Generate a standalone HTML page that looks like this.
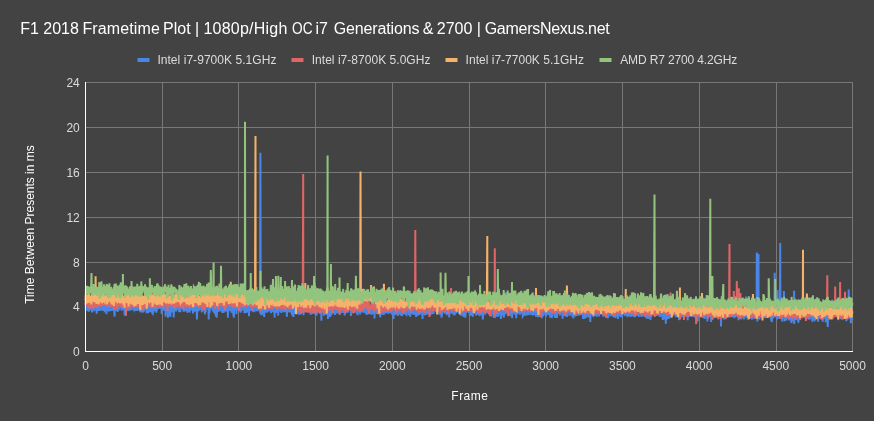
<!DOCTYPE html><html><head><meta charset="utf-8"><title>F1 2018 Frametime Plot</title>
<style>html,body{margin:0;padding:0;background:#434343;overflow:hidden}svg{display:block}text{font-family:"Liberation Sans",Arial,sans-serif}</style></head><body>
<svg width="874" height="421" viewBox="0 0 874 421">
<rect width="874" height="421" fill="#434343"/>
<text y="33.7" font-size="16" fill="#ffffff" xml:space="preserve"><tspan x="20.31" letter-spacing="0.0">F1 </tspan><tspan x="43.3" letter-spacing="0.0">2018 </tspan><tspan x="82.43" letter-spacing="0.129">Frametime </tspan><tspan x="163.05" letter-spacing="0.027">Plot </tspan><tspan x="194.88" letter-spacing="0.0">| </tspan><tspan x="203.51" letter-spacing="0.224">1080p/High </tspan><tspan x="292.0" textLength="20.5" lengthAdjust="spacingAndGlyphs">OC</tspan><tspan> </tspan><tspan x="315.39" letter-spacing="0.0">i7 </tspan><tspan x="333.75" letter-spacing="-0.145">Generations </tspan><tspan x="422.84" letter-spacing="0.0">&amp; </tspan><tspan x="436.8" letter-spacing="0.0">2700 </tspan><tspan x="476.78" letter-spacing="0.0">| </tspan><tspan x="484.65" letter-spacing="-0.269">GamersNexus.net </tspan></text>
<rect x="137.5" y="58" width="12" height="4" fill="#4a86e8"/>
<text x="157.39" y="64" font-size="12" fill="#dcdcdc" letter-spacing="0.049">Intel i7-9700K 5.1GHz</text>
<rect x="291.5" y="58" width="12" height="4" fill="#e06666"/>
<text x="311.7" y="64" font-size="12" fill="#dcdcdc" letter-spacing="0.034">Intel i7-8700K 5.0GHz</text>
<rect x="445.5" y="58" width="12" height="4" fill="#f6b26b"/>
<text x="465.61" y="64" font-size="12" fill="#dcdcdc" letter-spacing="0.014">Intel i7-7700K 5.1GHz</text>
<rect x="599.5" y="58" width="12" height="4" fill="#93c47d"/>
<text x="620.19" y="64" font-size="12" fill="#dcdcdc" letter-spacing="-0.136">AMD R7 2700 4.2GHz</text>
<rect x="162" y="82" width="1" height="270" fill="#787878"/>
<rect x="238" y="82" width="1" height="270" fill="#787878"/>
<rect x="315" y="82" width="1" height="270" fill="#787878"/>
<rect x="392" y="82" width="1" height="270" fill="#787878"/>
<rect x="469" y="82" width="1" height="270" fill="#787878"/>
<rect x="545" y="82" width="1" height="270" fill="#787878"/>
<rect x="622" y="82" width="1" height="270" fill="#787878"/>
<rect x="699" y="82" width="1" height="270" fill="#787878"/>
<rect x="776" y="82" width="1" height="270" fill="#787878"/>
<rect x="852" y="82" width="1" height="270" fill="#787878"/>
<rect x="85" y="82" width="768" height="1" fill="#787878"/>
<rect x="85" y="127" width="768" height="1" fill="#787878"/>
<rect x="85" y="172" width="768" height="1" fill="#787878"/>
<rect x="85" y="217" width="768" height="1" fill="#787878"/>
<rect x="85" y="262" width="768" height="1" fill="#787878"/>
<rect x="85" y="306" width="768" height="1" fill="#787878"/>
<g fill="none" stroke-width="2" stroke-linejoin="miter" stroke-linecap="butt">
<path d="M85.7,300.2 85.8,310.7 86.1,298.6 86.4,310.6 86.7,305.5 86.9,298.0 87.0,302.2 87.2,310.4 87.8,306.9 88.0,305.6 88.1,299.4 88.4,311.4 88.6,301.8 88.7,309.3 89.0,311.6 89.3,305.0 89.6,300.9 89.8,304.9 90.3,304.1 90.4,300.8 90.7,310.3 90.9,296.3 91.0,299.0 91.5,308.9 91.8,308.2 91.9,306.8 92.1,312.5 92.4,299.7 92.7,306.8 92.9,304.9 93.2,298.8 93.3,304.7 93.8,300.1 93.9,309.7 94.2,311.1 94.4,303.3 94.6,306.5 94.7,304.8 95.2,305.3 95.3,295.0 95.6,308.1 95.8,295.1 96.2,309.6 96.4,305.8 96.5,307.5 96.7,313.6 97.2,302.8 97.3,308.9 97.6,303.2 97.9,307.1 98.1,305.1 98.2,304.8 98.5,297.8 98.7,310.8 99.2,305.5 99.5,307.8 99.6,308.4 99.8,295.8 100.1,300.6 100.2,305.9 100.5,310.7 100.8,306.1 101.1,305.9 101.3,302.2 101.6,304.2 101.9,308.5 102.1,305.6 102.4,308.9 102.7,310.2 103.0,298.9 103.3,296.8 103.4,311.0 103.6,308.0 103.9,300.7 104.1,307.3 104.2,305.6 104.7,300.0 104.8,310.4 105.3,309.8 105.4,295.9 105.6,308.1 105.9,305.5 106.1,307.0 106.4,293.7 106.5,314.2 106.7,304.7 107.1,307.1 107.4,308.2 107.6,310.4 107.7,307.6 108.2,303.9 108.4,306.6 108.5,308.0 108.8,311.4 109.1,306.6 109.3,311.5 109.7,307.6 109.9,304.5 110.0,300.2 110.2,306.7 110.5,301.5 110.7,306.9 111.1,296.3 111.4,310.9 111.7,309.2 111.9,306.3 112.0,309.1 112.2,302.6 112.7,298.3 113.0,307.2 113.1,310.7 113.3,302.4 113.7,303.3 113.9,291.0 114.0,301.1 114.2,311.2 114.6,316.6 115.0,299.4 115.1,305.3 115.4,310.6 115.6,301.3 115.9,308.9 116.3,295.0 116.5,306.7 116.6,293.9 116.9,310.9 117.1,307.5 117.3,306.5 117.6,312.0 117.7,307.8 118.3,300.5 118.5,305.4 118.6,302.5 118.8,310.5 119.1,305.8 119.4,290.0 119.6,303.1 119.9,308.1 120.0,288.9 120.3,307.1 120.8,303.8 120.9,308.0 121.1,295.9 121.4,310.3 121.7,301.7 121.9,307.6 122.2,301.4 122.5,309.2 122.8,308.9 122.9,299.8 123.1,308.4 123.4,301.1 123.5,303.1 123.7,309.5 124.3,302.0 124.5,308.9 124.6,315.6 124.9,307.8 125.1,308.4 125.4,303.7 125.5,299.8 125.7,310.2 126.2,302.9 126.3,307.3 126.6,306.5 126.9,309.9 127.1,299.4 127.2,307.2 127.5,304.1 127.7,310.7 128.3,306.4 128.5,311.1 128.6,303.7 128.8,307.8 129.1,306.5 129.4,303.0 129.7,310.6 129.8,303.1 130.3,302.2 130.4,310.1 130.6,309.4 130.8,293.5 131.1,300.4 131.4,310.4 131.5,299.7 131.8,306.1 132.3,309.0 132.4,308.0 132.6,309.3 132.9,306.2 133.2,302.4 133.4,308.6 133.7,309.2 134.0,304.4 134.1,307.2 134.3,309.8 134.7,301.9 134.9,307.7 135.2,301.2 135.4,311.1 135.5,301.4 135.7,310.4 136.1,302.1 136.4,309.5 136.7,304.7 136.9,308.8 137.0,308.4 137.2,307.0 137.5,311.0 137.7,305.7 138.3,295.7 138.4,306.9 138.6,308.8 138.9,303.6 139.2,308.7 139.5,297.5 139.7,309.4 139.8,307.6 140.3,312.1 140.4,308.0 140.7,294.6 140.9,307.3 141.0,305.8 141.2,310.0 141.6,312.3 141.8,306.2 142.1,301.8 142.4,307.1 142.6,309.3 142.7,302.5 143.0,312.6 143.2,299.0 143.8,311.7 143.9,309.8 144.1,306.4 144.3,301.8 144.7,307.6 144.9,301.6 145.0,310.5 145.2,302.6 145.6,300.4 145.8,306.9 146.2,308.7 146.4,304.0 146.6,313.2 146.9,301.5 147.0,292.5 147.2,309.9 147.6,301.1 147.9,296.1 148.1,313.2 148.4,303.5 148.5,311.5 148.7,296.1 149.0,309.6 149.5,300.7 149.6,306.7 149.8,312.1 150.2,309.5 150.4,296.5 150.5,311.9 150.8,299.2 151.2,302.9 151.5,307.9 151.6,293.3 151.9,311.1 152.1,300.7 152.2,312.8 152.7,313.4 152.8,298.7 153.1,300.9 153.3,312.8 153.6,299.6 153.8,309.6 154.1,306.8 154.4,308.2 154.5,311.1 154.7,302.6 155.3,306.7 155.5,299.3 155.6,307.4 155.8,299.4 156.1,305.2 156.4,312.8 156.5,310.9 157.0,305.0 157.1,310.3 157.3,306.4 157.6,307.4 157.8,299.0 158.1,305.8 158.2,307.6 158.8,306.7 159.0,299.9 159.1,299.9 159.4,307.4 159.7,296.4 159.9,307.9 160.1,308.8 160.2,304.3 160.5,293.3 160.7,309.0 161.1,303.3 161.3,305.9 161.6,296.3 161.7,313.9 162.0,307.0 162.2,302.0 162.5,310.3 162.7,296.0 163.3,308.4 163.4,302.4 163.6,297.3 163.9,304.3 164.2,306.9 164.3,310.9 164.8,307.5 165.0,296.7 165.1,308.2 165.3,300.3 165.6,316.5 165.7,299.6 166.0,307.5 166.5,303.5 166.6,311.9 166.8,295.2 167.1,310.6 167.4,302.3 167.6,301.5 167.9,317.8 168.0,308.0 168.2,300.8 168.6,310.6 168.8,307.5 169.1,307.1 169.3,315.3 169.6,307.5 169.7,300.9 170.2,303.9 170.3,317.1 170.6,302.4 170.8,309.3 171.1,308.4 171.4,302.6 171.6,312.6 171.7,307.1 172.0,304.8 172.2,298.5 172.6,305.7 172.9,308.9 173.1,299.6 173.2,307.7 173.6,302.8 173.7,317.5 174.0,304.7 174.2,311.4 174.6,310.6 174.8,305.3 175.2,308.3 175.4,299.6 175.7,308.7 175.9,303.9 176.2,311.5 176.3,301.1 176.8,301.4 176.9,307.4 177.1,309.5 177.4,302.6 177.7,302.6 177.8,307.6 178.0,302.7 178.3,307.7 178.6,309.8 178.9,302.3 179.1,312.1 179.4,307.0 179.8,303.9 180.0,309.6 180.3,312.2 180.5,296.2 180.6,308.9 180.9,302.8 181.2,304.5 181.4,299.2 181.7,308.9 181.8,298.1 182.1,293.2 182.4,307.8 182.8,306.9 182.9,300.4 183.2,301.6 183.4,310.6 183.8,310.7 184.0,304.5 184.1,309.5 184.4,306.8 184.6,311.0 184.9,306.8 185.1,306.1 185.2,307.7 185.8,291.9 186.0,306.2 186.1,305.4 186.3,310.0 186.7,311.4 186.9,306.2 187.1,302.0 187.2,309.0 187.5,305.4 187.7,312.9 188.1,299.1 188.4,309.8 188.6,299.5 188.9,307.9 189.0,293.6 189.2,311.0 189.7,311.3 189.8,296.6 190.3,307.0 190.4,302.2 190.6,310.4 190.7,300.4 191.0,308.3 191.3,305.3 191.7,309.6 192.0,306.4 192.1,300.6 192.4,308.3 192.7,310.6 192.9,295.9 193.0,313.4 193.5,296.9 193.6,309.2 194.0,305.7 194.3,307.6 194.4,304.5 194.6,311.7 194.9,306.2 195.0,297.5 195.2,310.5 195.6,310.3 195.9,295.3 196.1,297.4 196.3,304.6 196.6,306.0 196.9,319.4 197.3,309.2 197.5,306.3 197.6,298.4 197.8,309.7 198.2,308.8 198.4,302.3 198.6,311.3 198.7,307.1 199.3,309.6 199.5,303.8 199.6,308.5 199.9,299.9 200.1,305.1 200.4,309.3 200.6,309.8 200.7,303.1 201.2,308.6 201.5,301.5 201.6,298.1 201.8,311.9 202.1,303.2 202.2,310.8 202.7,310.3 202.9,304.2 203.2,297.0 203.3,308.3 203.8,309.5 203.9,307.3 204.1,310.0 204.2,301.1 204.7,306.3 204.8,314.3 205.2,310.5 205.5,306.0 205.6,312.1 205.9,307.0 206.1,306.4 206.2,301.1 206.8,304.6 207.0,308.5 207.1,306.6 207.3,297.9 207.8,299.7 207.9,305.6 208.1,309.4 208.4,295.5 208.7,319.6 208.8,303.7 209.1,304.7 209.4,313.1 209.8,310.1 209.9,300.8 210.1,307.9 210.2,299.8 210.7,307.7 210.8,300.6 211.1,307.3 211.4,302.5 211.6,300.3 211.9,308.1 212.1,306.3 212.4,310.4 212.5,305.3 212.8,309.2 213.3,307.4 213.4,312.1 213.7,304.9 213.9,308.6 214.2,313.1 214.4,307.2 214.5,309.3 214.8,307.4 215.3,307.5 215.4,314.4 215.6,305.0 215.9,315.9 216.0,316.0 216.4,306.1 216.5,297.9 216.8,317.4 217.1,298.2 217.3,309.3 217.6,296.6 217.9,308.0 218.0,298.4 218.5,311.9 218.7,307.6 219.0,297.9 219.1,305.2 219.3,306.6 219.6,303.8 219.9,309.4 220.0,301.9 220.3,308.3 220.8,311.2 221.0,305.1 221.1,307.7 221.3,290.2 221.7,300.7 221.9,310.6 222.0,296.3 222.2,312.8 222.8,305.6 222.9,301.3 223.1,299.2 223.4,311.1 223.7,312.8 223.9,303.7 224.0,305.1 224.5,309.1 224.6,311.7 224.9,307.8 225.1,310.7 225.4,299.6 225.6,308.9 225.7,307.6 226.0,311.1 226.2,305.2 226.8,311.3 226.9,307.4 227.2,293.2 227.4,312.3 227.5,298.1 227.9,317.8 228.2,298.0 228.3,311.4 228.8,306.2 228.9,309.1 229.2,306.5 229.4,310.0 229.5,302.0 229.7,308.9 230.2,303.3 230.5,311.0 230.8,300.4 230.9,308.6 231.2,304.7 231.4,306.3 231.5,312.7 231.7,301.2 232.2,301.7 232.5,308.4 232.8,310.1 232.9,300.6 233.1,306.3 233.4,315.5 233.5,297.1 233.8,317.7 234.1,310.0 234.5,298.9 234.6,308.2 234.8,302.0 235.2,309.1 235.4,293.3 235.7,310.5 236.0,305.1 236.3,304.7 236.4,314.3 236.8,307.1 236.9,302.9 237.2,308.8 237.4,303.7 237.5,302.5 238.0,307.6 238.3,306.1 238.4,302.8 238.6,310.4 238.9,305.4 239.1,308.4 239.4,298.1 239.5,306.1 239.7,311.5 240.1,303.3 240.3,298.6 240.6,312.8 240.7,301.4 241.0,311.8 241.2,305.7 241.5,308.2 241.8,305.4 242.1,303.1 242.4,309.9 242.7,306.0 242.9,300.6 243.0,310.3 243.2,308.8 243.5,309.9 244.0,302.7 244.3,301.9 244.4,313.3 244.7,308.7 244.9,300.1 245.0,311.7 245.3,298.2 245.8,303.5 246.0,310.9 246.1,313.0 246.3,301.2 246.7,310.9 246.9,293.3 247.3,303.0 247.5,312.4 247.6,304.5 247.8,310.4 248.3,303.1 248.4,306.5 248.6,310.5 248.9,303.7 249.0,316.2 249.2,298.5 249.6,301.6 249.8,307.5 250.1,299.1 250.3,308.8 250.7,310.9 250.9,301.3 251.0,309.3 251.2,310.8 251.8,299.7 251.9,308.2 252.1,309.0 252.4,302.1 252.6,311.5 252.7,301.8 253.2,298.2 253.3,312.1 253.6,309.4 253.8,299.8 254.2,303.6 254.4,312.3 254.5,296.3 254.7,310.9 255.0,299.0 255.3,310.4 255.6,304.1 255.9,299.5 256.2,302.3 256.4,306.2 256.5,305.8 256.7,294.2 257.0,311.3 257.5,303.8 257.8,307.6 257.9,300.2 258.2,298.4 258.4,309.5 258.8,310.9 259.0,298.6 259.3,305.6 259.5,311.3 259.6,304.9 259.8,306.4 260.1,313.4 260.4,152.8 260.7,305.2 261.0,310.8 261.3,315.3 261.4,304.4 261.6,297.2 261.9,307.0 262.1,305.6 262.4,314.4 262.7,297.8 262.8,311.2 263.1,308.4 263.3,310.6 263.6,307.7 263.9,310.4 264.2,316.9 264.4,290.9 264.5,303.6 264.8,310.6 265.1,310.7 265.3,299.9 265.6,310.1 265.9,305.8 266.2,312.8 266.4,296.0 266.5,312.6 266.8,303.2 267.3,311.6 267.4,303.5 267.6,312.3 267.7,302.9 268.0,310.3 268.2,307.7 268.7,311.3 269.0,304.1 269.3,307.8 269.4,303.3 269.7,307.4 269.9,310.9 270.0,299.6 270.3,306.6 270.5,302.4 271.0,313.0 271.1,312.3 271.4,304.1 271.6,310.6 271.7,305.2 272.0,302.1 272.2,312.0 272.6,300.4 272.8,309.3 273.1,309.4 273.3,304.1 273.7,312.4 273.9,300.9 274.2,310.0 274.5,305.7 274.6,317.4 274.8,303.4 275.3,307.7 275.4,295.1 275.6,310.9 275.9,302.7 276.0,312.9 276.5,303.4 276.6,311.4 276.9,306.5 277.1,300.6 277.4,309.5 277.6,308.1 277.7,296.7 278.2,315.6 278.5,295.5 278.6,310.6 278.9,300.7 279.1,310.1 279.4,302.7 279.6,300.7 279.9,308.8 280.0,298.0 280.5,312.3 280.8,307.2 280.9,309.8 281.1,304.9 281.4,312.9 281.7,310.7 281.9,303.1 282.2,311.1 282.3,301.4 282.6,295.9 282.9,305.9 283.2,311.5 283.4,303.0 283.8,299.3 284.0,310.2 284.2,312.2 284.5,304.9 284.6,306.0 284.8,302.9 285.1,306.9 285.2,310.4 285.5,303.0 285.8,312.2 286.3,307.7 286.5,298.9 286.6,309.0 286.9,316.6 287.1,309.3 287.2,306.7 287.7,310.7 287.8,303.4 288.3,296.8 288.4,312.3 288.6,307.1 288.8,311.0 289.1,307.0 289.4,309.7 289.5,312.2 289.8,301.9 290.1,302.8 290.3,310.7 290.6,312.7 290.9,307.9 291.1,312.1 291.2,306.3 291.8,302.7 292.0,315.2 292.1,310.2 292.3,301.2 292.6,312.5 292.7,309.3 293.2,311.2 293.4,317.0 293.8,312.7 294.0,304.5 294.1,311.3 294.4,303.7 294.6,304.5 294.9,310.4 295.2,309.0 295.4,313.8 295.5,311.1 295.7,304.9 296.1,305.7 296.4,310.9 296.7,311.4 296.9,304.8 297.3,298.5 297.5,306.2 297.7,309.1 297.8,307.6 298.1,314.3 298.3,302.5 298.7,303.6 298.9,312.5 299.2,314.1 299.3,302.3 299.6,314.9 299.8,303.8 300.3,310.4 300.4,301.4 300.7,310.9 300.9,305.4 301.0,295.9 301.5,311.0 301.8,302.3 301.9,311.5 302.3,310.9 302.4,309.1 302.6,311.8 302.9,298.7 303.3,309.1 303.5,315.1 303.8,310.8 303.9,301.9 304.1,309.0 304.4,303.2 304.6,301.4 304.9,310.1 305.2,301.8 305.5,311.0 305.8,312.0 305.9,299.4 306.1,309.8 306.4,312.2 306.5,306.5 306.9,300.8 307.0,311.4 307.3,306.4 307.8,309.1 307.9,312.1 308.1,296.6 308.2,311.3 308.5,308.6 308.7,307.2 309.0,311.0 309.3,300.7 309.6,308.5 309.8,310.6 310.2,311.8 310.4,302.8 310.5,314.8 310.8,303.1 311.3,314.3 311.5,312.9 311.8,309.3 311.9,310.7 312.2,306.0 312.4,313.3 312.5,313.9 313.0,306.3 313.1,299.4 313.5,306.2 313.6,309.0 313.9,298.2 314.2,313.7 314.4,296.9 314.7,312.7 315.0,300.9 315.1,309.2 315.4,305.5 315.8,315.4 315.9,310.9 316.2,307.3 316.4,311.5 316.7,315.4 317.0,305.8 317.3,313.3 317.4,310.9 317.6,303.9 317.7,307.8 318.1,309.8 318.4,307.3 318.5,311.5 319.0,300.9 319.3,309.3 319.4,310.4 319.7,310.1 319.9,304.2 320.0,314.0 320.4,304.1 320.5,294.6 321.0,310.3 321.1,309.4 321.4,320.8 321.6,306.4 321.9,311.3 322.0,298.9 322.2,311.5 322.5,301.3 323.0,311.6 323.1,312.7 323.4,305.5 323.7,309.2 323.9,315.6 324.0,297.8 324.2,313.7 324.7,309.2 325.0,304.2 325.1,300.8 325.3,314.8 325.6,311.2 325.9,298.8 326.3,314.5 326.5,304.0 326.6,310.2 326.8,308.5 327.1,305.3 327.3,310.5 327.6,299.1 327.9,318.9 328.2,312.6 328.3,304.2 328.8,310.1 328.9,313.5 329.3,314.0 329.4,309.0 329.7,317.3 329.9,312.6 330.3,304.6 330.5,312.3 330.8,306.0 330.9,312.0 331.1,306.7 331.2,314.4 331.6,313.8 331.9,304.3 332.0,299.6 332.5,313.2 332.8,311.7 332.9,302.7 333.1,306.7 333.4,311.6 333.5,302.7 333.7,310.6 334.0,313.3 334.3,308.4 334.8,308.8 334.9,315.0 335.2,310.4 335.4,303.7 335.5,310.8 335.7,304.9 336.0,311.3 336.3,300.1 336.6,312.1 336.9,304.9 337.1,313.4 337.2,308.5 337.5,305.1 337.8,312.8 338.1,308.5 338.3,311.3 338.6,310.6 338.9,301.2 339.2,302.7 339.4,309.9 339.5,296.7 339.8,314.7 340.1,305.3 340.5,312.0 340.8,306.1 340.9,312.8 341.1,311.6 341.4,308.1 341.7,306.0 341.8,310.2 342.1,312.8 342.3,309.8 342.6,310.6 342.9,302.0 343.1,313.0 343.4,307.0 343.5,304.6 344.0,309.8 344.1,305.2 344.3,310.4 344.6,306.2 344.7,315.5 345.1,310.6 345.4,309.2 345.7,313.3 346.0,305.2 346.1,311.1 346.3,297.8 346.7,310.6 346.9,301.4 347.0,307.5 347.2,304.2 347.8,306.6 348.0,312.8 348.1,309.9 348.3,298.4 348.7,310.8 348.9,310.2 349.0,310.9 349.2,304.8 349.5,303.1 349.7,305.1 350.3,308.5 350.4,305.2 350.7,307.2 350.9,316.0 351.0,312.2 351.5,301.8 351.6,313.3 352.0,304.1 352.1,297.2 352.3,307.4 352.6,312.4 352.7,302.6 353.0,310.8 353.5,308.2 353.6,311.4 353.8,304.3 354.1,302.7 354.3,310.0 354.6,308.4 354.9,312.7 355.0,299.3 355.5,312.6 355.6,304.6 355.8,311.3 356.1,301.3 356.3,310.0 356.6,311.4 356.9,313.0 357.2,313.6 357.5,299.3 357.6,315.2 357.9,303.6 358.1,310.4 358.2,301.9 358.7,311.1 358.9,304.8 359.2,304.2 359.5,312.3 359.6,309.8 359.9,312.6 360.2,314.3 360.4,302.4 360.7,299.4 360.9,309.4 361.2,311.7 361.5,305.9 361.8,308.8 361.9,311.7 362.1,304.5 362.4,300.5 362.5,312.5 362.7,302.3 363.0,303.2 363.5,312.7 363.6,305.5 363.9,312.7 364.1,312.1 364.2,302.8 364.7,299.1 364.8,311.4 365.1,311.7 365.3,301.6 365.8,312.3 365.9,306.6 366.2,314.7 366.4,307.1 366.7,307.7 366.8,301.1 367.1,313.8 367.3,304.3 367.6,314.6 367.9,310.2 368.1,307.7 368.4,309.7 368.8,312.1 369.0,299.0 369.1,311.8 369.3,306.6 369.6,307.2 369.8,311.3 370.1,311.3 370.2,305.1 370.7,314.3 370.8,307.6 371.1,307.6 371.4,309.7 371.6,314.7 371.7,311.2 372.1,313.6 372.2,302.5 372.5,307.2 372.7,300.5 373.1,314.0 373.4,308.6 373.7,305.5 373.9,310.4 374.0,309.2 374.2,300.5 374.5,318.4 374.8,309.2 375.1,304.2 375.4,312.0 375.6,300.6 375.9,307.5 376.2,306.9 376.5,312.3 376.7,310.6 376.8,314.0 377.1,306.4 377.3,310.9 377.6,311.4 377.7,307.8 378.0,314.1 378.3,301.0 378.6,311.0 378.8,306.9 379.1,314.0 379.3,306.9 379.6,305.8 379.7,311.1 380.3,317.3 380.5,300.2 380.8,310.6 380.9,302.0 381.1,314.8 381.3,301.4 381.6,306.9 381.7,312.6 382.3,313.1 382.5,299.6 382.8,313.5 382.9,303.8 383.1,311.1 383.4,314.9 383.6,309.1 383.7,314.6 384.0,312.6 384.2,303.8 384.6,314.3 384.8,296.8 385.1,311.9 385.4,293.3 385.6,307.7 385.9,312.9 386.0,299.2 386.3,312.6 386.8,308.3 386.9,301.6 387.1,313.3 387.2,307.5 387.5,313.1 387.7,305.0 388.2,311.0 388.3,313.8 388.8,311.6 388.9,306.0 389.1,306.6 389.2,311.4 389.5,303.8 389.7,309.5 390.2,313.2 390.3,304.7 390.6,311.3 390.8,310.1 391.1,301.9 391.2,309.8 391.5,305.5 392.0,313.4 392.1,314.7 392.3,310.2 392.8,301.8 392.9,310.2 393.2,315.7 393.4,305.1 393.5,319.1 393.7,306.0 394.3,311.0 394.4,313.7 394.6,297.7 394.8,309.8 395.2,307.5 395.4,314.9 395.8,301.0 396.0,313.2 396.1,313.1 396.3,305.8 396.7,309.5 396.9,302.0 397.1,307.1 397.4,310.9 397.8,315.9 398.0,305.7 398.3,301.7 398.4,311.1 398.6,304.8 398.9,310.5 399.2,314.3 399.4,305.9 399.5,307.6 399.7,310.9 400.3,305.7 400.4,311.7 400.6,310.3 400.9,315.5 401.0,308.3 401.2,306.1 401.7,299.2 401.8,314.2 402.1,316.0 402.3,307.1 402.7,309.9 402.9,312.6 403.3,310.8 403.5,297.9 403.8,306.2 404.0,314.3 404.1,312.6 404.4,311.7 404.7,314.3 404.9,309.1 405.0,302.5 405.3,313.1 405.6,311.7 406.0,314.0 406.3,314.4 406.4,310.9 406.6,315.4 406.7,302.7 407.3,303.3 407.5,312.9 407.6,309.3 407.8,304.8 408.3,310.4 408.4,305.3 408.6,305.3 408.7,311.9 409.0,315.1 409.2,308.0 409.6,309.3 409.8,314.2 410.2,316.7 410.4,304.9 410.7,300.6 410.9,309.7 411.0,312.7 411.5,306.2 411.6,313.1 411.9,307.7 412.1,314.3 412.2,310.2 412.5,310.5 412.7,312.0 413.0,303.7 413.3,311.4 413.8,314.8 413.9,306.4 414.2,311.2 414.4,304.4 414.5,303.8 414.8,311.9 415.2,301.5 415.5,310.8 415.6,311.8 415.8,313.2 416.2,317.0 416.4,297.5 416.5,312.7 416.7,308.0 417.2,304.8 417.5,312.1 417.8,313.3 417.9,308.3 418.1,315.6 418.2,309.0 418.8,313.1 419.0,303.2 419.1,305.1 419.5,314.9 419.6,313.7 419.8,311.6 420.1,304.0 420.4,313.9 420.8,300.8 421.0,309.4 421.1,301.7 421.4,313.9 421.6,311.0 421.9,308.2 422.1,311.6 422.2,304.3 422.5,319.0 423.0,302.7 423.1,313.3 423.4,303.4 423.6,303.5 423.7,313.0 424.1,313.5 424.2,310.1 424.5,313.6 425.0,299.5 425.3,311.4 425.4,302.1 425.6,304.4 425.7,310.3 426.0,303.3 426.2,314.1 426.7,314.0 427.0,310.1 427.1,309.3 427.3,300.6 427.6,307.0 427.7,312.8 428.0,313.9 428.2,313.0 428.5,312.4 428.8,308.1 429.1,305.0 429.3,311.2 429.7,295.3 429.9,306.2 430.3,315.4 430.5,306.7 430.6,303.2 431.0,312.7 431.1,314.3 431.3,304.6 431.6,307.9 431.7,314.0 432.2,312.0 432.3,308.2 432.6,310.0 432.8,307.4 433.1,311.1 433.4,313.9 433.6,312.4 433.9,298.1 434.0,302.0 434.3,308.1 434.8,310.6 434.9,306.7 435.3,309.6 435.4,306.3 435.6,305.4 435.9,310.9 436.2,298.9 436.5,312.2 436.6,301.2 436.8,312.5 437.2,305.9 437.4,311.6 437.7,311.1 437.9,299.4 438.0,312.0 438.2,300.9 438.6,309.0 438.8,311.4 439.2,305.7 439.4,314.2 439.5,314.6 439.9,305.2 440.2,306.0 440.5,312.2 440.8,313.9 440.9,312.0 441.1,304.4 441.4,311.5 441.5,317.7 441.8,305.1 442.0,315.7 442.2,309.4 442.6,304.7 442.8,308.2 443.2,311.8 443.4,307.4 443.5,312.4 443.7,300.4 444.1,310.1 444.3,302.2 444.6,304.3 444.8,313.8 445.1,309.0 445.4,311.6 445.8,305.1 446.0,313.0 446.1,307.5 446.3,312.1 446.6,314.4 446.9,302.1 447.1,303.9 447.4,313.7 447.8,313.3 448.0,307.1 448.1,311.4 448.4,306.9 448.6,310.8 448.8,314.3 449.1,308.3 449.2,317.4 449.8,304.8 450.0,312.3 450.1,294.6 450.3,309.3 450.7,310.0 450.9,303.1 451.1,304.8 451.2,313.4 451.7,308.5 451.8,313.5 452.1,312.5 452.3,311.7 452.6,303.8 452.7,313.5 453.0,305.4 453.2,308.1 453.8,315.3 454.0,309.7 454.3,308.7 454.4,303.9 454.7,315.2 454.9,306.0 455.0,307.7 455.2,311.9 455.8,304.4 456.0,313.6 456.1,306.5 456.4,310.9 456.6,300.2 456.7,309.2 457.3,298.1 457.5,312.3 457.6,296.4 457.8,308.0 458.1,306.9 458.4,312.7 458.6,305.5 458.9,312.2 459.2,313.1 459.5,308.9 459.6,307.6 459.9,312.6 460.3,315.2 460.4,304.6 460.6,309.0 460.7,310.3 461.0,304.2 461.2,315.7 461.8,310.2 461.9,303.7 462.1,308.4 462.4,314.5 462.7,313.6 462.9,304.6 463.0,292.7 463.2,313.8 463.6,316.9 463.8,305.1 464.1,306.3 464.2,314.4 464.6,300.6 464.7,314.5 465.2,306.1 465.3,317.8 465.6,313.7 465.8,304.9 466.1,310.6 466.4,305.9 466.7,303.9 466.9,306.7 467.2,311.9 467.3,301.8 467.8,301.4 467.9,308.7 468.1,308.9 468.4,311.5 468.5,312.8 468.8,311.5 469.0,312.7 469.3,305.2 469.8,315.9 469.9,309.1 470.1,304.9 470.2,311.2 470.5,305.5 470.7,315.8 471.1,306.8 471.3,311.1 471.6,302.7 471.8,312.5 472.1,313.6 472.2,307.3 472.8,316.7 473.0,298.9 473.3,308.4 473.4,301.8 473.6,312.1 473.8,307.8 474.1,311.1 474.2,310.7 474.8,313.7 475.0,309.0 475.1,308.0 475.4,311.7 475.6,308.4 475.9,302.2 476.1,315.4 476.2,303.7 476.7,313.1 476.8,311.2 477.1,311.7 477.4,313.9 477.6,314.4 477.7,305.1 478.1,314.6 478.4,304.9 478.5,311.4 479.0,298.1 479.3,301.7 479.4,316.1 479.6,312.3 479.7,310.1 480.0,311.0 480.2,307.7 480.7,306.2 481.0,313.5 481.1,315.0 481.3,313.6 481.7,314.0 481.9,310.8 482.3,315.6 482.5,308.8 482.7,302.7 482.8,319.4 483.1,315.3 483.4,311.3 483.7,305.4 483.9,314.4 484.0,313.2 484.3,304.6 484.8,309.1 485.0,294.7 485.3,314.7 485.4,307.8 485.7,311.4 485.9,305.2 486.0,312.5 486.2,306.3 486.8,311.0 486.9,305.7 487.3,304.7 487.4,312.9 487.7,304.2 487.9,310.3 488.0,304.9 488.5,312.8 488.6,312.8 488.9,309.2 489.1,302.3 489.2,309.6 489.6,310.1 489.7,307.9 490.2,303.4 490.5,314.0 490.8,305.2 490.9,309.6 491.1,308.9 491.4,316.4 491.7,313.1 491.9,307.6 492.3,307.1 492.5,313.9 492.8,310.0 492.9,305.0 493.1,308.4 493.2,305.2 493.5,300.9 493.9,318.0 494.0,300.3 494.2,315.3 494.8,316.0 494.9,304.8 495.2,317.2 495.4,303.7 495.5,297.7 495.7,310.5 496.3,302.6 496.5,316.6 496.6,315.9 496.8,303.2 497.2,313.7 497.4,306.1 497.5,315.0 497.8,306.4 498.1,307.6 498.3,316.7 498.6,308.1 498.9,314.6 499.2,301.3 499.4,314.2 499.7,308.3 500.0,313.7 500.1,295.4 500.3,314.1 500.8,310.6 500.9,318.9 501.2,313.7 501.4,296.0 501.7,312.9 502.0,299.3 502.1,311.1 502.4,313.9 502.7,311.8 502.9,302.8 503.1,315.4 503.2,307.6 503.8,317.6 504.0,305.9 504.1,316.3 504.4,305.8 504.6,306.1 504.7,313.8 505.2,302.2 505.4,313.9 505.5,313.6 506.0,292.2 506.1,307.8 506.4,311.3 506.7,311.5 506.9,306.7 507.2,303.7 507.4,311.2 507.5,306.7 507.8,314.5 508.1,310.7 508.3,302.0 508.6,313.5 508.9,311.1 509.3,312.6 509.5,309.0 509.7,296.6 509.8,316.0 510.3,314.6 510.4,303.4 510.6,314.3 510.7,311.7 511.0,308.9 511.5,313.6 511.6,312.3 512.0,307.5 512.1,318.1 512.4,309.6 512.6,309.0 512.7,304.0 513.0,302.2 513.5,311.5 513.6,303.7 513.8,308.5 514.1,313.5 514.4,302.2 514.6,314.3 514.9,301.9 515.2,314.8 515.5,299.1 515.6,311.3 515.8,306.0 516.1,301.8 516.2,318.2 516.6,311.7 516.9,313.5 517.0,312.0 517.2,308.7 517.6,297.9 517.8,313.6 518.2,308.6 518.4,303.0 518.7,300.6 518.9,312.2 519.3,304.4 519.5,314.4 519.6,309.1 519.9,300.1 520.2,314.8 520.4,308.8 520.7,309.4 520.8,306.1 521.3,306.8 521.5,313.4 521.6,305.3 521.8,312.8 522.1,308.7 522.2,309.3 522.7,306.3 522.8,316.0 523.3,315.2 523.5,297.3 523.6,311.6 523.9,311.1 524.1,313.2 524.2,308.7 524.5,315.8 524.8,305.0 525.3,307.7 525.5,312.5 525.8,305.3 525.9,309.5 526.2,311.2 526.4,304.1 526.5,315.5 526.8,311.4 527.1,296.6 527.3,313.4 527.8,304.1 527.9,315.1 528.1,307.9 528.4,315.0 528.5,313.6 528.7,303.1 529.3,313.2 529.4,307.1 529.6,300.2 529.9,310.0 530.1,312.5 530.4,314.3 530.7,309.9 530.8,314.1 531.1,308.3 531.4,313.5 531.6,315.0 531.9,301.8 532.0,313.9 532.2,304.6 532.5,312.6 532.7,303.4 533.1,315.5 533.4,305.9 533.7,311.4 533.9,311.9 534.0,307.0 534.2,314.9 534.5,313.2 534.7,301.4 535.1,314.6 535.3,296.1 535.7,309.6 535.9,314.5 536.0,316.6 536.3,313.2 536.8,316.2 537.0,312.7 537.3,305.1 537.4,316.0 537.6,312.7 537.7,307.3 538.0,317.3 538.2,301.2 538.6,313.3 538.8,304.4 539.3,314.8 539.4,311.2 539.6,297.8 539.7,315.4 540.2,304.5 540.3,314.3 540.6,312.2 540.9,313.0 541.3,315.6 541.4,305.0 541.7,308.5 541.9,318.2 542.2,301.9 542.3,311.0 542.8,308.6 542.9,303.6 543.1,300.0 543.2,316.3 543.6,305.8 543.9,314.7 544.0,301.1 544.3,311.9 544.6,312.4 544.8,304.0 545.1,310.5 545.2,312.3 545.7,309.1 545.9,299.0 546.0,316.8 546.2,308.8 546.6,312.7 546.9,307.3 547.1,301.6 547.2,310.2 547.5,308.0 547.8,311.8 548.0,314.6 548.3,301.3 548.6,315.1 548.8,301.7 549.2,308.1 549.4,311.9 549.8,316.0 550.0,311.1 550.3,317.6 550.5,305.1 550.8,309.2 550.9,313.3 551.2,303.6 551.4,316.4 551.5,304.4 551.7,318.1 552.3,313.1 552.4,306.9 552.6,311.6 552.8,311.3 553.1,313.4 553.2,308.7 553.5,303.7 554.0,313.6 554.1,314.1 554.3,307.1 554.6,316.8 554.9,304.5 555.1,317.8 555.2,312.8 555.5,317.9 556.0,300.4 556.1,312.6 556.4,306.8 556.6,306.4 556.7,310.3 557.1,318.0 557.2,309.9 557.5,310.3 557.7,302.1 558.1,311.7 558.3,298.7 558.6,312.0 558.7,299.2 559.0,314.0 559.2,303.7 559.8,301.6 560.0,315.4 560.3,312.7 560.4,307.0 560.6,312.3 560.9,303.4 561.0,305.3 561.3,307.7 561.8,308.3 562.0,313.8 562.1,307.5 562.4,314.8 562.6,318.7 562.7,299.9 563.0,301.2 563.2,315.1 563.6,305.9 563.8,313.9 564.3,307.8 564.4,315.0 564.6,315.7 564.9,309.2 565.0,311.4 565.5,316.2 565.8,307.4 565.9,312.2 566.1,313.3 566.3,308.4 566.6,306.6 566.7,312.1 567.0,317.0 567.5,303.9 567.6,304.4 567.8,313.3 568.1,312.3 568.2,302.4 568.6,311.9 568.9,303.8 569.0,306.9 569.2,313.5 569.6,315.8 569.9,312.0 570.2,314.7 570.4,303.2 570.7,311.4 570.9,303.0 571.0,314.1 571.2,307.9 571.8,311.6 571.9,300.2 572.1,305.2 572.4,317.3 572.5,313.7 572.9,305.5 573.3,313.5 573.5,318.4 573.6,303.8 573.9,310.0 574.1,305.9 574.4,312.9 574.5,311.5 575.0,313.6 575.3,307.7 575.5,316.5 575.8,306.7 575.9,312.3 576.1,309.5 576.2,311.9 576.7,315.4 577.0,304.6 577.1,315.8 577.5,302.6 577.6,300.6 577.8,311.3 578.1,301.0 578.2,306.1 578.5,315.7 579.0,304.2 579.1,310.5 579.3,313.3 579.6,314.4 579.8,311.8 580.2,308.3 580.4,315.1 580.7,313.8 581.0,305.3 581.3,306.9 581.4,314.2 581.6,312.7 581.7,314.8 582.1,305.1 582.2,314.1 582.5,307.4 583.0,315.9 583.1,319.0 583.3,312.7 583.7,312.5 583.9,308.6 584.0,309.2 584.2,317.2 584.7,307.0 584.8,318.8 585.1,307.9 585.4,313.4 585.7,315.5 585.9,305.5 586.0,309.2 586.4,317.6 586.7,311.1 586.8,302.8 587.3,311.1 587.4,304.8 587.6,314.1 587.9,310.2 588.0,314.1 588.3,304.5 588.7,317.4 588.8,312.0 589.3,310.4 589.4,313.0 589.6,296.5 589.9,308.3 590.0,310.1 590.3,322.0 590.6,312.8 591.0,315.7 591.1,306.1 591.4,312.2 591.7,300.8 591.9,312.9 592.2,314.9 592.5,298.7 592.6,313.1 592.9,308.2 593.3,317.0 593.4,313.1 593.6,305.5 593.7,303.5 594.0,305.9 594.2,314.7 594.6,314.1 594.8,311.8 595.1,306.9 595.4,311.9 595.6,305.0 595.7,316.1 596.3,305.7 596.5,314.6 596.8,316.7 596.9,308.6 597.1,309.5 597.4,304.6 597.7,305.7 597.9,312.7 598.2,314.6 598.3,297.1 598.6,311.9 598.9,308.1 599.1,316.4 599.2,309.4 599.7,309.7 599.9,312.2 600.0,313.6 600.5,303.7 600.6,312.9 600.8,306.9 601.1,314.5 601.2,311.7 601.7,312.9 602.0,305.4 602.2,312.4 602.3,309.8 602.6,312.6 602.9,305.7 603.2,316.7 603.4,309.8 603.5,316.6 604.0,307.0 604.1,310.2 604.3,309.4 604.8,305.3 604.9,314.1 605.1,305.3 605.4,314.3 605.7,315.7 606.0,308.2 606.1,314.9 606.4,311.1 606.8,313.6 606.9,298.3 607.2,300.4 607.4,314.2 607.5,302.9 607.8,318.4 608.1,305.2 608.3,317.0 608.7,315.2 608.9,295.5 609.1,303.4 609.4,307.9 609.5,300.3 609.8,314.6 610.3,302.9 610.4,313.2 610.6,307.9 610.9,316.2 611.0,312.1 611.2,299.8 611.8,315.7 612.0,299.1 612.1,311.3 612.4,302.6 612.6,308.2 612.7,314.6 613.0,308.9 613.3,317.0 613.5,305.7 613.8,314.7 614.1,317.4 614.3,311.4 614.6,314.4 614.9,310.3 615.0,308.2 615.5,317.9 615.7,311.5 616.0,316.5 616.3,313.2 616.4,316.3 616.6,312.3 616.9,314.0 617.0,311.3 617.3,303.6 617.6,315.0 618.0,318.9 618.1,314.4 618.4,303.7 618.7,310.5 618.9,307.8 619.0,314.5 619.2,307.5 619.6,302.0 619.9,315.4 620.1,315.6 620.4,305.7 620.6,308.0 620.9,315.4 621.2,311.6 621.5,315.3 621.6,302.0 621.9,312.2 622.1,317.2 622.4,307.6 622.6,312.2 622.7,307.8 623.0,312.5 623.5,305.4 623.6,303.0 623.9,312.6 624.1,313.8 624.2,307.4 624.7,313.9 624.9,315.8 625.3,305.5 625.5,314.7 625.8,302.2 625.9,307.8 626.1,315.5 626.2,312.2 626.5,312.5 626.8,311.1 627.0,304.1 627.5,317.2 627.6,303.1 627.8,313.6 628.1,304.7 628.4,314.9 628.5,315.8 628.8,310.6 629.1,308.7 629.5,312.8 629.8,314.4 629.9,301.6 630.2,308.8 630.4,316.1 630.5,317.0 630.7,305.6 631.1,307.6 631.5,310.4 631.8,316.0 631.9,309.8 632.1,314.4 632.2,316.1 632.7,307.4 633.0,314.4 633.1,313.4 633.4,306.9 633.8,311.4 633.9,317.1 634.1,305.7 634.2,310.3 634.5,317.1 635.0,301.2 635.1,317.1 635.4,305.8 635.6,303.7 635.7,313.3 636.2,313.3 636.4,310.2 636.7,314.0 637.0,310.7 637.3,301.0 637.4,315.6 637.6,313.5 637.7,307.9 638.0,315.5 638.4,302.2 638.5,306.5 638.8,317.0 639.1,311.2 639.3,313.9 639.7,313.4 639.9,300.2 640.0,315.0 640.3,309.9 640.7,305.5 640.8,313.5 641.3,316.8 641.4,299.8 641.7,308.0 641.9,314.9 642.2,307.0 642.5,313.5 642.6,316.6 643.0,309.9 643.3,307.8 643.4,313.7 643.6,314.6 643.7,311.1 644.0,316.0 644.5,306.3 644.6,309.0 644.8,300.3 645.3,315.7 645.4,310.9 645.6,305.6 645.9,315.4 646.2,314.9 646.5,305.4 646.6,307.3 646.9,318.4 647.1,314.0 647.3,311.1 647.6,313.0 647.7,310.0 648.0,311.0 648.3,319.0 648.8,313.9 648.9,308.4 649.1,306.3 649.4,315.0 649.6,312.2 649.9,316.0 650.3,304.8 650.5,320.0 650.6,309.8 650.8,315.6 651.1,310.6 651.2,317.3 651.5,312.5 651.9,307.0 652.0,305.3 652.2,314.0 652.8,310.6 652.9,315.3 653.1,308.9 653.4,314.9 653.5,308.7 653.7,315.1 654.0,312.6 654.2,303.2 654.6,305.3 654.8,314.8 655.1,305.5 655.4,312.0 655.5,303.1 655.7,315.1 656.1,314.7 656.3,303.8 656.6,311.7 656.9,315.6 657.2,306.9 657.4,313.2 657.7,314.5 657.8,310.7 658.3,314.1 658.4,308.9 658.8,315.6 658.9,308.3 659.2,314.1 659.4,310.8 659.8,316.8 660.0,303.8 660.1,305.0 660.4,316.3 660.6,316.8 660.8,307.8 661.2,300.5 661.4,314.5 661.7,316.2 662.0,309.6 662.1,308.7 662.4,313.8 662.6,309.9 662.7,319.9 663.1,306.2 663.4,315.6 663.5,314.4 664.0,308.2 664.1,306.0 664.4,313.4 664.6,309.5 664.7,319.4 665.0,310.2 665.4,316.5 665.5,303.0 665.8,323.7 666.1,307.6 666.3,313.0 666.6,319.9 666.7,308.9 667.3,294.0 667.5,311.4 667.7,314.1 667.8,310.3 668.3,315.6 668.4,303.1 668.6,318.9 668.9,314.8 669.3,309.7 669.5,313.8 669.6,315.1 669.8,309.5 670.1,310.1 670.3,315.2 670.7,317.7 670.9,313.4 671.3,314.4 671.5,310.0 671.6,315.3 671.8,313.5 672.1,309.7 672.3,307.4 672.7,308.3 672.9,314.6 673.0,301.1 673.3,311.9 673.8,304.3 673.9,312.4 674.2,314.7 674.4,308.1 674.6,303.6 674.9,313.2 675.3,316.0 675.5,310.8 675.6,311.6 675.8,308.1 676.1,317.2 676.4,298.0 676.6,316.0 676.7,301.6 677.2,313.2 677.5,316.5 677.6,314.1 677.8,305.8 678.2,299.2 678.4,311.2 678.5,314.3 678.9,312.9 679.0,320.1 679.2,313.6 679.6,317.1 679.8,310.8 680.1,317.6 680.2,310.8 680.5,305.3 680.8,314.8 681.2,302.8 681.3,313.1 681.8,313.7 681.9,315.1 682.1,317.0 682.4,304.3 682.8,313.3 683.0,317.1 683.3,311.0 683.5,314.2 683.6,304.0 683.8,315.5 684.1,317.4 684.4,314.6 684.7,306.4 685.0,313.8 685.3,314.1 685.4,315.9 685.6,295.0 685.9,313.8 686.1,311.9 686.4,304.6 686.7,316.8 687.0,308.4 687.3,317.1 687.4,308.9 687.7,320.2 687.9,313.3 688.1,316.1 688.2,309.7 688.5,315.4 688.7,312.3 689.1,307.4 689.3,316.9 689.7,310.7 689.9,313.3 690.0,308.0 690.2,315.3 690.5,316.4 690.8,307.5 691.3,305.8 691.4,315.3 691.7,315.4 691.9,311.1 692.0,316.5 692.4,307.0 692.8,315.9 693.0,309.3 693.1,315.3 693.4,303.4 693.6,316.8 693.7,312.1 694.2,303.5 694.5,315.9 694.8,317.4 695.0,314.8 695.3,313.3 695.4,306.6 695.6,315.1 695.9,314.1 696.0,308.9 696.5,316.4 696.6,309.8 697.0,311.4 697.1,307.4 697.4,311.6 697.6,299.3 697.7,321.5 698.2,308.2 698.3,314.0 698.6,313.4 698.8,304.8 699.1,302.5 699.3,312.1 699.6,309.8 699.9,315.3 700.3,307.1 700.5,317.0 700.6,305.2 700.9,312.0 701.1,309.0 701.2,316.6 701.7,311.5 701.9,316.8 702.0,312.4 702.5,314.2 702.6,315.6 702.9,304.7 703.2,297.9 703.4,311.6 703.7,315.3 703.9,297.8 704.0,318.4 704.3,304.1 704.8,314.3 704.9,318.9 705.1,308.5 705.2,314.0 705.5,309.3 705.8,316.5 706.0,308.4 706.5,315.9 706.6,304.1 706.8,314.0 707.2,312.5 707.4,321.4 707.5,306.2 708.0,317.8 708.2,317.3 708.3,308.0 708.6,313.0 708.8,304.0 709.2,314.6 709.4,311.1 709.7,314.1 710.0,306.5 710.3,314.6 710.5,304.8 710.8,319.3 710.9,313.7 711.1,321.9 711.4,307.9 711.7,309.2 711.8,318.1 712.1,313.0 712.4,319.9 712.8,311.2 712.9,314.0 713.2,312.2 713.4,317.0 713.7,312.3 714.0,318.4 714.1,311.9 714.3,316.9 714.7,313.5 714.9,315.5 715.2,314.9 715.4,315.0 715.8,307.7 716.0,311.4 716.3,311.3 716.4,314.7 716.6,308.0 716.9,315.6 717.0,317.7 717.2,313.5 717.5,316.9 718.0,307.4 718.3,314.4 718.4,306.2 718.6,314.8 718.9,312.0 719.0,315.6 719.3,303.8 719.5,313.5 720.0,307.2 720.1,308.1 720.4,306.1 720.6,308.8 720.9,313.5 721.0,326.4 721.3,304.4 721.6,306.4 722.0,311.4 722.1,313.6 722.4,314.0 722.6,312.7 722.7,317.9 723.3,305.7 723.5,315.1 723.8,318.3 724.0,309.5 724.1,319.6 724.4,303.9 724.6,308.5 724.9,316.0 725.0,308.4 725.2,315.9 725.6,311.7 725.8,317.7 726.1,314.2 726.3,304.9 726.7,317.6 726.9,308.5 727.2,308.2 727.5,315.2 727.6,308.9 727.8,316.7 728.2,309.7 728.4,305.6 728.6,305.2 728.7,316.4 729.0,307.8 729.3,317.5 729.8,314.7 729.9,312.2 730.2,311.5 730.4,313.7 730.5,304.6 730.9,313.9 731.2,315.3 731.5,298.6 731.6,302.4 731.9,314.9 732.2,305.2 732.4,312.4 732.5,317.2 732.8,305.1 733.0,314.7 733.2,312.2 733.6,314.9 733.9,307.9 734.1,312.7 734.4,318.2 734.5,306.4 735.0,314.2 735.3,296.0 735.5,317.3 735.6,309.6 735.9,304.9 736.2,306.0 736.4,312.5 736.8,314.4 737.0,308.7 737.1,315.9 737.3,312.8 737.8,311.3 737.9,316.7 738.2,311.1 738.4,318.0 738.5,320.3 738.8,300.7 739.1,314.7 739.3,315.9 739.6,313.3 739.8,316.0 740.1,311.0 740.4,317.8 740.8,308.8 741.0,319.5 741.3,315.7 741.4,311.4 741.7,316.7 741.9,311.9 742.1,316.6 742.4,313.4 742.8,318.1 743.0,311.6 743.1,317.9 743.4,308.7 743.6,301.0 743.9,319.6 744.0,306.8 744.4,312.1 744.5,304.8 744.8,314.8 745.1,307.9 745.4,315.2 745.6,305.7 745.9,315.9 746.0,296.5 746.3,318.0 746.5,306.4 746.7,317.0 747.1,312.7 747.4,304.0 747.6,319.8 747.7,306.1 748.0,317.3 748.5,302.3 748.6,310.2 749.0,303.6 749.3,317.1 749.4,309.3 749.6,310.0 749.9,316.0 750.0,307.7 750.2,318.5 750.6,307.4 750.9,315.5 751.1,318.2 751.3,310.3 751.6,311.7 751.7,315.1 752.2,319.7 752.3,309.9 752.8,313.5 752.9,309.7 753.1,314.3 753.3,302.5 753.6,316.4 753.9,304.6 754.0,307.4 754.3,318.6 754.8,312.4 754.9,314.6 755.1,308.6 755.4,315.7 755.6,316.5 755.7,308.8 756.0,318.8 756.5,300.0 756.6,317.3 756.8,252.4 757.1,315.9 757.4,321.6 757.5,309.8 757.9,316.7 758.0,314.5 758.5,254.0 758.6,308.5 758.8,314.8 759.1,303.6 759.4,319.4 759.5,318.4 759.8,306.3 760.2,314.6 760.3,306.2 760.6,317.4 760.8,314.5 761.2,316.5 761.4,310.9 761.8,302.9 762.0,311.6 762.1,306.1 762.5,314.3 762.8,314.9 762.9,311.6 763.2,316.9 763.4,313.0 763.7,299.9 764.0,316.8 764.3,307.7 764.4,316.4 764.6,306.9 764.8,318.0 765.2,302.1 765.4,317.4 765.5,303.5 765.8,316.0 766.1,315.2 766.4,312.3 766.6,307.8 766.9,315.0 767.1,308.2 767.2,315.6 767.7,314.5 767.8,316.2 768.1,316.1 768.4,315.2 768.7,304.0 768.9,314.1 769.1,316.4 769.4,304.8 769.5,310.8 769.8,316.2 770.1,307.1 770.4,316.8 770.7,316.6 770.9,311.0 771.2,320.8 771.4,308.2 771.5,308.9 771.8,322.1 772.3,317.4 772.4,313.3 772.6,304.7 772.9,317.5 773.0,304.3 773.3,317.4 773.7,317.1 773.8,307.9 774.3,306.9 774.4,312.6 774.7,272.8 774.9,313.5 775.0,311.7 775.3,316.9 775.6,314.7 776.0,311.3 776.1,306.5 776.3,314.2 776.6,318.3 776.7,314.6 777.0,319.5 777.5,290.0 777.8,307.5 777.9,316.3 778.1,316.4 778.3,315.4 778.6,307.7 778.7,318.8 779.0,303.2 779.3,315.2 779.6,304.5 779.9,313.1 780.2,243.0 780.4,316.7 780.6,313.0 780.7,316.8 781.0,307.5 781.2,316.7 781.6,305.9 781.9,317.2 782.2,321.4 782.4,310.3 782.5,316.6 782.9,312.8 783.0,316.3 783.5,307.3 783.8,314.3 783.9,291.0 784.1,306.6 784.2,315.7 784.7,321.3 784.9,314.6 785.2,307.2 785.5,316.4 785.6,308.1 785.8,316.9 786.1,312.9 786.4,320.5 786.5,310.4 786.8,314.6 787.2,303.6 787.5,316.6 787.6,318.7 787.9,306.9 788.1,315.9 788.2,308.2 788.8,311.6 789.0,316.0 789.1,308.8 789.3,320.4 789.8,308.6 789.9,313.1 790.2,309.4 790.4,320.0 790.5,316.7 790.7,307.9 791.3,310.4 791.4,323.1 791.8,319.4 791.9,311.4 792.2,313.6 792.4,318.6 792.5,313.1 792.8,308.0 793.1,316.7 793.4,314.5 793.7,321.1 793.9,308.4 794.1,290.8 794.2,323.9 794.5,311.0 794.7,315.3 795.1,313.8 795.3,318.5 795.6,309.6 795.7,304.4 796.0,315.0 796.4,309.4 796.5,316.2 796.8,312.1 797.1,318.1 797.3,315.1 797.7,320.8 797.9,307.2 798.0,307.8 798.3,322.8 798.5,320.7 798.7,308.0 799.3,316.6 799.4,311.5 799.6,304.8 799.9,319.5 800.2,303.5 800.3,311.7 800.8,307.6 801.0,317.4 801.1,312.3 801.4,316.0 801.7,308.5 801.9,316.7 802.0,305.9 802.2,318.0 802.6,315.4 803.0,316.5 803.1,305.9 803.4,315.2 803.7,313.8 803.9,317.7 804.0,313.3 804.3,317.2 804.6,313.2 804.8,316.3 805.1,317.0 805.3,309.4 805.6,318.5 805.7,312.7 806.3,302.5 806.5,318.5 806.6,315.7 806.8,313.1 807.1,317.3 807.2,315.4 807.6,317.5 807.7,314.8 808.0,318.2 808.3,310.9 808.6,319.7 808.8,312.6 809.2,318.1 809.4,312.1 809.5,314.4 809.7,319.5 810.0,310.9 810.5,318.4 810.6,305.3 810.9,317.0 811.1,307.2 811.4,315.7 811.7,312.8 811.8,315.2 812.0,306.6 812.3,321.7 812.8,314.2 812.9,318.1 813.1,315.3 813.4,317.5 813.7,304.8 814.0,320.4 814.1,317.2 814.5,305.5 814.6,310.5 814.8,319.9 815.1,319.6 815.2,305.3 815.7,306.8 815.8,314.8 816.1,316.5 816.5,311.3 816.8,316.4 816.9,314.8 817.2,314.3 817.4,303.6 817.5,303.4 818.0,321.8 818.1,315.5 818.3,308.9 818.6,307.4 818.8,314.3 819.1,314.3 819.4,317.2 819.7,308.0 819.8,316.7 820.3,314.7 820.4,318.8 820.7,314.0 820.9,313.0 821.1,316.7 821.4,313.1 821.5,316.7 821.7,319.9 822.1,311.5 822.4,314.9 822.6,304.9 822.7,321.7 823.0,315.6 823.2,307.6 823.5,316.7 823.8,309.7 824.1,316.9 824.3,314.3 824.6,317.0 824.7,300.4 825.2,319.2 825.3,316.3 825.5,310.5 825.8,322.3 826.1,310.6 826.3,313.8 826.7,301.3 826.9,307.3 827.0,311.1 827.2,315.7 827.8,326.9 828.0,316.8 828.1,309.1 828.3,317.1 828.6,315.5 828.7,318.6 829.0,307.2 829.5,316.4 829.6,320.0 830.0,312.6 830.1,311.9 830.4,307.3 830.6,307.3 830.9,314.8 831.0,310.3 831.2,314.6 831.6,312.2 831.8,315.3 832.1,299.7 832.3,315.3 832.7,315.0 832.9,310.7 833.2,300.6 833.3,317.4 833.6,306.5 833.9,316.4 834.1,316.3 834.4,308.3 834.6,310.8 834.9,315.8 835.0,314.6 835.2,310.0 835.6,308.1 835.9,310.1 836.1,306.2 836.4,316.6 836.5,316.9 836.7,310.3 837.0,315.2 837.2,312.0 837.6,305.6 837.8,317.9 838.1,305.8 838.2,316.7 838.5,317.4 838.8,315.5 839.2,306.7 839.5,314.9 839.6,314.0 839.8,307.8 840.1,309.8 840.4,315.7 840.7,312.5 840.8,318.3 841.1,318.4 841.3,309.7 841.6,317.4 841.8,304.7 842.2,317.0 842.4,315.1 842.5,319.3 842.8,311.7 843.3,307.1 843.4,317.7 843.6,317.6 843.9,310.6 844.1,317.8 844.2,316.0 844.5,314.4 844.8,310.7 845.1,318.3 845.3,310.4 845.6,316.0 845.9,303.2 846.1,311.0 846.4,321.2 846.5,316.4 846.8,308.5 847.3,310.3 847.4,315.8 847.6,306.8 847.9,317.7 848.1,299.9 848.4,315.3 848.5,315.8 848.7,289.5 849.1,315.0 849.4,318.7 849.6,317.3 849.9,311.2 850.2,317.4 850.4,308.9 850.7,307.2 850.8,323.3 851.3,312.1 851.4,303.3 851.6,314.4 851.7,317.7 852.0,313.3 852.2,319.9" stroke="#4a86e8"/>
<path d="M85.5,305.1 85.8,301.1 86.3,305.2 86.4,300.1 86.7,303.9 86.9,305.7 87.3,297.4 87.5,306.3 87.6,302.2 88.0,298.7 88.1,299.9 88.3,301.8 88.6,307.8 88.7,302.1 89.0,294.9 89.5,308.8 89.6,294.1 89.8,308.5 90.1,297.8 90.4,304.6 90.7,304.0 90.9,308.3 91.0,302.8 91.3,307.9 91.6,297.0 91.8,308.1 92.1,298.5 92.2,306.4 92.7,303.7 92.9,295.9 93.2,294.3 93.5,308.4 93.6,303.9 93.8,295.8 94.1,304.7 94.2,302.1 94.7,298.1 94.9,307.5 95.0,295.9 95.5,302.1 95.8,302.2 95.9,303.7 96.1,304.5 96.2,295.0 96.5,305.4 96.9,306.1 97.0,297.6 97.5,307.0 97.6,301.3 97.9,304.5 98.1,305.2 98.4,298.9 98.5,296.1 98.7,300.2 99.2,305.2 99.5,301.0 99.6,305.0 99.8,297.2 100.1,300.7 100.4,307.0 100.5,298.4 100.7,304.3 101.1,296.4 101.3,302.6 101.6,303.3 101.9,298.5 102.1,305.8 102.2,302.1 102.7,299.6 102.8,305.4 103.1,301.3 103.4,304.0 103.8,300.9 103.9,294.7 104.1,304.9 104.2,295.1 104.5,297.5 104.7,302.5 105.3,301.5 105.4,304.7 105.6,303.6 105.7,298.4 106.1,303.1 106.2,305.6 106.5,302.1 106.7,304.0 107.1,298.8 107.4,305.6 107.6,305.4 107.9,301.9 108.2,300.3 108.4,306.3 108.5,297.5 108.8,305.3 109.1,299.3 109.4,303.5 109.6,305.2 109.7,302.9 110.0,304.5 110.2,304.1 110.5,304.8 110.8,299.9 111.1,300.2 111.3,306.7 111.6,301.4 111.7,305.3 112.2,305.2 112.5,298.8 112.7,299.8 112.8,305.6 113.1,305.3 113.4,295.9 113.6,304.0 113.9,295.5 114.2,309.8 114.5,297.6 114.6,300.3 115.0,295.2 115.3,298.7 115.4,301.2 115.6,301.1 115.9,304.1 116.0,304.0 116.3,299.5 116.8,309.4 116.9,301.7 117.1,303.8 117.4,304.6 117.6,295.0 117.7,302.2 118.0,306.0 118.3,295.3 118.6,306.6 118.8,305.0 119.2,303.8 119.4,299.3 119.6,302.3 119.7,305.2 120.0,302.7 120.5,296.6 120.6,296.3 120.9,304.0 121.2,306.3 121.4,302.8 121.5,304.5 121.7,295.5 122.0,307.7 122.5,304.8 122.8,307.1 122.9,298.5 123.2,305.9 123.4,300.5 123.5,305.6 123.7,300.3 124.2,305.1 124.5,294.6 124.6,298.5 124.9,304.2 125.2,295.7 125.4,304.2 125.7,303.5 126.0,315.7 126.3,301.6 126.5,304.3 126.6,302.9 126.8,298.6 127.2,306.4 127.4,298.5 127.5,309.2 127.8,297.6 128.1,306.3 128.3,303.6 128.6,306.1 128.9,300.7 129.1,306.1 129.4,301.2 129.5,302.9 130.0,307.5 130.1,307.5 130.3,304.5 130.6,304.7 130.9,302.9 131.2,301.5 131.4,299.6 131.5,304.7 131.7,298.0 132.1,300.0 132.3,304.6 132.6,306.5 132.7,299.7 133.1,303.6 133.2,305.6 133.5,305.8 133.7,298.2 134.1,306.4 134.3,297.1 134.6,305.2 134.9,296.0 135.0,306.0 135.4,300.9 135.5,299.3 135.7,302.4 136.1,305.8 136.3,300.0 136.6,300.4 136.7,304.7 137.0,307.0 137.2,298.2 137.8,301.4 138.0,307.1 138.3,301.7 138.4,297.8 138.6,301.6 138.7,307.3 139.0,299.6 139.2,305.1 139.7,298.4 140.0,306.0 140.1,303.4 140.4,304.8 140.6,305.1 140.9,298.9 141.2,306.4 141.3,301.7 141.6,296.6 141.8,300.5 142.1,295.1 142.3,310.3 142.6,307.2 142.9,298.8 143.2,304.5 143.3,310.1 143.8,304.9 143.9,302.4 144.1,298.9 144.4,305.3 144.6,299.2 144.7,306.7 145.3,306.0 145.5,301.2 145.6,304.8 145.9,303.0 146.2,299.4 146.4,302.7 146.6,298.7 146.9,303.7 147.3,305.2 147.5,297.9 147.6,303.1 147.8,299.7 148.1,302.2 148.4,305.5 148.5,300.7 148.7,303.0 149.2,306.4 149.5,295.7 149.8,304.6 149.9,298.5 150.1,306.1 150.4,306.4 150.5,298.0 150.7,302.0 151.3,297.7 151.5,303.5 151.6,296.9 151.9,305.7 152.1,293.8 152.4,303.8 152.5,308.1 152.7,301.8 153.1,303.6 153.5,298.2 153.6,296.0 153.9,303.7 154.1,300.2 154.2,306.1 154.5,303.6 155.0,305.3 155.3,304.0 155.5,307.4 155.6,305.3 155.8,299.5 156.2,302.2 156.4,306.1 156.8,305.5 157.0,299.4 157.3,302.2 157.4,299.2 157.8,299.5 157.9,303.9 158.2,303.5 158.4,305.1 158.7,304.7 158.8,302.0 159.1,303.1 159.3,304.9 159.6,299.8 159.7,307.0 160.2,304.7 160.4,300.0 160.5,305.0 160.7,301.2 161.1,299.1 161.3,304.9 161.6,301.6 161.9,306.3 162.0,303.9 162.4,301.6 162.5,302.7 162.7,297.0 163.1,295.4 163.3,306.9 163.6,308.0 163.7,302.5 164.0,303.1 164.2,296.6 164.5,304.3 164.7,301.8 165.1,298.0 165.4,299.5 165.6,296.3 165.9,303.3 166.2,305.8 166.5,300.8 166.6,299.3 166.8,306.3 167.3,299.1 167.4,310.8 167.6,304.6 167.9,303.9 168.0,302.5 168.5,306.1 168.6,296.3 168.8,304.7 169.1,305.1 169.4,295.4 169.6,303.3 169.7,306.2 170.2,296.0 170.3,305.7 170.8,300.0 170.9,305.4 171.3,302.5 171.4,298.5 171.7,304.1 171.9,299.5 172.2,304.3 172.3,298.3 172.6,306.4 172.9,297.7 173.1,295.2 173.2,305.5 173.6,298.0 173.7,304.9 174.2,308.2 174.5,302.4 174.6,295.1 174.9,302.7 175.2,303.3 175.4,299.3 175.5,299.3 175.7,306.7 176.2,306.4 176.3,300.4 176.6,299.5 176.9,303.7 177.1,302.4 177.2,300.4 177.5,306.5 177.8,298.1 178.0,306.2 178.2,297.8 178.6,299.5 178.8,305.3 179.2,306.2 179.4,301.3 179.5,306.9 180.0,303.3 180.1,304.7 180.5,293.1 180.6,307.5 180.9,303.5 181.1,302.9 181.2,300.6 181.5,303.4 181.7,306.3 182.1,306.0 182.3,300.5 182.8,305.3 182.9,300.8 183.2,298.7 183.4,309.4 183.7,301.5 184.0,299.1 184.3,297.3 184.4,305.2 184.7,294.8 184.9,303.4 185.1,304.4 185.4,301.0 185.5,302.6 185.7,293.0 186.1,297.6 186.4,307.3 186.6,306.1 186.7,300.7 187.1,301.8 187.2,304.1 187.5,299.8 187.7,307.0 188.1,302.1 188.4,296.2 188.6,302.7 188.9,304.7 189.2,306.4 189.4,300.8 189.7,293.7 189.8,306.4 190.1,305.9 190.3,297.0 190.6,296.7 190.7,307.3 191.0,301.6 191.5,306.3 191.7,305.5 191.8,297.4 192.1,293.4 192.3,306.8 192.6,302.2 192.9,307.6 193.3,305.3 193.5,301.8 193.6,305.2 193.8,300.9 194.1,302.0 194.3,305.6 194.7,297.2 194.9,306.5 195.0,301.8 195.2,304.3 195.6,303.9 195.9,296.3 196.3,296.5 196.4,304.7 196.6,303.4 196.9,305.7 197.2,300.6 197.5,305.1 197.6,306.7 197.9,302.8 198.1,300.5 198.2,302.0 198.6,307.0 198.9,302.6 199.0,300.9 199.3,307.5 199.8,296.9 199.9,306.4 200.1,305.1 200.2,301.4 200.7,303.5 200.9,299.4 201.3,298.8 201.5,305.6 201.6,303.6 201.8,305.7 202.2,306.5 202.4,304.0 202.5,305.4 202.7,301.1 203.0,293.6 203.2,302.9 203.6,305.5 203.8,303.4 204.1,297.6 204.4,310.5 204.7,298.2 204.8,304.8 205.3,300.1 205.5,303.8 205.6,294.8 205.8,306.9 206.1,304.5 206.4,305.8 206.5,297.7 207.0,304.8 207.1,301.7 207.5,305.8 207.8,306.8 207.9,296.4 208.2,302.4 208.4,304.0 208.8,304.3 209.0,298.2 209.1,299.2 209.4,303.9 209.8,307.4 209.9,298.1 210.1,302.4 210.2,305.6 210.5,308.0 210.8,301.4 211.1,303.7 211.3,300.5 211.6,302.3 211.7,306.8 212.1,301.0 212.4,304.0 212.5,294.9 213.0,302.6 213.1,305.0 213.4,296.9 213.6,305.7 213.7,301.5 214.2,305.2 214.4,301.3 214.7,298.6 215.0,303.8 215.1,308.4 215.4,301.0 215.6,302.7 215.9,297.6 216.0,303.3 216.2,304.2 216.5,300.3 216.7,303.3 217.1,296.1 217.3,305.9 217.6,292.8 217.9,304.7 218.0,309.0 218.5,299.6 218.8,305.9 219.0,302.6 219.1,299.0 219.4,305.5 219.6,306.3 219.7,302.5 220.0,300.8 220.5,305.5 220.6,305.2 221.0,299.6 221.1,297.7 221.4,306.0 221.7,302.9 221.9,305.2 222.2,299.9 222.3,306.3 222.6,298.8 222.9,305.1 223.1,306.6 223.4,299.7 223.7,305.9 223.9,300.7 224.3,304.7 224.5,298.1 224.6,298.3 224.9,310.1 225.1,307.2 225.4,301.2 225.6,299.8 225.7,304.3 226.0,298.9 226.5,307.3 226.6,304.1 226.9,298.1 227.1,303.3 227.4,304.8 227.5,303.8 227.9,298.2 228.0,301.1 228.3,304.4 228.6,297.6 228.9,301.5 229.1,304.6 229.4,299.0 229.7,302.8 229.8,306.1 230.2,301.2 230.5,304.4 230.6,295.9 230.8,301.8 231.1,300.9 231.4,306.1 231.5,304.9 231.8,299.2 232.2,304.6 232.5,296.6 232.6,305.9 232.9,303.7 233.2,305.3 233.4,308.0 233.5,292.3 233.8,305.7 234.3,298.1 234.5,306.0 234.6,307.4 234.8,292.4 235.2,306.3 235.4,301.2 235.8,306.1 236.0,295.9 236.3,304.5 236.4,303.2 236.6,306.1 236.8,304.2 237.2,297.8 237.4,307.7 237.5,301.2 237.8,307.9 238.3,294.7 238.4,303.6 238.6,305.7 238.9,297.6 239.1,305.9 239.2,310.9 239.5,305.6 240.0,294.0 240.1,305.5 240.4,293.2 240.7,305.6 240.9,300.2 241.2,306.4 241.4,297.8 241.7,305.5 242.0,302.1 242.1,304.0 242.4,305.1 242.6,306.7 242.7,297.6 243.2,306.6 243.3,298.8 243.5,306.9 244.0,298.0 244.3,301.7 244.4,303.9 244.6,302.9 244.9,305.1 245.0,293.7 245.2,305.8 245.6,301.5 245.8,305.4 246.3,298.9 246.4,306.7 246.6,306.1 246.7,298.7 247.2,298.7 247.5,304.0 247.6,301.0 248.0,306.0 248.3,295.6 248.4,303.4 248.7,303.9 248.9,305.1 249.0,304.8 249.2,295.8 249.8,297.9 249.9,304.7 250.1,303.1 250.4,297.8 250.6,306.7 250.9,304.9 251.2,299.9 251.3,306.6 251.8,307.5 251.9,296.9 252.2,304.6 252.4,297.1 252.7,301.6 252.9,306.8 253.0,298.3 253.3,305.0 253.6,299.6 253.8,305.7 254.1,297.4 254.4,307.1 254.5,304.2 254.7,301.4 255.0,303.5 255.3,306.8 255.6,301.1 255.9,302.5 256.1,307.0 256.4,296.2 256.7,302.0 256.8,306.2 257.0,306.3 257.3,299.9 257.6,305.7 257.9,299.3 258.1,302.9 258.2,305.1 258.5,305.1 258.7,300.5 259.1,291.9 259.5,305.8 259.6,304.9 259.8,302.2 260.1,305.4 260.4,298.0 260.7,297.2 261.0,311.1 261.1,304.7 261.3,305.7 261.8,304.5 261.9,305.7 262.2,300.7 262.4,304.9 262.5,304.5 263.0,306.9 263.1,300.6 263.4,310.0 263.8,301.5 263.9,302.4 264.2,301.0 264.4,307.2 264.8,300.1 265.0,308.2 265.3,299.0 265.4,306.1 265.6,301.7 265.9,307.3 266.1,299.3 266.2,307.5 266.5,293.2 266.7,304.6 267.1,308.9 267.4,296.7 267.6,304.1 267.9,307.2 268.0,303.3 268.2,302.6 268.5,299.4 269.0,309.0 269.1,300.3 269.4,308.3 269.6,306.1 269.7,303.5 270.0,303.1 270.2,306.3 270.7,296.2 271.0,305.8 271.3,301.1 271.4,309.0 271.7,306.9 271.9,302.0 272.2,302.3 272.3,305.8 272.6,308.8 272.8,295.4 273.1,307.5 273.3,297.0 273.7,305.3 273.9,302.1 274.2,297.1 274.5,303.4 274.6,301.4 274.8,307.5 275.1,306.8 275.4,300.3 275.6,303.9 275.9,302.8 276.0,306.3 276.3,303.3 276.6,301.1 276.9,309.0 277.2,306.4 277.4,310.0 277.7,303.7 277.9,305.7 278.2,307.3 278.5,304.6 278.6,306.9 278.9,305.1 279.1,301.9 279.4,305.0 279.7,304.8 279.9,308.4 280.3,303.5 280.5,305.5 280.6,306.6 280.8,306.7 281.2,309.0 281.4,300.4 281.5,296.4 281.9,307.2 282.0,301.8 282.3,308.0 282.8,302.3 282.9,306.7 283.1,309.3 283.4,305.2 283.5,305.6 284.0,294.8 284.2,297.1 284.3,307.1 284.6,302.1 284.8,308.5 285.2,301.7 285.4,304.2 285.5,310.1 285.7,303.0 286.1,307.1 286.5,299.8 286.8,300.6 286.9,307.0 287.1,308.0 287.4,301.6 287.7,307.1 288.0,293.2 288.1,299.2 288.3,306.9 288.6,301.3 288.9,303.6 289.1,309.4 289.2,300.1 289.7,305.7 289.8,303.0 290.1,305.1 290.4,302.5 290.6,304.3 290.9,305.8 291.1,309.2 291.2,304.1 291.5,307.8 291.8,296.3 292.3,307.5 292.4,296.6 292.6,307.2 292.7,304.3 293.1,307.3 293.2,305.8 293.5,305.7 293.7,300.5 294.3,298.0 294.4,306.5 294.6,305.6 294.9,303.7 295.0,307.0 295.2,305.8 295.7,303.3 296.0,306.8 296.1,303.5 296.3,306.4 296.6,308.1 296.9,305.7 297.0,303.3 297.5,308.7 297.7,300.0 298.0,307.5 298.1,308.8 298.4,303.6 298.6,306.7 298.7,309.4 299.0,306.0 299.2,309.4 299.6,311.3 299.8,308.5 300.1,309.7 300.4,306.4 300.7,308.6 300.9,313.7 301.0,309.5 301.3,304.5 301.6,309.9 301.8,303.2 302.1,309.8 302.4,306.6 302.6,308.6 302.7,306.8 303.2,174.1 303.3,312.9 303.8,308.1 303.9,310.7 304.1,309.4 304.4,311.4 304.7,306.5 304.9,309.8 305.3,310.9 305.5,305.1 305.6,303.7 305.8,312.3 306.1,307.9 306.2,309.3 306.5,306.2 306.9,304.1 307.3,311.4 307.5,309.2 307.8,309.2 307.9,312.6 308.1,311.6 308.2,307.5 308.7,306.6 308.9,309.6 309.2,311.5 309.3,307.1 309.6,312.4 309.8,307.0 310.1,312.6 310.2,308.4 310.8,310.0 311.0,302.2 311.2,303.2 311.3,311.2 311.6,308.7 311.9,311.2 312.1,310.4 312.2,304.1 312.5,312.6 313.0,305.4 313.3,301.8 313.5,310.1 313.8,311.0 313.9,301.4 314.1,304.0 314.4,309.7 314.5,311.8 314.8,303.6 315.1,313.6 315.4,303.7 315.6,310.0 315.9,310.4 316.1,309.0 316.4,310.7 316.5,309.5 316.7,310.9 317.1,307.8 317.4,310.6 317.7,305.6 317.9,309.8 318.1,311.3 318.2,306.1 318.5,312.7 318.7,301.2 319.3,308.8 319.4,309.7 319.7,307.2 319.9,311.6 320.0,312.5 320.2,308.6 320.5,311.1 320.7,304.8 321.3,312.5 321.4,306.3 321.7,312.7 321.9,306.0 322.2,310.3 322.3,304.5 322.5,301.1 322.7,309.0 323.1,305.7 323.3,306.8 323.7,310.2 323.9,308.7 324.2,303.9 324.3,313.8 324.7,311.3 325.0,305.5 325.1,309.2 325.3,304.0 325.7,307.5 325.9,302.0 326.0,310.9 326.2,302.7 326.6,300.3 326.8,309.1 327.1,311.1 327.4,304.5 327.6,299.5 327.9,309.3 328.2,310.9 328.5,304.7 328.6,306.6 328.9,311.1 329.1,305.3 329.4,308.6 329.6,306.1 329.9,308.9 330.2,309.8 330.5,301.6 330.6,303.7 330.9,308.2 331.1,305.6 331.2,304.1 331.7,305.5 331.9,310.9 332.3,304.7 332.5,312.9 332.6,307.9 332.8,309.0 333.1,305.7 333.4,305.9 333.5,308.8 333.9,300.7 334.2,300.9 334.5,309.6 334.6,307.3 334.9,296.5 335.1,308.5 335.2,306.1 335.5,301.9 335.8,306.9 336.0,299.3 336.2,309.6 336.6,303.4 336.8,307.4 337.2,306.7 337.4,302.8 337.5,300.7 337.7,308.6 338.1,307.2 338.5,310.0 338.8,309.9 338.9,305.8 339.1,309.2 339.4,303.1 339.5,314.4 339.7,303.4 340.3,310.7 340.5,299.3 340.8,308.8 340.9,304.0 341.1,302.8 341.4,311.2 341.5,299.5 341.8,305.6 342.1,308.6 342.3,303.3 342.8,303.6 342.9,308.2 343.1,301.1 343.4,309.8 343.8,300.7 344.0,310.9 344.1,310.1 344.3,298.9 344.6,308.1 344.9,310.0 345.2,309.2 345.4,305.2 345.5,312.3 346.0,308.1 346.1,301.7 346.3,306.9 346.6,307.8 346.7,303.6 347.2,302.1 347.4,307.9 347.7,311.6 348.0,299.6 348.1,307.4 348.3,311.0 348.6,303.8 348.9,305.6 349.0,308.0 349.3,295.8 349.5,309.1 349.8,302.2 350.3,302.9 350.4,307.5 350.6,302.2 350.9,308.3 351.2,310.6 351.3,307.4 351.6,308.2 352.0,299.1 352.3,299.5 352.4,307.3 352.7,309.4 352.9,311.4 353.0,307.8 353.2,312.0 353.6,313.3 353.9,302.4 354.1,308.2 354.3,310.2 354.6,309.8 354.9,304.9 355.2,309.8 355.3,305.4 355.6,310.6 355.8,299.1 356.1,301.8 356.4,307.5 356.7,308.4 356.9,308.7 357.0,308.2 357.2,304.3 357.6,308.5 357.8,306.9 358.1,300.5 358.2,307.9 358.7,305.7 358.9,310.7 359.2,311.3 359.3,305.0 359.8,304.4 359.9,308.4 360.1,304.3 360.2,311.6 360.5,309.7 360.7,305.7 361.0,305.6 361.2,309.9 361.6,305.1 361.9,308.5 362.2,308.8 362.4,300.2 362.5,305.0 362.8,306.2 363.0,310.7 363.2,301.5 363.8,304.6 363.9,301.5 364.2,308.1 364.4,302.4 364.5,308.0 364.8,296.2 365.1,304.3 365.5,302.3 365.8,302.6 365.9,297.8 366.2,302.9 366.4,308.7 366.7,307.6 366.8,304.5 367.3,305.5 367.4,308.2 367.8,303.9 367.9,301.3 368.1,310.1 368.4,307.2 368.7,305.5 369.0,313.8 369.1,307.9 369.4,305.6 369.8,308.4 369.9,304.9 370.1,306.3 370.2,309.5 370.5,305.3 370.7,307.8 371.3,308.5 371.4,305.2 371.6,302.6 371.9,306.8 372.2,302.1 372.4,309.1 372.5,301.2 372.8,309.2 373.3,301.1 373.4,307.1 373.6,299.7 373.7,308.7 374.0,309.1 374.4,301.7 374.5,304.2 374.7,309.8 375.1,309.5 375.3,300.3 375.6,309.0 375.7,303.4 376.0,305.6 376.2,309.9 376.7,306.1 377.0,301.6 377.3,299.0 377.4,306.3 377.7,314.1 377.9,308.0 378.0,312.4 378.2,303.0 378.6,304.3 378.8,310.1 379.1,306.6 379.3,305.4 379.6,303.8 379.7,310.4 380.2,303.4 380.3,313.7 380.6,306.8 380.9,309.4 381.1,310.1 381.4,303.3 381.6,312.5 381.9,302.7 382.3,298.3 382.5,306.1 382.6,305.1 382.8,312.2 383.1,306.6 383.2,297.8 383.7,308.5 383.9,300.2 384.2,301.3 384.3,311.9 384.6,303.2 384.8,307.7 385.2,307.4 385.4,304.8 385.6,304.7 385.7,310.3 386.0,304.7 386.5,311.8 386.6,304.8 386.9,308.3 387.2,305.7 387.4,311.1 387.5,302.9 387.7,308.5 388.3,311.7 388.5,304.6 388.6,299.9 388.8,311.1 389.1,308.2 389.4,310.9 389.5,304.3 389.8,308.9 390.2,307.8 390.3,302.2 390.6,308.9 390.8,294.1 391.1,297.4 391.2,311.8 391.7,310.4 391.8,303.8 392.1,303.7 392.3,309.2 392.6,309.1 392.8,305.4 393.1,303.9 393.2,305.1 393.8,309.5 394.0,303.8 394.3,303.9 394.4,310.1 394.6,307.3 394.8,303.9 395.1,310.1 395.2,307.5 395.5,307.3 395.7,311.6 396.3,311.7 396.4,308.2 396.7,303.5 396.9,309.3 397.1,305.0 397.4,311.7 397.7,309.4 398.0,301.4 398.1,304.7 398.4,306.9 398.7,305.6 398.9,306.5 399.2,310.0 399.4,304.2 399.8,311.2 400.0,301.5 400.3,309.8 400.4,305.9 400.7,308.6 400.9,301.2 401.2,301.6 401.4,308.3 401.7,305.9 401.8,298.9 402.3,308.2 402.4,309.9 402.6,296.0 402.9,313.2 403.2,301.8 403.3,309.0 403.7,308.2 404.0,309.1 404.1,308.7 404.3,308.4 404.6,308.0 404.9,307.6 405.0,306.4 405.3,308.8 405.6,307.1 406.0,310.9 406.3,304.6 406.4,310.2 406.6,301.2 406.7,310.4 407.3,303.3 407.5,307.9 407.8,301.8 407.9,307.9 408.1,304.9 408.3,307.0 408.7,307.9 408.9,303.6 409.2,305.1 409.3,309.7 409.8,310.3 409.9,307.0 410.2,309.8 410.4,302.1 410.6,308.2 410.7,301.2 411.2,304.9 411.5,309.2 411.6,307.7 411.9,309.9 412.1,309.8 412.4,305.1 412.5,302.7 412.9,309.1 413.2,308.8 413.5,299.7 413.6,307.7 413.8,297.0 414.1,300.6 414.4,308.2 414.5,302.0 414.7,309.5 415.0,306.5 415.3,229.9 415.6,309.1 415.9,300.4 416.1,300.2 416.2,307.9 416.7,308.4 416.8,310.2 417.2,310.3 417.5,299.3 417.8,309.1 417.9,308.5 418.1,302.5 418.4,309.5 418.5,308.9 418.8,299.0 419.1,313.5 419.3,307.7 419.8,302.8 419.9,311.9 420.2,309.8 420.4,307.8 420.5,296.2 420.7,310.3 421.1,308.2 421.3,309.2 421.6,310.1 421.8,307.1 422.1,310.5 422.4,303.1 422.5,307.1 422.7,311.8 423.1,307.6 423.3,299.9 423.7,299.8 423.9,306.4 424.1,309.6 424.4,308.4 424.7,306.2 424.8,312.9 425.3,298.7 425.4,309.5 425.6,309.7 425.9,300.7 426.0,309.3 426.2,305.7 426.8,303.3 427.0,308.3 427.1,309.9 427.4,302.8 427.6,306.0 427.7,306.7 428.0,308.2 428.2,307.0 428.7,302.6 429.0,309.3 429.3,307.9 429.4,316.9 429.7,311.5 429.9,304.4 430.0,304.0 430.2,301.5 430.8,308.0 431.0,306.0 431.1,307.5 431.4,303.7 431.6,303.3 431.9,309.9 432.0,297.6 432.2,309.7 432.8,310.2 433.0,304.5 433.1,308.4 433.3,305.5 433.6,307.3 433.9,304.9 434.0,305.4 434.3,310.5 434.6,309.2 434.9,305.6 435.1,308.0 435.3,309.7 435.6,302.1 435.9,311.6 436.2,300.8 436.5,311.3 436.8,308.4 436.9,306.5 437.1,308.5 437.2,298.9 437.6,306.0 437.7,308.5 438.2,306.2 438.3,302.6 438.6,305.3 438.9,310.8 439.2,305.4 439.4,307.7 439.5,298.1 439.9,309.4 440.0,303.8 440.3,313.4 440.8,304.8 440.9,310.7 441.2,304.4 441.4,308.3 441.5,311.0 441.8,300.2 442.2,307.7 442.3,311.4 442.8,301.2 442.9,310.0 443.2,308.8 443.4,303.2 443.5,310.2 443.8,303.4 444.3,307.0 444.5,309.7 444.6,302.3 444.9,312.5 445.1,309.9 445.4,304.0 445.5,308.1 445.7,303.2 446.3,308.2 446.5,303.7 446.8,307.9 446.9,301.2 447.1,310.5 447.2,306.7 447.8,299.7 448.0,313.9 448.1,310.7 448.3,305.7 448.6,308.7 448.8,303.6 449.2,310.6 449.4,298.6 449.7,303.4 449.8,310.2 450.1,303.5 450.4,307.9 450.7,308.9 450.9,306.1 451.1,288.0 451.4,304.6 451.7,303.1 451.8,311.5 452.1,307.7 452.3,306.1 452.7,311.0 452.9,305.8 453.2,311.2 453.4,303.0 453.8,305.1 454.0,310.9 454.1,301.8 454.4,310.5 454.6,303.0 454.9,310.7 455.0,305.9 455.2,307.8 455.5,302.1 455.8,310.9 456.1,310.2 456.3,295.5 456.6,297.9 456.9,308.5 457.2,305.9 457.3,310.5 457.6,306.7 457.8,301.6 458.1,304.7 458.4,311.0 458.6,311.0 458.9,307.9 459.2,312.0 459.3,301.9 459.8,303.5 459.9,310.8 460.3,308.9 460.4,308.3 460.6,306.0 460.7,308.6 461.3,312.1 461.5,303.5 461.8,309.7 461.9,307.1 462.3,309.5 462.4,305.1 462.6,300.9 462.7,312.6 463.2,304.6 463.5,309.4 463.6,305.7 463.9,308.3 464.1,305.1 464.4,310.1 464.6,308.7 464.7,311.2 465.2,296.8 465.5,309.6 465.6,302.6 465.9,309.3 466.1,309.8 466.4,307.7 466.5,308.5 466.7,299.4 467.2,306.5 467.5,299.7 467.6,306.7 467.8,308.6 468.1,301.8 468.2,304.3 468.5,308.4 468.7,309.5 469.2,310.8 469.5,307.2 469.6,309.6 469.8,302.0 470.2,311.3 470.4,303.9 470.7,304.7 470.8,309.1 471.1,308.0 471.3,305.2 471.6,300.7 471.9,308.8 472.1,297.0 472.2,310.5 472.7,310.7 472.8,296.4 473.1,304.2 473.4,309.9 473.6,311.3 473.8,306.0 474.2,306.3 474.4,309.6 474.7,302.4 474.8,311.7 475.3,308.6 475.4,299.5 475.7,311.3 475.9,307.8 476.2,308.6 476.4,310.2 476.7,298.8 476.8,310.6 477.1,299.8 477.4,309.6 477.7,305.3 477.9,312.7 478.1,309.6 478.2,308.1 478.7,309.5 478.8,303.9 479.3,313.5 479.4,308.8 479.7,305.4 479.9,308.3 480.0,307.1 480.2,302.3 480.7,306.4 480.8,313.1 481.3,309.8 481.4,306.9 481.7,300.9 481.9,308.2 482.2,311.4 482.3,297.4 482.7,307.9 483.0,299.3 483.3,306.2 483.4,311.0 483.6,303.3 483.7,310.8 484.0,311.1 484.5,306.8 484.6,303.1 484.8,310.3 485.1,309.9 485.4,304.2 485.7,310.4 485.9,305.9 486.0,312.2 486.5,302.1 486.6,306.7 486.9,310.3 487.3,312.2 487.4,304.1 487.6,308.6 487.9,311.4 488.2,311.9 488.3,305.5 488.6,302.5 488.9,310.0 489.1,309.7 489.4,303.9 489.7,305.6 489.9,310.9 490.0,316.2 490.2,304.7 490.6,309.1 490.9,309.7 491.1,299.2 491.2,306.1 491.5,306.6 491.7,302.9 492.2,309.7 492.5,303.7 492.8,301.5 492.9,305.7 493.1,305.6 493.4,310.5 493.7,309.6 493.9,308.6 494.0,309.5 494.5,316.5 494.6,308.0 494.8,248.2 495.1,311.5 495.4,308.1 495.8,308.0 496.0,297.9 496.2,309.4 496.3,304.8 496.6,314.0 496.8,301.0 497.2,304.0 497.4,309.8 497.5,309.7 498.0,306.5 498.1,308.8 498.5,309.6 498.8,308.9 498.9,305.5 499.1,302.2 499.2,311.6 499.7,305.1 499.8,308.5 500.3,310.8 500.4,306.0 500.6,304.8 500.9,308.3 501.2,302.3 501.4,308.7 501.5,308.3 501.8,305.7 502.3,304.6 502.4,308.4 502.7,308.7 502.9,307.2 503.1,308.9 503.2,301.8 503.5,301.6 503.7,311.0 504.1,306.9 504.3,308.5 504.6,306.8 504.7,301.8 505.2,309.2 505.4,306.4 505.5,305.1 506.0,309.6 506.1,299.8 506.4,309.7 506.7,312.3 506.9,303.9 507.2,308.5 507.4,311.2 507.5,310.9 507.7,304.2 508.1,316.3 508.4,303.4 508.6,301.1 508.7,309.0 509.2,308.6 509.3,301.3 509.8,309.5 510.0,305.5 510.1,308.5 510.4,298.7 510.6,298.5 510.7,309.6 511.2,304.6 511.5,310.7 511.6,312.4 511.8,307.2 512.1,309.6 512.3,295.1 512.7,312.3 512.9,307.1 513.3,305.0 513.5,312.0 513.8,305.6 513.9,310.0 514.1,305.5 514.3,308.7 514.6,308.8 514.9,301.0 515.2,310.8 515.5,306.1 515.6,312.3 515.8,304.4 516.2,309.3 516.4,307.3 516.7,311.6 516.9,304.7 517.0,300.8 517.3,308.1 517.8,310.1 517.9,300.6 518.1,300.7 518.4,308.4 518.7,305.9 518.9,300.3 519.2,310.6 519.3,308.4 519.6,309.2 519.8,310.4 520.2,311.2 520.4,302.8 520.7,305.4 520.8,309.9 521.2,308.4 521.3,309.3 521.6,307.2 521.8,311.8 522.1,309.2 522.4,306.1 522.5,305.3 523.0,310.5 523.2,306.7 523.3,312.5 523.6,298.7 523.9,306.4 524.1,308.4 524.2,309.1 524.7,311.2 524.8,303.0 525.1,305.4 525.5,309.3 525.8,309.0 525.9,308.1 526.1,310.4 526.2,305.9 526.5,309.9 527.0,308.2 527.1,302.7 527.3,308.7 527.6,310.5 527.9,308.3 528.1,306.4 528.2,309.9 528.5,302.4 528.8,311.6 529.1,308.8 529.3,305.0 529.7,309.7 529.9,308.6 530.2,311.6 530.4,308.3 530.8,309.4 531.0,310.6 531.3,304.1 531.4,306.5 531.7,305.6 531.9,309.6 532.0,309.8 532.4,299.3 532.5,300.3 532.7,307.8 533.3,309.8 533.4,308.2 533.6,310.0 533.7,300.1 534.2,308.3 534.3,301.9 534.8,304.0 535.0,308.4 535.1,307.2 535.4,310.2 535.7,308.8 535.9,309.3 536.2,311.8 536.5,306.7 536.8,310.3 537.0,305.2 537.1,308.2 537.4,307.3 537.6,307.7 537.9,311.6 538.0,311.5 538.2,309.0 538.6,301.9 539.0,309.6 539.3,306.3 539.4,309.5 539.7,303.6 539.9,309.4 540.3,317.3 540.5,306.5 540.6,309.7 540.8,306.0 541.3,311.0 541.4,307.3 541.7,296.9 541.9,312.4 542.2,310.3 542.5,303.6 542.8,310.3 542.9,304.9 543.2,310.2 543.4,301.3 543.6,310.8 543.9,308.7 544.2,310.0 544.3,306.6 544.8,309.2 544.9,306.3 545.1,310.6 545.4,305.8 545.7,307.3 545.9,309.1 546.0,311.0 546.2,301.3 546.8,308.2 546.9,309.8 547.1,304.8 547.2,306.4 547.5,304.2 547.7,309.1 548.2,310.1 548.3,307.0 548.8,304.7 548.9,303.0 549.1,311.8 549.4,304.6 549.8,300.7 550.0,310.5 550.3,311.5 550.5,308.4 550.6,308.4 550.9,305.9 551.2,305.6 551.4,307.4 551.7,306.7 551.8,312.1 552.3,312.1 552.4,307.2 552.6,311.3 552.9,305.0 553.1,307.6 553.2,297.6 553.5,310.2 553.7,306.4 554.3,308.6 554.4,307.5 554.6,307.8 554.9,313.1 555.1,306.7 555.2,309.2 555.5,302.7 556.0,311.8 556.1,311.4 556.4,303.5 556.6,309.9 556.7,311.0 557.1,309.6 557.2,309.2 557.8,310.4 558.0,308.2 558.1,304.4 558.3,310.2 558.6,310.0 558.9,302.8 559.0,308.7 559.4,311.0 559.7,310.3 560.0,311.9 560.1,305.9 560.3,312.7 560.7,306.9 560.9,312.4 561.0,308.7 561.2,310.2 561.7,308.3 561.8,310.7 562.1,308.7 562.3,311.1 562.6,308.3 562.9,311.0 563.0,304.3 563.3,310.4 563.6,308.2 563.8,312.5 564.1,306.3 564.3,309.0 564.7,307.1 564.9,309.5 565.0,308.4 565.3,315.8 565.6,309.2 565.8,304.4 566.1,307.4 566.4,313.1 566.6,308.4 566.7,312.5 567.0,310.5 567.3,300.1 567.8,310.8 567.9,306.4 568.2,305.5 568.4,308.9 568.7,311.3 568.9,306.6 569.0,306.1 569.3,311.9 569.6,309.7 569.8,311.0 570.2,311.3 570.4,310.0 570.6,303.4 570.9,311.1 571.0,311.9 571.3,306.6 571.8,310.4 571.9,307.8 572.1,309.7 572.4,300.7 572.5,311.8 572.9,302.9 573.2,309.6 573.3,303.3 573.6,305.4 573.8,308.2 574.1,313.1 574.2,310.5 574.5,304.6 575.0,310.8 575.2,312.6 575.5,303.1 575.6,309.1 575.9,314.7 576.2,309.6 576.4,305.5 576.5,303.0 576.8,313.9 577.1,311.4 577.5,307.9 577.8,303.2 577.9,308.5 578.2,311.2 578.4,310.1 578.5,310.1 578.7,303.5 579.1,308.0 579.3,304.1 579.6,308.6 579.8,310.1 580.1,304.5 580.4,311.6 580.5,305.9 581.0,314.8 581.1,304.2 581.3,309.5 581.6,306.7 581.7,311.4 582.1,312.2 582.4,300.3 582.8,312.2 583.0,308.3 583.3,312.1 583.4,299.5 583.6,309.2 583.9,305.3 584.0,307.5 584.4,313.7 584.5,305.8 585.0,314.4 585.1,304.4 585.3,311.8 585.6,312.8 585.9,311.0 586.0,313.6 586.4,309.6 586.7,303.5 587.0,311.9 587.1,299.0 587.4,312.0 587.7,310.0 587.9,311.9 588.2,314.3 588.3,305.5 588.8,306.8 589.0,312.3 589.3,313.3 589.4,308.2 589.7,301.7 589.9,310.6 590.0,314.1 590.5,300.4 590.6,304.4 590.8,311.4 591.1,309.8 591.4,311.9 591.6,307.4 591.9,312.1 592.2,311.9 592.5,307.8 592.6,310.7 592.9,306.8 593.3,308.9 593.4,311.7 593.6,312.3 593.9,302.4 594.2,312.1 594.3,305.0 594.6,302.0 594.9,308.7 595.2,313.5 595.4,310.1 595.7,311.9 595.9,310.3 596.2,303.2 596.3,312.0 596.6,303.6 596.9,310.6 597.1,310.9 597.4,312.9 597.7,314.4 597.9,308.6 598.2,304.4 598.5,312.6 598.8,310.1 598.9,304.7 599.1,313.1 599.2,310.5 599.5,306.5 599.9,312.4 600.0,310.7 600.2,303.7 600.8,310.8 600.9,312.0 601.2,305.0 601.4,312.1 601.5,311.0 601.7,303.7 602.2,314.6 602.3,309.3 602.6,312.1 602.8,305.0 603.2,311.7 603.4,304.4 603.5,311.2 603.7,304.2 604.3,311.9 604.5,303.5 604.6,316.1 604.8,309.6 605.2,313.6 605.4,307.0 605.5,310.4 605.8,312.8 606.1,317.7 606.4,308.0 606.6,307.9 606.9,310.3 607.1,307.7 607.4,312.1 607.5,309.1 607.7,312.3 608.1,313.1 608.4,305.7 608.7,311.4 608.9,305.9 609.1,304.2 609.2,309.9 609.7,305.4 609.8,311.6 610.1,304.7 610.4,310.5 610.7,311.0 610.9,305.6 611.0,313.6 611.2,311.1 611.8,304.0 612.0,311.0 612.1,311.6 612.3,306.9 612.6,305.9 612.7,312.0 613.0,315.7 613.3,308.3 613.8,314.9 614.0,308.5 614.1,306.4 614.3,308.0 614.6,308.4 614.7,315.9 615.0,313.2 615.2,306.4 615.7,303.4 615.8,307.6 616.1,304.7 616.4,311.8 616.6,312.2 616.9,306.3 617.3,309.5 617.5,313.8 617.8,305.2 618.0,312.4 618.3,304.3 618.4,313.7 618.6,306.8 618.9,311.6 619.0,312.6 619.2,302.2 619.6,312.9 619.9,307.2 620.3,304.3 620.4,313.1 620.7,304.7 620.9,311.5 621.0,314.3 621.3,305.6 621.6,311.3 621.9,310.0 622.1,312.5 622.4,310.6 622.7,311.2 622.9,310.8 623.3,313.1 623.5,306.2 623.6,303.3 623.9,311.2 624.1,308.8 624.4,311.8 624.5,311.2 624.9,312.0 625.0,311.5 625.2,308.7 625.6,306.2 625.8,308.8 626.1,307.7 626.2,303.3 626.5,312.8 626.7,304.4 627.2,312.3 627.3,308.8 627.6,309.8 627.9,311.5 628.1,313.4 628.4,308.2 628.7,306.1 629.0,311.6 629.1,308.9 629.5,312.7 629.6,307.6 629.8,312.6 630.1,306.7 630.4,311.0 630.8,302.8 631.0,312.6 631.1,312.6 631.3,305.9 631.6,314.1 631.9,309.8 632.1,309.2 632.4,312.0 632.7,312.1 633.0,302.4 633.3,308.3 633.4,312.8 633.8,312.8 633.9,305.3 634.2,303.5 634.4,312.3 634.5,311.0 634.8,315.8 635.3,306.3 635.4,311.6 635.7,311.3 635.9,306.6 636.1,306.0 636.4,315.7 636.5,306.6 636.7,311.9 637.1,299.4 637.3,311.7 637.6,310.0 637.7,304.4 638.0,312.4 638.2,302.1 638.7,306.8 638.8,310.6 639.1,310.9 639.3,310.6 639.6,313.7 639.7,306.4 640.2,312.0 640.3,298.9 640.5,307.1 641.0,312.9 641.1,303.9 641.3,315.0 641.6,309.1 641.9,306.5 642.3,306.9 642.5,311.4 642.8,311.8 643.0,307.1 643.3,307.3 643.4,312.7 643.6,310.4 643.9,313.9 644.0,311.1 644.2,307.6 644.6,312.0 644.9,316.6 645.1,310.2 645.4,312.8 645.6,313.2 645.7,301.1 646.2,307.9 646.5,312.4 646.6,305.9 646.8,313.6 647.3,314.2 647.4,308.8 647.6,303.0 647.9,310.5 648.3,306.6 648.5,312.5 648.6,315.5 648.9,306.9 649.2,311.6 649.4,306.7 649.7,307.4 649.9,316.3 650.0,312.4 650.3,302.6 650.6,306.1 650.9,313.1 651.1,313.1 651.4,307.1 651.7,311.5 651.9,298.0 652.0,307.9 652.5,315.2 652.6,311.0 652.8,312.6 653.2,313.3 653.4,309.7 653.7,305.1 653.8,311.1 654.0,305.9 654.3,311.3 654.6,310.1 654.8,316.7 655.2,310.8 655.4,306.5 655.5,311.1 655.8,315.6 656.1,311.3 656.5,311.7 656.6,309.3 656.8,303.1 657.2,312.0 657.4,311.2 657.5,310.1 658.0,305.6 658.1,314.7 658.3,309.6 658.6,311.7 658.9,306.5 659.1,308.1 659.4,313.3 659.8,307.4 660.0,311.3 660.1,311.2 660.4,313.2 660.6,311.8 660.9,308.8 661.2,310.2 661.4,311.7 661.5,312.5 661.7,308.4 662.1,305.0 662.3,312.6 662.6,308.3 662.9,312.7 663.2,310.1 663.4,305.5 663.5,309.7 663.7,311.6 664.1,313.7 664.4,311.6 664.6,311.5 664.9,308.6 665.0,307.5 665.4,313.0 665.7,303.0 665.8,312.2 666.1,312.4 666.4,306.7 666.7,309.2 666.9,302.2 667.0,314.9 667.5,305.8 667.7,311.4 668.0,314.2 668.1,309.3 668.3,314.1 668.6,305.7 668.7,313.5 669.2,312.9 669.5,309.9 669.6,312.8 670.0,307.7 670.3,310.9 670.4,314.4 670.6,292.4 670.9,311.6 671.2,314.1 671.5,304.3 671.6,312.6 671.8,305.7 672.3,316.0 672.4,309.7 672.6,311.8 672.9,309.1 673.2,313.8 673.5,301.3 673.6,313.2 673.9,307.0 674.2,303.0 674.4,312.7 674.7,312.3 674.9,308.6 675.0,308.0 675.3,313.3 675.6,311.3 675.9,315.3 676.1,312.9 676.4,310.8 676.6,312.9 676.7,311.1 677.2,309.5 677.5,315.9 677.8,313.7 677.9,305.3 678.2,304.9 678.4,316.7 678.5,313.9 678.7,305.3 679.0,304.4 679.2,315.7 679.6,307.8 679.9,312.6 680.2,319.4 680.4,314.3 680.5,316.0 680.8,311.6 681.2,312.3 681.5,307.9 681.6,307.7 681.8,309.6 682.1,307.3 682.2,311.6 682.8,312.7 683.0,307.0 683.1,314.5 683.3,307.5 683.8,308.8 683.9,319.9 684.2,312.7 684.4,314.6 684.5,304.1 684.7,316.2 685.1,303.9 685.3,315.7 685.6,305.9 685.9,316.3 686.2,312.7 686.4,308.2 686.7,315.9 687.0,309.7 687.1,316.4 687.3,305.1 687.6,315.1 687.7,305.8 688.1,316.5 688.4,308.4 688.7,310.2 689.0,315.5 689.1,312.7 689.3,312.4 689.7,307.1 689.9,311.2 690.2,312.2 690.4,315.3 690.7,310.6 691.0,316.0 691.1,315.5 691.4,307.8 691.6,309.3 691.9,313.9 692.2,314.5 692.4,304.4 692.7,314.3 693.0,312.5 693.3,311.1 693.4,308.3 693.6,312.1 693.7,316.5 694.3,310.4 694.5,316.3 694.8,310.8 695.0,306.9 695.1,312.4 695.3,308.6 695.6,309.4 695.9,313.8 696.2,324.1 696.3,313.0 696.6,308.9 696.8,312.9 697.3,313.7 697.4,311.3 697.6,310.7 697.7,309.7 698.2,306.2 698.3,315.6 698.6,309.1 698.8,314.5 699.1,308.4 699.4,313.2 699.6,309.4 699.7,312.9 700.0,317.4 700.2,307.3 700.8,316.3 700.9,308.2 701.2,308.0 701.4,303.6 701.7,317.1 701.9,309.8 702.2,315.3 702.5,304.0 702.6,313.4 702.9,317.8 703.1,305.7 703.4,314.8 703.5,314.2 703.7,310.0 704.0,313.3 704.2,310.7 704.6,309.9 704.8,311.3 705.2,313.1 705.4,315.9 705.7,314.5 705.8,310.7 706.2,307.9 706.3,313.7 706.8,305.2 706.9,308.2 707.1,313.6 707.2,309.4 707.5,304.1 707.7,318.6 708.2,306.2 708.3,314.7 708.8,313.2 708.9,311.9 709.2,316.8 709.4,310.5 709.5,312.8 710.0,315.2 710.3,311.0 710.5,314.1 710.6,306.5 710.9,313.8 711.1,316.2 711.2,310.1 711.5,312.6 711.7,307.4 712.1,310.8 712.4,318.6 712.6,310.9 712.8,314.0 713.1,311.4 713.4,315.2 713.8,314.5 714.0,310.9 714.1,314.5 714.4,312.0 714.7,313.3 714.9,307.6 715.2,307.1 715.4,315.4 715.5,318.0 715.8,308.8 716.1,316.0 716.3,314.1 716.6,317.2 716.7,316.4 717.0,313.5 717.2,311.6 717.7,314.9 718.0,313.2 718.3,319.4 718.4,314.0 718.6,307.1 718.9,313.4 719.0,315.0 719.2,309.1 719.5,308.7 719.7,315.7 720.1,316.0 720.4,305.6 720.6,318.9 720.7,305.8 721.0,313.8 721.2,312.2 721.6,313.9 722.0,305.9 722.1,306.4 722.3,314.9 722.6,313.4 722.7,315.8 723.0,308.3 723.2,313.1 723.6,314.7 723.8,310.4 724.1,317.3 724.3,311.6 724.6,315.6 724.9,311.2 725.0,304.1 725.3,313.7 725.6,313.2 725.8,319.3 726.1,311.2 726.3,318.2 726.6,313.4 726.7,314.0 727.2,309.4 727.3,315.3 727.6,309.9 727.8,313.7 728.1,308.8 728.2,314.0 728.6,312.9 728.9,314.1 729.0,315.3 729.5,244.0 729.6,308.1 729.8,313.5 730.1,313.0 730.2,314.4 730.7,313.3 730.9,309.2 731.0,316.9 731.3,305.6 731.6,309.7 731.8,313.9 732.1,308.8 732.4,308.3 732.5,306.5 732.8,315.9 733.0,309.3 733.5,312.0 733.6,312.6 733.8,291.0 734.2,312.9 734.4,308.4 734.7,303.8 734.8,310.2 735.3,314.8 735.5,304.3 735.8,316.1 735.9,312.7 736.1,313.1 736.2,316.1 736.5,314.4 736.8,281.0 737.1,316.3 737.3,313.3 737.6,316.0 737.8,305.6 738.1,311.1 738.4,317.8 738.7,310.1 738.8,288.2 739.1,311.7 739.4,315.8 739.6,318.7 739.9,312.2 740.2,317.4 740.4,293.0 740.7,311.0 740.8,315.0 741.1,308.0 741.3,311.5 741.6,314.7 741.9,304.4 742.2,313.5 742.4,308.2 742.7,317.1 742.8,307.6 743.1,303.2 743.3,309.6 743.6,312.4 743.9,313.5 744.0,311.0 744.4,314.8 744.5,311.0 744.7,315.9 745.3,311.8 745.4,315.0 745.6,314.8 745.9,308.5 746.2,312.3 746.3,313.7 746.5,314.0 746.7,312.4 747.1,309.8 747.3,312.3 747.7,307.9 747.9,316.6 748.0,315.2 748.3,311.1 748.6,311.9 748.8,315.1 749.1,313.1 749.3,305.0 749.6,313.7 749.7,308.4 750.0,316.1 750.5,300.8 750.8,314.3 750.9,306.8 751.1,317.4 751.3,312.8 751.7,313.6 751.9,309.0 752.0,314.6 752.3,310.5 752.6,311.4 752.8,316.3 753.3,312.5 753.4,316.6 753.7,314.2 753.9,309.1 754.0,314.7 754.5,309.4 754.6,315.2 754.8,313.3 755.1,314.7 755.2,318.4 755.7,312.3 755.9,305.0 756.2,314.2 756.3,306.8 756.8,312.9 756.9,313.6 757.1,308.6 757.4,317.2 757.5,312.9 757.7,311.1 758.0,318.2 758.2,307.6 758.6,315.0 758.9,309.8 759.1,312.0 759.2,315.9 759.5,306.8 760.0,314.2 760.3,307.1 760.5,316.2 760.8,317.1 760.9,313.5 761.2,305.4 761.4,313.0 761.7,311.1 761.8,304.1 762.1,313.3 762.5,317.1 762.6,317.6 762.8,308.9 763.2,305.8 763.4,314.3 763.7,308.7 764.0,312.9 764.3,311.6 764.4,313.1 764.6,314.5 764.8,310.5 765.1,313.5 765.4,314.5 765.7,303.0 765.8,317.0 766.1,316.9 766.3,309.5 766.6,316.1 766.9,317.5 767.1,313.9 767.2,309.6 767.5,305.1 768.0,312.0 768.1,312.0 768.4,314.6 768.7,314.2 768.9,313.9 769.1,316.4 769.4,311.4 769.5,309.5 770.0,316.8 770.1,312.3 770.3,315.0 770.6,316.3 770.7,308.5 771.0,314.7 771.2,305.9 771.5,309.4 771.8,314.8 772.1,315.7 772.3,314.4 772.7,314.8 772.9,308.5 773.0,315.9 773.2,310.9 773.8,315.4 774.0,311.7 774.1,314.1 774.4,307.8 774.6,316.5 774.7,312.9 775.2,308.0 775.3,315.2 775.8,316.5 776.0,312.8 776.1,313.8 776.3,310.9 776.7,310.2 776.9,311.4 777.0,313.8 777.2,310.3 777.6,307.7 777.9,312.7 778.1,314.3 778.4,316.2 778.6,312.9 778.7,311.8 779.2,308.7 779.3,314.6 779.8,309.7 779.9,316.0 780.1,318.9 780.2,309.2 780.7,315.0 780.9,306.6 781.2,317.0 781.3,313.3 781.6,314.0 781.9,317.4 782.2,314.1 782.4,309.8 782.5,305.6 782.9,314.4 783.0,316.5 783.5,313.0 783.6,310.4 783.8,313.6 784.1,304.6 784.2,315.6 784.5,307.7 784.7,314.7 785.0,317.0 785.3,309.9 785.6,312.0 785.8,317.4 786.1,307.0 786.2,308.8 786.5,316.1 787.0,308.2 787.2,314.2 787.3,298.7 787.6,313.2 787.8,315.7 788.2,313.2 788.4,308.7 788.8,319.1 789.0,310.5 789.1,311.3 789.5,317.3 789.6,309.2 789.8,317.8 790.1,309.9 790.4,317.3 790.8,304.7 791.0,309.8 791.3,308.9 791.4,314.8 791.8,315.7 791.9,312.7 792.2,310.7 792.4,317.5 792.7,317.3 792.8,309.9 793.1,313.3 793.3,309.0 793.6,306.3 793.9,317.8 794.2,307.7 794.4,315.0 794.7,317.4 794.8,314.9 795.3,310.1 795.4,314.2 795.7,308.3 795.9,319.8 796.0,312.7 796.2,309.6 796.5,317.1 796.8,310.7 797.1,310.4 797.3,315.3 797.6,311.3 797.7,317.4 798.0,315.3 798.3,313.1 798.5,300.0 799.0,317.0 799.3,313.9 799.4,318.6 799.6,313.4 799.9,316.1 800.0,306.3 800.2,319.9 800.8,310.9 801.0,308.7 801.3,316.7 801.4,308.8 801.6,315.9 801.7,314.7 802.2,315.5 802.5,309.4 802.6,307.5 802.8,315.8 803.1,317.0 803.4,313.0 803.7,305.7 803.9,314.5 804.0,316.8 804.2,313.2 804.6,307.1 804.8,314.5 805.3,315.0 805.4,312.7 805.6,313.6 805.9,321.0 806.2,312.3 806.5,309.4 806.8,311.3 806.9,317.8 807.1,316.2 807.4,309.4 807.6,314.1 807.9,311.1 808.0,318.2 808.3,309.3 808.6,307.6 808.8,316.0 809.1,316.7 809.4,307.5 809.5,311.1 809.7,314.5 810.2,314.9 810.3,307.6 810.6,309.1 810.9,315.2 811.1,313.2 811.2,309.4 811.5,311.5 811.8,314.9 812.2,316.1 812.5,309.0 812.6,307.4 812.8,315.4 813.1,309.7 813.2,315.2 813.7,309.7 814.0,314.5 814.1,314.3 814.3,312.7 814.6,313.2 814.9,302.7 815.1,311.6 815.4,314.4 815.7,312.6 816.0,309.9 816.1,306.7 816.5,314.0 816.6,314.3 816.8,317.6 817.2,314.4 817.4,311.8 817.7,309.7 818.0,314.0 818.1,315.1 818.3,311.0 818.6,315.7 818.8,312.7 819.1,315.7 819.4,312.2 819.5,318.2 820.0,310.1 820.3,311.8 820.4,319.3 820.7,312.7 820.9,308.2 821.1,309.1 821.4,315.6 821.5,311.0 821.8,315.6 822.1,311.2 822.3,314.2 822.7,315.4 822.9,306.0 823.0,319.2 823.4,309.2 823.7,314.2 823.8,316.1 824.1,313.4 824.4,316.8 824.6,316.8 824.9,314.2 825.0,311.0 825.3,315.4 825.5,314.5 825.7,305.9 826.1,314.3 826.3,313.2 826.7,315.6 826.9,310.5 827.3,275.2 827.5,314.8 827.6,314.5 827.8,315.8 828.1,316.3 828.3,308.6 828.6,311.2 828.7,316.7 829.0,313.0 829.2,315.9 829.6,313.0 829.8,317.8 830.1,316.6 830.3,311.0 830.6,310.5 830.7,315.8 831.0,310.1 831.3,315.9 831.6,311.5 831.9,319.5 832.3,307.4 832.4,314.0 832.7,307.6 832.9,315.1 833.2,315.8 833.3,314.9 833.8,317.0 833.9,312.9 834.1,311.6 834.2,317.1 834.7,314.8 834.9,312.1 835.2,286.6 835.5,315.2 835.6,312.5 835.8,311.3 836.2,316.9 836.4,314.1 836.5,310.5 836.9,313.2 837.3,315.7 837.5,309.0 837.6,314.9 837.8,317.5 838.1,313.1 838.4,316.1 838.7,316.3 838.8,308.1 839.3,315.1 839.5,314.3 839.8,315.0 839.9,309.5 840.1,282.0 840.4,315.0 840.7,311.5 840.8,316.0 841.3,315.2 841.5,314.7 841.6,316.6 841.9,310.4 842.1,315.1 842.2,316.1 842.8,319.4 843.0,312.0 843.3,316.7 843.4,311.7 843.6,316.6 843.8,310.9 844.1,314.7 844.4,307.4 844.5,314.9 845.0,291.7 845.3,311.8 845.4,307.3 845.8,313.1 845.9,318.4 846.2,317.2 846.4,312.1 846.8,314.6 847.0,311.0 847.1,308.9 847.3,319.3 847.7,316.1 847.9,305.3 848.1,314.9 848.2,318.1 848.8,315.0 849.0,317.2 849.3,305.3 849.4,316.5 849.7,314.6 849.9,315.7 850.0,315.8 850.2,309.3 850.5,311.9 850.8,316.6 851.1,312.2 851.3,314.8 851.7,316.1 851.9,314.6 852.2,313.8 852.3,310.6" stroke="#e06666"/>
<path d="M85.5,300.5 85.8,293.7 86.1,301.7 86.4,297.4 86.6,303.8 86.9,294.4 87.3,300.5 87.5,296.8 87.6,302.4 87.8,299.2 88.1,295.9 88.3,299.1 88.6,297.7 88.7,302.9 89.0,293.7 89.3,301.6 89.8,298.8 89.9,300.2 90.1,295.9 90.3,300.5 90.6,298.3 90.9,301.4 91.3,304.4 91.5,297.6 91.8,296.3 91.9,300.1 92.2,292.5 92.4,301.6 92.7,296.4 92.9,299.8 93.0,291.4 93.5,300.8 93.6,299.9 93.8,296.3 94.2,302.3 94.4,298.7 94.7,295.1 94.9,299.6 95.0,290.7 95.5,302.3 95.6,276.3 95.9,301.5 96.1,295.2 96.2,300.4 96.5,304.0 96.9,299.1 97.2,301.5 97.5,296.7 97.6,295.9 97.9,300.7 98.2,301.4 98.4,294.5 98.8,304.4 99.0,292.8 99.2,297.8 99.3,302.1 99.6,292.5 99.8,299.8 100.1,295.5 100.2,299.6 100.5,302.2 100.7,293.2 101.3,301.1 101.5,291.2 101.8,301.1 101.9,302.3 102.1,298.1 102.4,302.0 102.8,301.6 103.0,292.9 103.1,302.8 103.4,297.4 103.8,301.5 103.9,298.0 104.2,293.6 104.4,301.2 104.5,301.4 104.7,296.8 105.1,300.3 105.4,297.5 105.7,295.3 105.9,299.9 106.2,300.3 106.4,296.1 106.5,296.6 107.0,304.3 107.1,299.7 107.4,291.5 107.7,295.1 107.9,301.9 108.0,302.4 108.2,296.4 108.8,293.0 109.0,298.8 109.1,297.0 109.3,299.9 109.7,300.9 109.9,292.9 110.0,299.9 110.2,297.2 110.7,293.1 110.8,301.4 111.1,303.4 111.4,294.3 111.7,298.7 111.9,295.5 112.0,293.9 112.2,304.6 112.8,291.1 113.0,299.4 113.1,294.7 113.4,304.5 113.6,292.2 113.9,305.9 114.0,299.0 114.5,301.9 114.8,295.1 115.0,300.5 115.1,299.4 115.3,292.5 115.6,301.8 115.9,299.1 116.2,299.2 116.5,300.9 116.6,292.4 116.8,301.5 117.3,301.6 117.4,297.7 117.6,288.0 117.7,301.3 118.3,300.3 118.5,295.6 118.6,301.1 118.9,297.7 119.2,299.9 119.4,302.0 119.7,303.0 119.9,297.1 120.0,294.4 120.2,300.3 120.6,301.1 120.9,299.4 121.1,300.0 121.4,302.5 121.7,296.2 121.9,299.1 122.0,290.6 122.2,301.9 122.8,301.8 122.9,299.4 123.1,296.6 123.4,304.8 123.5,302.2 123.7,295.8 124.3,298.5 124.5,307.8 124.6,297.7 124.9,300.9 125.1,303.3 125.2,298.0 125.8,293.7 126.0,300.7 126.2,301.3 126.3,293.9 126.8,299.2 126.9,300.5 127.2,290.7 127.4,303.3 127.5,300.4 128.0,297.6 128.1,301.1 128.3,297.5 128.6,306.5 128.9,297.2 129.1,300.6 129.2,296.0 129.5,291.4 129.7,303.7 130.1,299.4 130.4,303.6 130.6,297.6 130.9,300.5 131.1,292.7 131.4,300.3 131.7,301.8 132.0,297.4 132.3,304.7 132.4,293.8 132.7,300.9 132.9,294.9 133.1,287.2 133.4,301.3 133.5,303.4 134.0,296.6 134.1,295.5 134.3,306.6 134.6,301.6 134.7,296.4 135.0,301.2 135.2,300.5 135.7,305.7 136.0,296.9 136.1,293.3 136.4,303.0 136.6,295.9 136.9,303.9 137.0,295.3 137.3,304.2 137.8,296.3 138.0,300.9 138.3,298.4 138.4,294.9 138.6,301.8 138.7,295.6 139.0,303.9 139.5,294.6 139.8,300.5 140.0,303.0 140.3,310.3 140.4,298.3 140.6,303.8 140.9,300.2 141.2,292.0 141.3,303.7 141.6,294.4 141.8,305.2 142.3,295.5 142.4,302.1 142.6,298.4 142.9,301.1 143.0,297.8 143.2,304.6 143.6,296.8 143.8,296.0 144.1,303.1 144.4,298.7 144.7,303.7 144.9,296.3 145.0,297.7 145.5,294.5 145.6,301.2 145.8,304.1 146.1,301.5 146.2,297.9 146.6,301.5 146.7,308.7 147.2,301.4 147.3,290.5 147.6,301.8 147.9,297.0 148.1,302.7 148.2,295.2 148.5,297.1 148.7,300.4 149.2,301.2 149.5,289.0 149.6,296.8 149.9,301.0 150.1,302.4 150.4,295.6 150.5,293.6 150.8,297.8 151.0,302.1 151.2,295.1 151.8,296.6 151.9,298.7 152.1,295.1 152.4,301.5 152.5,306.7 152.8,300.8 153.1,301.3 153.5,296.2 153.6,299.8 153.8,292.5 154.1,296.4 154.2,301.9 154.7,298.5 155.0,301.4 155.1,297.9 155.5,304.2 155.8,296.0 155.9,300.9 156.1,301.2 156.4,293.6 156.5,296.0 157.0,304.9 157.3,300.5 157.4,299.6 157.6,301.6 157.9,296.6 158.1,301.5 158.2,291.1 158.5,301.3 158.7,295.5 159.3,304.6 159.4,297.6 159.6,302.8 159.9,299.9 160.1,296.9 160.2,304.2 160.8,301.0 161.0,295.0 161.1,301.6 161.4,298.0 161.6,301.9 161.9,297.2 162.0,305.7 162.4,292.5 162.7,302.1 162.8,294.1 163.3,300.6 163.4,293.7 163.7,297.0 163.9,302.2 164.0,298.3 164.2,300.3 164.8,301.7 165.0,295.1 165.3,300.3 165.4,301.3 165.6,294.1 165.7,299.8 166.0,303.5 166.3,300.1 166.6,302.8 166.8,293.8 167.1,300.9 167.4,301.4 167.7,303.1 167.9,299.1 168.0,296.7 168.2,302.2 168.8,303.6 168.9,300.3 169.3,300.5 169.4,296.4 169.6,296.5 169.7,300.3 170.2,300.4 170.3,301.9 170.8,302.5 170.9,296.0 171.1,303.3 171.4,301.5 171.7,289.0 171.9,299.2 172.3,297.8 172.5,302.3 172.8,300.1 172.9,302.5 173.1,296.6 173.2,302.1 173.6,303.8 173.7,298.5 174.0,303.2 174.5,298.3 174.6,294.5 174.9,301.8 175.1,302.9 175.4,297.8 175.5,297.5 175.7,302.5 176.0,301.4 176.2,291.9 176.6,301.4 176.9,296.0 177.2,296.0 177.4,300.9 177.5,300.4 177.8,299.2 178.3,301.7 178.5,298.4 178.6,301.8 178.9,299.9 179.1,301.5 179.2,300.0 179.5,299.2 180.0,302.1 180.1,302.3 180.3,297.9 180.6,300.8 180.8,293.5 181.2,303.6 181.4,291.6 181.7,300.0 182.0,294.2 182.3,296.4 182.4,299.8 182.6,302.3 182.9,295.7 183.2,301.6 183.4,294.7 183.7,295.9 183.8,300.7 184.1,298.2 184.3,300.7 184.6,299.7 184.7,299.1 185.2,301.8 185.4,297.4 185.8,301.0 186.0,298.9 186.1,300.8 186.4,300.1 186.6,304.5 186.9,300.4 187.2,298.6 187.4,300.8 187.7,294.6 187.8,300.2 188.3,298.5 188.4,303.8 188.6,299.9 188.7,298.6 189.2,305.1 189.4,288.2 189.7,294.8 189.8,300.1 190.1,294.0 190.4,299.5 190.7,295.8 190.9,301.7 191.0,299.5 191.2,304.0 191.7,302.4 191.8,297.1 192.1,301.3 192.3,298.2 192.6,294.0 192.7,304.2 193.2,307.1 193.5,292.1 193.8,301.8 194.0,300.2 194.1,302.6 194.4,291.5 194.6,296.3 194.9,302.3 195.2,294.1 195.5,303.0 195.6,299.9 195.9,293.8 196.1,293.6 196.3,301.5 196.6,302.4 196.9,299.9 197.2,298.4 197.5,303.4 197.6,301.3 197.8,294.0 198.1,288.2 198.4,302.1 198.6,305.4 198.9,297.3 199.0,302.5 199.3,298.6 199.6,300.6 199.8,296.1 200.1,299.2 200.2,304.9 200.6,297.4 200.9,300.3 201.2,301.4 201.3,290.9 201.6,302.4 201.8,294.6 202.1,290.4 202.4,301.0 202.5,302.5 202.9,291.6 203.3,295.0 203.5,297.6 203.6,300.2 203.8,294.8 204.2,292.8 204.4,302.5 204.7,301.6 205.0,298.1 205.2,303.7 205.5,291.5 205.6,295.3 205.9,301.1 206.2,300.5 206.4,296.1 206.7,302.3 207.0,293.7 207.1,301.0 207.5,307.0 207.6,291.5 207.9,300.2 208.2,297.6 208.4,293.3 208.5,298.1 209.0,302.2 209.1,298.1 209.3,301.3 209.6,296.9 209.8,301.7 210.2,291.3 210.4,307.4 210.8,304.0 211.0,292.4 211.1,301.6 211.4,300.9 211.6,301.1 211.7,294.2 212.2,305.1 212.4,299.3 212.8,301.6 213.0,300.4 213.1,300.3 213.3,300.1 213.6,300.8 213.7,294.7 214.0,299.4 214.2,300.3 214.5,293.2 214.7,300.9 215.3,301.3 215.4,300.3 215.7,300.5 215.9,301.9 216.2,295.4 216.4,299.9 216.5,297.1 216.7,300.4 217.3,306.1 217.4,286.3 217.6,295.6 217.7,301.0 218.3,300.7 218.5,293.3 218.7,295.8 219.0,302.4 219.3,303.2 219.4,293.4 219.6,300.1 219.9,302.0 220.0,293.2 220.2,297.6 220.8,289.6 221.0,299.2 221.3,302.3 221.4,293.9 221.6,302.9 221.7,298.3 222.3,295.4 222.5,300.4 222.8,302.0 222.9,293.0 223.1,295.9 223.4,300.6 223.7,295.5 223.9,305.3 224.0,304.3 224.5,292.8 224.6,297.6 224.8,296.2 225.1,300.8 225.2,298.6 225.6,299.3 225.9,301.4 226.0,299.8 226.3,295.5 226.6,293.2 226.8,299.0 227.1,298.6 227.4,300.1 227.7,299.1 227.9,301.1 228.2,293.5 228.5,300.2 228.6,300.9 228.8,303.9 229.1,294.4 229.4,302.1 229.5,297.8 229.8,300.3 230.0,303.6 230.5,293.8 230.6,302.2 230.8,281.7 231.1,298.5 231.2,298.0 231.5,300.7 231.8,294.4 232.2,298.2 232.5,303.4 232.6,302.4 232.8,299.9 233.1,297.4 233.4,294.8 233.7,288.4 234.0,303.3 234.1,293.6 234.3,298.9 234.6,294.8 234.9,300.0 235.1,300.4 235.4,296.8 235.8,302.7 236.0,288.9 236.3,295.3 236.4,302.9 236.8,299.5 236.9,306.5 237.1,301.9 237.2,295.5 237.5,301.9 238.0,293.9 238.1,290.5 238.4,300.9 238.6,300.2 238.9,301.1 239.1,301.9 239.2,295.3 239.7,299.8 239.8,295.5 240.1,301.8 240.3,300.0 240.6,298.4 240.7,301.6 241.2,295.9 241.4,302.8 241.7,289.9 242.0,299.8 242.1,294.1 242.3,301.5 242.6,298.6 242.7,303.8 243.0,295.4 243.3,301.4 243.8,294.7 244.0,302.1 244.3,298.8 244.4,303.4 244.7,299.2 244.9,305.3 245.0,301.9 245.2,299.0 245.6,295.9 245.8,298.2 246.1,299.2 246.3,294.8 246.6,297.1 246.7,303.6 247.0,293.6 247.2,300.6 247.6,301.3 248.0,296.8 248.1,305.1 248.4,296.1 248.6,303.0 248.9,295.9 249.2,296.3 249.3,302.0 249.6,302.0 249.8,288.8 250.3,295.6 250.4,300.0 250.6,294.8 250.7,300.7 251.2,302.5 251.3,298.2 251.8,302.8 251.9,292.8 252.1,302.3 252.2,296.5 252.7,302.0 252.9,305.2 253.2,292.1 253.3,300.6 253.8,297.2 253.9,301.7 254.2,303.5 254.4,298.7 254.5,300.5 254.7,303.0 255.0,302.0 255.5,136.0 255.6,303.6 255.9,301.3 256.2,303.0 256.4,301.1 256.5,305.1 256.7,301.7 257.0,303.8 257.2,297.6 257.8,298.6 257.9,302.2 258.2,298.6 258.4,300.7 258.7,301.3 258.8,309.0 259.3,304.8 259.5,302.2 259.6,301.1 259.9,297.8 260.1,304.6 260.4,298.9 260.5,303.5 261.0,308.5 261.3,303.2 261.4,302.2 261.8,303.2 261.9,297.9 262.2,305.6 262.4,299.1 262.5,303.0 262.7,295.0 263.1,300.4 263.4,297.1 263.6,304.4 263.8,300.6 264.2,306.2 264.4,304.2 264.7,303.5 264.8,297.2 265.1,309.4 265.3,301.5 265.6,292.5 265.7,299.7 266.2,295.6 266.4,302.8 266.5,295.1 266.7,305.4 267.1,302.5 267.4,294.7 267.6,295.7 267.9,304.0 268.0,292.6 268.2,303.1 268.5,297.3 269.0,307.7 269.1,307.1 269.4,295.5 269.7,302.5 269.9,304.1 270.0,303.7 270.3,300.2 270.7,293.3 270.8,302.7 271.1,299.5 271.3,304.3 271.7,304.4 271.9,296.3 272.0,301.1 272.2,294.9 272.8,302.6 273.0,294.9 273.1,295.8 273.4,300.1 273.6,304.2 273.9,292.3 274.0,297.2 274.3,306.2 274.8,303.7 274.9,304.8 275.1,290.2 275.3,300.4 275.7,295.1 275.9,304.3 276.2,304.5 276.5,297.5 276.6,306.4 276.9,296.6 277.1,301.2 277.2,298.6 277.6,297.8 277.7,305.9 278.3,297.2 278.5,304.4 278.6,295.1 278.8,303.9 279.1,301.4 279.2,306.3 279.6,304.9 279.7,296.2 280.2,305.4 280.3,299.9 280.6,303.0 280.8,304.4 281.1,299.8 281.4,294.4 281.7,303.6 281.9,292.9 282.0,305.0 282.3,297.3 282.6,302.6 282.8,295.5 283.1,304.3 283.2,301.2 283.7,303.6 284.0,296.8 284.3,303.2 284.5,299.4 284.6,305.7 284.9,299.6 285.1,303.3 285.2,302.4 285.5,295.8 285.7,302.4 286.1,298.0 286.5,305.7 286.6,298.8 286.9,302.6 287.2,299.8 287.4,303.6 287.5,307.3 288.0,298.8 288.1,298.0 288.3,301.3 288.6,297.6 288.8,305.4 289.1,302.1 289.2,298.7 289.5,292.8 290.0,304.2 290.1,304.5 290.4,296.7 290.6,303.1 290.9,299.1 291.2,303.3 291.4,297.9 291.5,304.6 291.7,302.8 292.1,295.7 292.4,303.1 292.7,299.9 292.9,308.7 293.1,302.5 293.2,306.1 293.5,305.3 293.8,298.9 294.3,302.2 294.4,295.5 294.7,299.3 294.9,303.5 295.2,294.9 295.4,306.3 295.5,293.2 296.0,314.1 296.3,304.1 296.4,302.6 296.6,299.0 296.7,294.3 297.0,300.0 297.3,305.3 297.7,302.9 297.8,304.2 298.3,306.9 298.4,302.8 298.6,303.0 298.7,304.5 299.2,298.6 299.5,303.6 299.6,303.2 300.0,296.6 300.1,300.1 300.4,301.7 300.7,292.0 300.9,301.2 301.2,306.8 301.3,301.3 301.6,304.8 301.9,303.7 302.1,294.9 302.4,304.3 302.6,304.3 302.9,296.7 303.0,305.2 303.3,303.0 303.6,299.0 303.8,307.7 304.1,306.6 304.2,303.1 304.6,302.3 304.9,307.1 305.0,305.2 305.3,283.0 305.6,304.1 305.9,298.9 306.1,300.7 306.4,307.8 306.5,293.6 306.9,305.0 307.0,295.0 307.2,302.3 307.8,303.2 307.9,302.7 308.2,295.8 308.4,305.1 308.7,301.3 308.9,304.3 309.2,297.9 309.5,301.7 309.6,297.6 309.8,300.9 310.1,300.7 310.2,308.2 310.5,301.2 311.0,305.5 311.3,303.7 311.5,298.2 311.8,304.4 311.9,301.6 312.2,304.1 312.4,295.0 312.5,300.7 312.7,304.7 313.1,302.9 313.5,300.3 313.6,301.6 313.9,305.6 314.1,302.3 314.2,298.9 314.5,304.5 314.8,299.7 315.1,302.6 315.4,306.3 315.6,303.5 315.9,296.7 316.1,300.4 316.2,304.5 316.8,302.7 317.0,295.8 317.1,303.4 317.4,296.5 317.6,302.3 317.7,299.4 318.2,297.7 318.4,305.1 318.5,305.6 319.0,291.5 319.1,300.9 319.3,295.2 319.6,307.2 319.7,294.8 320.0,304.0 320.2,294.6 320.5,298.5 320.8,305.3 321.3,303.6 321.4,296.9 321.6,302.8 321.7,308.2 322.0,306.0 322.2,301.7 322.8,298.8 323.0,303.6 323.1,299.3 323.4,301.8 323.7,304.8 323.9,294.5 324.0,299.3 324.3,309.3 324.7,302.9 324.8,304.3 325.3,302.4 325.4,298.0 325.7,301.7 325.9,305.2 326.0,304.7 326.3,295.9 326.8,313.6 327.0,301.7 327.3,301.4 327.4,305.0 327.6,287.8 327.7,305.4 328.2,297.8 328.5,304.2 328.6,295.8 328.8,305.2 329.1,298.8 329.3,306.6 329.6,304.7 329.7,301.8 330.2,294.6 330.3,305.4 330.6,299.5 330.9,303.1 331.1,306.2 331.2,304.1 331.6,295.6 331.9,304.2 332.3,304.3 332.5,306.1 332.6,303.8 332.8,290.4 333.2,299.8 333.4,306.5 333.5,302.7 333.7,296.1 334.2,300.1 334.5,304.4 334.8,302.6 334.9,297.0 335.1,296.3 335.4,303.9 335.5,303.3 335.7,297.3 336.3,305.7 336.5,298.8 336.6,302.0 336.8,295.9 337.1,302.9 337.2,304.4 337.7,297.9 337.8,307.1 338.1,294.6 338.3,301.8 338.6,298.3 338.8,305.0 339.2,302.2 339.4,306.1 339.5,303.9 339.8,297.4 340.1,307.4 340.5,300.9 340.6,300.6 340.9,303.6 341.2,304.7 341.4,302.7 341.5,307.1 341.8,296.9 342.3,304.8 342.4,303.1 342.6,304.7 342.8,300.4 343.1,301.5 343.2,307.2 343.7,305.4 344.0,297.3 344.1,303.5 344.3,295.5 344.6,301.0 344.7,307.9 345.1,305.6 345.2,297.2 345.7,297.5 346.0,304.4 346.1,297.8 346.3,306.5 346.7,301.1 346.9,305.0 347.0,304.0 347.2,305.7 347.7,302.3 347.8,309.4 348.3,306.3 348.4,298.8 348.6,299.9 348.9,304.5 349.0,299.5 349.2,305.3 349.7,305.2 349.8,301.0 350.1,294.2 350.4,303.9 350.6,301.4 350.9,298.1 351.0,305.4 351.3,300.8 351.6,296.7 352.0,307.2 352.1,303.5 352.3,296.9 352.6,305.9 352.9,293.0 353.2,298.3 353.3,304.9 353.6,297.4 353.9,306.4 354.1,305.0 354.4,300.5 354.6,306.5 354.7,304.8 355.0,305.3 355.3,302.1 355.6,302.1 355.9,299.4 356.3,305.4 356.4,302.4 356.6,303.5 356.9,300.0 357.2,301.0 357.3,308.7 357.8,296.4 357.9,294.6 358.1,301.2 358.2,299.2 358.6,289.6 358.9,302.2 359.0,296.9 359.2,299.4 359.8,304.6 359.9,299.7 360.1,294.3 360.2,302.2 360.5,171.6 360.9,298.7 361.2,292.6 361.3,297.6 361.6,297.4 361.8,295.5 362.1,298.4 362.2,289.3 362.5,289.9 362.7,299.0 363.2,298.8 363.5,291.4 363.6,294.6 363.9,299.6 364.2,298.5 364.4,294.3 364.8,301.2 365.0,290.9 365.1,292.9 365.5,299.0 365.6,298.6 365.9,294.0 366.1,299.6 366.4,290.7 366.8,298.1 367.0,295.7 367.3,301.6 367.4,290.6 367.8,301.0 367.9,295.6 368.2,292.5 368.4,298.4 368.5,299.9 368.7,296.3 369.1,297.1 369.4,299.1 369.8,297.8 369.9,293.0 370.1,294.4 370.4,300.5 370.8,300.7 371.0,285.0 371.1,291.8 371.4,297.6 371.6,302.3 371.7,292.4 372.1,298.5 372.4,292.6 372.7,301.1 372.8,296.1 373.3,300.4 373.4,295.7 373.6,293.1 373.7,298.6 374.0,286.5 374.2,295.8 374.7,299.8 375.0,296.1 375.1,301.2 375.3,297.7 375.6,301.1 375.9,297.8 376.0,304.3 376.2,296.0 376.7,302.7 376.8,297.1 377.1,299.9 377.4,307.3 377.6,298.5 377.7,308.4 378.0,304.6 378.3,294.7 378.6,302.4 378.8,299.9 379.3,313.7 379.4,300.9 379.7,304.3 379.9,302.7 380.0,294.5 380.5,305.5 380.6,302.8 380.9,305.0 381.3,302.9 381.4,292.6 381.6,300.0 381.7,304.8 382.2,304.8 382.3,297.7 382.8,302.3 382.9,303.9 383.2,307.7 383.4,301.4 383.7,304.2 383.9,283.7 384.3,302.9 384.5,305.9 384.6,301.7 384.9,305.7 385.1,301.7 385.4,305.3 385.6,304.4 385.9,305.4 386.2,304.3 386.3,306.3 386.8,303.9 386.9,305.8 387.1,302.2 387.4,306.5 387.7,300.1 387.9,309.4 388.2,308.6 388.3,304.9 388.8,306.2 388.9,296.4 389.1,293.3 389.4,306.3 389.5,302.7 389.7,308.0 390.2,304.9 390.5,302.7 390.6,305.2 390.8,298.3 391.1,300.1 391.4,305.5 391.8,299.2 392.0,307.2 392.1,303.1 392.5,307.7 392.6,297.4 392.8,303.7 393.2,301.1 393.4,304.4 393.5,301.8 393.7,305.3 394.1,305.0 394.3,303.0 394.8,302.3 394.9,305.5 395.2,306.5 395.4,305.9 395.8,304.5 396.0,294.0 396.3,302.0 396.4,304.6 396.6,297.6 396.7,303.3 397.2,298.4 397.4,303.5 397.7,290.4 397.8,305.4 398.1,305.0 398.3,307.7 398.6,305.8 398.7,299.5 399.0,305.1 399.2,308.6 399.5,306.7 400.0,299.5 400.1,297.3 400.3,304.6 400.7,305.0 400.9,302.7 401.2,302.5 401.4,304.7 401.8,299.0 402.0,306.3 402.3,301.1 402.4,306.4 402.6,307.6 402.7,299.2 403.2,303.1 403.3,301.3 403.7,295.2 403.8,305.3 404.1,308.3 404.4,302.4 404.6,308.0 404.9,301.7 405.0,307.4 405.3,304.6 405.6,305.1 406.0,306.1 406.1,302.7 406.4,305.9 406.7,300.1 406.9,305.8 407.2,294.9 407.3,305.8 407.6,300.6 407.8,304.6 408.3,305.8 408.4,302.4 408.6,304.4 408.9,306.0 409.3,306.7 409.5,298.0 409.8,303.2 409.9,308.1 410.1,302.3 410.2,307.6 410.6,302.1 410.9,301.0 411.2,300.8 411.5,306.3 411.6,300.8 411.9,300.2 412.1,305.8 412.4,294.5 412.7,306.1 412.9,298.7 413.2,299.7 413.5,305.9 413.8,306.7 413.9,301.7 414.1,304.6 414.4,304.2 414.7,305.4 414.8,304.6 415.0,306.2 415.3,302.2 415.6,298.0 415.8,305.7 416.1,306.1 416.2,304.4 416.7,309.7 416.8,303.4 417.2,306.4 417.5,303.8 417.8,303.1 417.9,306.5 418.2,303.3 418.4,306.0 418.5,297.3 418.8,307.7 419.1,297.5 419.5,306.5 419.8,306.7 419.9,305.1 420.1,309.0 420.4,303.7 420.5,304.6 420.8,301.1 421.3,306.1 421.4,296.9 421.6,303.5 421.8,308.5 422.2,305.1 422.4,302.1 422.8,306.9 423.0,301.8 423.1,302.3 423.4,306.3 423.6,304.9 423.7,300.7 424.1,309.4 424.2,301.0 424.5,298.1 424.8,309.1 425.1,303.5 425.4,300.7 425.7,307.2 425.9,303.4 426.0,301.3 426.4,305.7 426.5,296.8 426.7,306.5 427.3,306.8 427.4,306.1 427.6,300.1 427.7,306.4 428.2,306.1 428.3,307.9 428.5,296.8 429.0,306.2 429.1,303.7 429.3,305.3 429.6,305.8 429.9,300.1 430.2,298.4 430.5,305.8 430.6,307.2 431.0,303.2 431.1,305.7 431.4,302.9 431.7,304.7 431.9,302.4 432.0,305.2 432.2,300.9 432.6,301.4 432.8,304.0 433.1,298.1 433.4,305.8 433.6,305.0 433.7,299.2 434.2,307.4 434.5,298.9 434.8,304.3 434.9,307.6 435.3,305.8 435.4,300.8 435.7,298.7 435.9,306.3 436.3,299.4 436.5,306.7 436.6,305.0 436.9,299.8 437.1,302.5 437.2,314.5 437.7,308.3 437.9,301.1 438.2,305.4 438.5,298.3 438.8,302.6 438.9,306.1 439.1,299.4 439.4,305.3 439.5,303.8 439.9,300.7 440.0,307.1 440.2,302.3 440.6,299.1 440.9,303.6 441.2,304.7 441.4,302.5 441.7,306.4 441.8,310.1 442.0,294.5 442.3,306.7 442.6,299.1 442.9,305.3 443.1,309.1 443.2,305.0 443.5,308.8 444.0,295.7 444.1,307.9 444.3,297.7 444.8,302.4 444.9,306.8 445.1,305.3 445.4,299.2 445.5,306.8 445.8,304.0 446.1,305.1 446.3,304.1 446.6,306.0 446.9,299.2 447.2,297.5 447.4,309.8 447.7,306.1 448.0,296.1 448.1,305.1 448.3,300.5 448.6,305.7 448.8,309.0 449.2,306.9 449.4,302.5 449.8,307.0 450.0,301.1 450.3,301.8 450.4,307.2 450.7,308.9 450.9,301.4 451.1,300.5 451.4,306.0 451.5,301.2 451.7,308.9 452.3,298.2 452.4,301.9 452.6,306.1 452.9,300.1 453.0,305.7 453.2,303.0 453.5,307.5 454.0,299.8 454.3,308.4 454.4,300.2 454.7,306.9 454.9,298.9 455.0,299.0 455.3,303.3 455.8,306.5 456.0,303.1 456.3,303.5 456.4,309.6 456.6,311.6 456.7,302.6 457.2,306.9 457.3,300.7 457.6,304.6 457.8,308.2 458.1,299.0 458.4,305.4 458.7,298.7 458.9,305.1 459.0,299.7 459.5,306.9 459.6,305.3 459.8,314.2 460.1,306.3 460.4,305.7 460.6,303.4 460.9,306.2 461.0,299.8 461.3,308.6 461.6,306.9 461.8,303.0 462.1,299.8 462.4,305.3 462.7,302.5 462.9,309.4 463.2,309.1 463.3,299.4 463.6,299.8 463.9,305.6 464.1,304.8 464.4,305.9 464.6,301.0 464.9,304.5 465.0,305.3 465.3,295.9 465.6,303.1 465.8,306.0 466.1,300.9 466.4,308.7 466.5,306.3 466.9,307.6 467.0,302.2 467.5,306.4 467.6,308.0 467.9,302.8 468.1,301.7 468.4,310.9 468.7,309.2 468.8,301.3 469.2,308.4 469.3,298.8 469.6,301.5 469.8,306.3 470.1,307.8 470.2,303.4 470.5,305.7 471.0,300.2 471.1,298.3 471.3,307.4 471.8,306.4 471.9,297.8 472.1,306.1 472.4,304.6 472.7,303.3 473.0,306.1 473.1,308.5 473.3,305.9 473.8,313.0 473.9,302.5 474.2,309.4 474.4,306.5 474.7,299.9 474.8,311.3 475.1,299.5 475.3,305.7 475.6,306.7 475.9,294.4 476.1,303.8 476.2,305.7 476.7,305.3 476.8,301.8 477.1,298.8 477.4,309.8 477.6,307.6 477.7,301.6 478.2,298.9 478.4,304.1 478.5,297.0 478.7,305.9 479.1,307.3 479.3,303.1 479.7,300.1 479.9,302.0 480.0,300.1 480.2,307.2 480.8,305.2 481.0,295.6 481.3,307.1 481.4,302.0 481.7,303.8 481.9,306.5 482.3,304.9 482.5,306.9 482.7,303.3 483.0,306.2 483.1,305.1 483.3,306.9 483.6,300.4 483.9,307.7 484.0,305.7 484.5,302.7 484.6,299.1 484.8,306.2 485.1,299.8 485.4,305.7 485.6,300.0 485.9,305.2 486.3,295.8 486.5,309.7 486.6,303.1 486.8,304.3 487.3,236.1 487.4,305.5 487.6,299.0 487.9,307.0 488.0,301.0 488.5,309.0 488.6,305.3 488.8,306.9 489.1,305.0 489.4,308.3 489.6,306.6 489.7,303.0 490.2,309.6 490.5,303.2 490.6,299.2 490.9,306.2 491.2,309.1 491.4,303.7 491.7,307.4 491.9,298.5 492.0,304.2 492.2,309.1 492.6,301.6 492.9,307.2 493.2,300.2 493.4,306.3 493.7,299.6 493.9,304.5 494.2,307.6 494.5,296.0 494.6,306.7 494.9,301.4 495.1,299.2 495.2,309.4 495.7,307.3 495.8,302.0 496.3,303.6 496.5,306.2 496.6,309.0 496.8,302.8 497.1,306.2 497.2,298.7 497.5,301.5 497.7,307.1 498.1,296.7 498.3,307.8 498.6,299.6 498.9,310.9 499.1,306.7 499.2,304.2 499.7,302.4 499.8,309.8 500.1,306.5 500.4,297.6 500.6,307.0 500.9,300.6 501.1,306.3 501.2,307.0 501.7,299.4 502.0,309.2 502.1,307.8 502.4,303.2 502.7,299.8 502.9,308.5 503.1,310.0 503.4,300.8 503.8,306.5 504.0,303.3 504.1,305.4 504.3,306.8 504.6,307.7 504.9,300.7 505.0,306.0 505.4,307.7 505.8,305.4 506.0,299.2 506.1,302.8 506.4,305.8 506.7,306.9 506.9,301.7 507.0,299.7 507.2,305.3 507.5,301.5 507.7,305.6 508.1,307.1 508.3,301.8 508.7,305.7 508.9,304.8 509.0,302.2 509.2,304.8 509.8,302.4 510.0,305.4 510.1,301.6 510.4,308.4 510.6,298.7 510.7,305.8 511.2,301.8 511.5,306.2 511.6,305.7 511.8,304.7 512.1,307.3 512.4,305.7 512.7,303.1 512.9,307.4 513.0,302.6 513.3,306.8 513.6,306.4 513.8,302.9 514.1,293.9 514.4,309.0 514.7,311.0 514.9,306.7 515.3,308.1 515.5,303.6 515.6,298.9 515.9,308.2 516.1,301.5 516.2,310.6 516.6,311.0 516.7,304.1 517.3,305.4 517.5,302.6 517.6,300.6 517.9,306.4 518.1,302.2 518.2,293.9 518.5,300.6 518.7,306.5 519.0,304.0 519.5,306.7 519.6,300.2 519.9,304.3 520.1,300.3 520.4,307.2 520.5,298.1 520.7,308.6 521.0,306.0 521.3,302.4 521.6,311.0 521.8,303.2 522.1,309.0 522.4,301.3 522.8,305.5 523.0,297.2 523.2,303.4 523.3,305.3 523.8,302.6 523.9,306.8 524.1,305.6 524.2,308.4 524.5,304.4 524.8,309.3 525.1,304.4 525.5,298.6 525.6,307.5 525.9,299.7 526.1,304.8 526.4,301.9 526.7,307.0 527.0,299.2 527.3,309.4 527.4,295.7 527.6,302.2 527.8,308.3 528.1,308.0 528.2,298.9 528.8,306.3 529.0,298.6 529.3,306.5 529.4,298.1 529.6,298.6 529.7,306.5 530.2,302.0 530.4,306.7 530.5,300.6 531.0,310.3 531.1,303.5 531.3,297.2 531.6,306.9 531.7,302.9 532.0,307.0 532.2,302.9 532.5,305.4 532.7,298.7 533.1,311.1 533.4,306.3 533.6,300.7 533.9,306.8 534.0,297.3 534.2,303.7 534.7,304.9 535.0,308.3 535.3,304.3 535.4,308.0 535.6,300.6 535.7,304.7 536.0,288.0 536.2,305.9 536.6,307.5 537.0,305.6 537.1,306.8 537.3,303.8 537.6,306.6 537.9,308.4 538.0,302.0 538.5,314.9 538.6,301.2 539.0,309.4 539.1,303.3 539.3,307.7 539.7,307.9 539.9,304.0 540.0,302.7 540.5,307.9 540.8,304.5 540.9,298.4 541.3,301.0 541.4,306.6 541.6,309.3 541.9,307.5 542.3,305.6 542.5,307.0 542.8,298.4 542.9,306.1 543.1,308.5 543.4,298.9 543.6,305.6 543.9,306.8 544.2,301.6 544.3,307.7 544.6,303.8 544.8,310.2 545.2,303.4 545.4,307.3 545.5,302.9 545.7,310.5 546.3,312.2 546.5,298.8 546.8,306.7 546.9,305.0 547.1,307.7 547.2,296.8 547.5,306.2 547.7,310.4 548.2,305.5 548.5,309.5 548.6,307.2 548.9,300.3 549.1,308.8 549.2,305.1 549.5,308.2 549.8,304.8 550.1,308.2 550.3,299.7 550.6,306.7 550.8,300.0 551.1,308.8 551.4,302.0 551.7,308.0 552.0,300.7 552.3,304.3 552.4,305.9 552.6,301.4 552.9,307.6 553.1,308.8 553.2,300.8 553.7,309.0 553.8,303.9 554.1,306.2 554.3,300.2 554.6,307.2 554.9,308.2 555.1,310.7 555.2,297.0 555.5,307.1 555.7,301.8 556.1,310.8 556.3,306.0 556.6,309.3 556.7,305.8 557.1,301.1 557.2,309.2 557.8,296.3 558.0,307.9 558.3,301.0 558.4,307.8 558.6,308.4 558.9,306.1 559.0,306.3 559.2,308.3 559.5,305.9 559.8,301.3 560.1,311.2 560.3,307.9 560.7,308.8 560.9,307.5 561.0,307.0 561.2,296.6 561.7,310.0 562.0,299.9 562.3,308.0 562.4,303.5 562.6,310.5 562.9,303.5 563.3,305.0 563.5,308.8 563.8,307.6 564.0,308.4 564.1,301.5 564.3,306.3 564.6,299.1 564.9,310.4 565.3,304.9 565.5,309.0 565.6,309.1 565.8,307.1 566.3,311.6 566.4,307.1 566.6,307.5 566.9,285.5 567.3,299.9 567.5,308.5 567.6,304.8 567.8,307.0 568.1,309.7 568.2,306.4 568.6,303.1 568.9,309.7 569.2,307.7 569.3,300.9 569.8,308.7 569.9,300.0 570.1,307.9 570.2,308.3 570.6,304.0 570.9,308.9 571.0,303.1 571.5,312.3 571.6,302.0 571.8,307.8 572.1,306.6 572.4,308.6 572.5,311.7 572.9,302.2 573.2,303.8 573.5,312.1 573.8,307.7 573.9,305.5 574.1,306.8 574.4,314.5 574.5,300.5 574.7,310.4 575.2,309.2 575.3,306.5 575.6,304.7 575.9,308.2 576.1,309.5 576.2,305.3 576.7,309.1 577.0,297.9 577.1,304.8 577.5,311.4 577.6,304.3 577.8,311.5 578.1,301.7 578.4,312.0 578.5,312.1 579.0,301.3 579.3,300.9 579.4,307.7 579.6,307.1 579.9,310.1 580.1,304.5 580.2,300.0 580.5,309.3 580.7,302.4 581.1,310.2 581.4,303.4 581.6,313.1 581.9,303.9 582.2,306.2 582.4,310.4 582.7,310.0 583.0,300.8 583.3,306.4 583.4,308.7 583.7,308.8 583.9,301.8 584.0,308.0 584.4,304.5 584.5,312.2 584.7,305.1 585.1,309.4 585.3,312.7 585.6,301.2 585.9,310.4 586.0,310.8 586.4,299.1 586.7,302.3 587.0,307.9 587.1,310.9 587.4,303.0 587.6,306.3 587.9,309.8 588.2,308.5 588.3,304.7 588.8,303.1 589.0,310.2 589.3,308.7 589.4,307.4 589.6,311.0 589.9,305.6 590.2,311.1 590.3,303.7 590.8,312.9 591.0,304.8 591.1,311.8 591.4,302.9 591.6,306.0 591.7,309.7 592.3,313.8 592.5,300.4 592.6,301.4 592.8,309.4 593.1,305.6 593.4,315.4 593.6,301.9 593.7,309.3 594.0,310.9 594.2,298.9 594.6,309.6 594.8,303.9 595.1,308.9 595.2,297.9 595.7,309.7 595.9,305.8 596.2,301.9 596.5,308.3 596.6,304.7 596.9,303.2 597.1,308.1 597.4,299.2 597.5,309.8 597.7,305.9 598.0,306.9 598.2,302.4 598.6,303.6 598.8,310.6 599.1,309.1 599.2,302.8 599.7,309.5 599.9,307.8 600.2,310.5 600.5,305.1 600.8,306.7 600.9,308.9 601.1,313.9 601.2,304.4 601.8,307.5 602.0,309.5 602.3,301.5 602.5,308.6 602.8,310.3 602.9,303.4 603.1,308.9 603.4,302.8 603.5,311.0 604.0,305.2 604.1,299.8 604.3,308.3 604.6,299.1 604.8,307.4 605.1,305.1 605.4,309.5 605.8,309.1 606.0,300.1 606.1,304.9 606.3,313.5 606.8,308.4 606.9,310.8 607.1,303.7 607.4,309.6 607.7,304.9 608.0,310.9 608.3,312.4 608.4,302.9 608.7,310.9 608.9,296.8 609.1,309.4 609.2,310.9 609.7,299.5 610.0,312.9 610.1,304.8 610.4,308.1 610.6,304.4 610.7,310.7 611.0,309.2 611.4,306.4 611.7,304.6 612.0,313.6 612.1,312.4 612.3,309.1 612.7,309.7 612.9,301.1 613.0,310.9 613.2,302.6 613.5,310.5 613.8,307.7 614.1,304.2 614.3,310.9 614.6,305.0 614.7,311.8 615.0,312.7 615.5,304.1 615.7,310.6 616.0,309.7 616.1,310.9 616.3,299.2 616.6,311.5 616.7,307.6 617.0,306.0 617.2,309.5 617.8,310.2 618.0,308.5 618.1,309.9 618.3,309.4 618.6,306.5 618.9,309.8 619.0,310.2 619.2,302.8 619.6,307.8 619.8,305.1 620.3,302.8 620.4,306.2 620.7,304.1 620.9,310.4 621.3,305.2 621.5,309.2 621.8,306.5 621.9,309.1 622.1,308.2 622.4,314.3 622.7,307.8 622.9,310.5 623.3,306.5 623.5,309.8 623.6,311.0 623.9,305.9 624.1,309.2 624.4,306.7 624.5,304.1 624.9,310.9 625.3,311.2 625.5,302.4 625.8,289.0 625.9,310.1 626.1,309.8 626.4,307.0 626.5,306.1 626.8,308.4 627.0,311.7 627.3,309.7 627.8,311.5 627.9,308.3 628.2,309.8 628.4,303.1 628.8,300.4 629.0,309.7 629.1,308.2 629.3,309.2 629.6,309.2 629.8,310.2 630.2,309.3 630.4,305.7 630.8,310.5 631.0,301.2 631.1,303.9 631.3,309.6 631.6,306.7 631.8,309.0 632.2,304.4 632.4,310.4 632.8,301.3 633.0,309.3 633.1,296.6 633.3,309.7 633.6,303.8 633.9,308.7 634.1,305.6 634.2,309.0 634.5,309.6 634.8,304.5 635.1,305.6 635.4,303.9 635.7,310.0 635.9,305.1 636.1,303.7 636.4,306.2 636.7,303.5 637.0,310.2 637.1,304.3 637.3,309.5 637.6,311.9 637.7,303.4 638.0,308.9 638.2,302.0 638.8,309.2 639.0,302.4 639.1,311.1 639.3,307.9 639.7,311.7 639.9,302.6 640.2,305.2 640.3,302.4 640.7,312.9 640.8,303.0 641.1,305.5 641.4,310.5 641.6,307.7 641.7,311.0 642.0,308.0 642.2,310.1 642.8,309.0 643.0,312.7 643.1,305.6 643.4,309.7 643.7,310.3 643.9,304.4 644.0,309.0 644.5,306.4 644.6,303.6 644.9,309.3 645.1,309.1 645.4,304.7 645.7,310.7 645.9,305.7 646.0,311.4 646.5,308.5 646.6,306.2 646.8,311.0 647.3,309.5 647.4,305.0 647.6,305.3 647.7,312.4 648.0,308.7 648.2,302.1 648.6,311.1 648.9,306.5 649.1,308.6 649.4,302.2 649.7,308.2 649.9,311.3 650.2,308.5 650.5,310.8 650.6,303.2 650.9,308.9 651.1,305.9 651.2,308.8 651.5,314.5 651.7,302.5 652.3,303.1 652.5,313.6 652.8,304.6 652.9,307.0 653.1,300.8 653.4,309.2 653.5,310.1 653.7,303.9 654.2,305.8 654.3,310.4 654.6,301.3 654.8,308.6 655.2,304.6 655.4,308.6 655.7,310.4 655.8,303.2 656.1,310.2 656.3,298.9 656.8,309.0 656.9,313.3 657.1,310.6 657.2,301.4 657.7,305.8 657.8,313.6 658.3,308.1 658.4,310.6 658.8,305.0 658.9,310.2 659.1,301.1 659.2,310.3 659.5,308.3 659.8,310.8 660.1,309.8 660.4,303.0 660.6,310.5 660.8,303.3 661.1,309.8 661.2,308.8 661.5,304.2 661.8,313.0 662.3,298.6 662.4,309.3 662.7,304.9 662.9,311.5 663.2,308.2 663.4,311.4 663.5,310.4 663.8,303.0 664.3,309.2 664.4,302.8 664.7,304.6 664.9,308.5 665.0,311.3 665.2,301.2 665.7,304.2 665.8,312.4 666.3,311.0 666.4,306.4 666.6,306.2 666.9,309.4 667.0,308.1 667.2,309.9 667.7,311.5 667.8,306.6 668.1,303.4 668.3,311.6 668.6,308.6 668.7,298.9 669.0,310.9 669.2,304.7 669.6,311.7 669.8,308.4 670.3,306.8 670.4,313.9 670.6,304.8 670.9,311.0 671.0,309.2 671.2,307.2 671.6,305.2 671.8,317.5 672.1,310.8 672.3,306.1 672.7,314.4 672.9,307.2 673.3,309.6 673.5,311.3 673.6,312.4 673.9,306.5 674.2,310.3 674.4,305.1 674.6,310.1 674.7,310.6 675.2,310.2 675.5,310.7 675.6,311.7 675.9,308.4 676.2,314.0 676.4,307.1 676.7,312.2 676.9,310.9 677.0,314.5 677.2,308.9 677.8,307.3 677.9,313.0 678.2,317.2 678.4,308.3 678.5,306.3 678.9,311.0 679.0,311.5 679.3,302.3 679.8,309.6 679.9,287.4 680.1,313.0 680.2,306.3 680.5,311.6 681.0,304.4 681.2,304.5 681.3,312.8 681.8,311.2 681.9,308.1 682.1,309.1 682.2,313.9 682.5,310.7 682.7,309.8 683.1,314.3 683.3,312.6 683.6,303.9 683.9,309.0 684.1,303.3 684.2,311.0 684.8,314.5 685.0,308.0 685.1,311.9 685.4,308.2 685.6,309.1 685.9,310.8 686.1,312.7 686.4,305.8 686.8,308.2 687.0,311.5 687.1,305.3 687.3,308.8 687.6,311.6 687.7,307.5 688.2,311.5 688.4,310.5 688.5,311.0 689.0,306.2 689.1,311.6 689.3,309.6 689.6,302.3 689.9,310.9 690.2,304.7 690.4,312.2 690.5,306.8 691.0,315.6 691.3,307.9 691.4,316.1 691.6,314.0 691.7,309.8 692.0,311.5 692.4,310.0 692.5,309.8 693.0,304.7 693.3,308.9 693.4,310.8 693.6,308.6 693.7,312.2 694.0,314.4 694.5,304.4 694.7,308.6 694.8,304.6 695.3,312.0 695.4,307.6 695.7,313.2 695.9,305.6 696.0,313.3 696.5,307.0 696.6,300.6 696.8,311.0 697.1,306.5 697.3,314.3 697.7,313.3 697.9,307.4 698.2,312.6 698.5,309.1 698.8,303.3 698.9,311.9 699.1,311.1 699.3,304.3 699.7,314.0 699.9,309.3 700.2,312.0 700.5,303.7 700.6,306.6 700.8,316.6 701.1,312.9 701.4,309.2 701.6,312.9 701.7,308.3 702.0,293.0 702.5,310.9 702.8,310.5 702.9,303.3 703.1,307.6 703.2,305.7 703.7,302.1 703.9,311.1 704.3,315.2 704.5,310.3 704.6,314.3 704.9,309.0 705.2,313.6 705.4,305.5 705.5,311.3 705.7,309.2 706.0,308.5 706.2,313.6 706.6,311.3 706.9,312.0 707.2,313.8 707.4,307.9 707.7,310.7 708.0,306.5 708.2,311.3 708.5,311.7 708.8,313.5 708.9,304.8 709.2,313.3 709.4,308.9 709.5,312.8 710.0,303.7 710.1,310.7 710.3,308.5 710.8,309.6 710.9,309.1 711.1,312.0 711.4,309.8 711.7,301.9 712.0,313.2 712.1,302.5 712.4,308.4 712.8,309.8 712.9,314.8 713.1,311.9 713.4,305.1 713.5,311.9 713.8,315.3 714.3,311.4 714.4,308.0 714.6,310.1 714.7,317.0 715.1,305.4 715.4,310.6 715.7,306.1 715.8,312.8 716.1,310.2 716.3,313.9 716.6,306.1 716.9,314.2 717.0,309.1 717.4,316.1 717.5,306.7 718.0,315.0 718.1,310.5 718.3,316.6 718.7,306.0 718.9,311.5 719.0,311.4 719.2,305.4 719.5,313.5 719.8,306.4 720.3,310.2 720.4,316.5 720.7,303.8 720.9,314.6 721.2,303.4 721.5,313.5 721.8,312.8 722.0,307.4 722.1,311.9 722.3,311.0 722.6,309.5 722.9,313.4 723.0,317.8 723.5,309.0 723.8,307.0 724.0,312.3 724.1,314.0 724.3,309.4 724.7,311.4 724.9,312.0 725.3,312.3 725.5,309.7 725.6,313.2 725.9,311.1 726.1,311.7 726.4,314.5 726.6,303.5 726.9,313.7 727.0,307.8 727.5,317.1 727.8,314.6 727.9,309.0 728.1,310.6 728.2,308.5 728.6,310.3 728.7,309.2 729.3,306.5 729.5,313.9 729.8,300.2 729.9,310.4 730.2,311.0 730.4,307.3 730.5,311.4 730.9,302.1 731.0,305.0 731.3,308.6 731.6,312.6 731.9,305.9 732.2,312.3 732.4,311.7 732.5,314.3 732.8,308.6 733.0,312.5 733.5,306.5 733.6,313.0 733.8,311.1 734.1,313.7 734.4,312.3 734.7,301.7 735.0,309.4 735.3,308.0 735.5,311.5 735.6,312.6 735.8,305.3 736.1,312.3 736.2,307.0 736.5,308.9 736.7,311.9 737.3,303.8 737.5,309.6 737.6,306.6 737.8,313.7 738.1,314.4 738.2,307.2 738.8,310.9 739.0,304.8 739.1,310.9 739.3,313.0 739.8,313.6 739.9,308.4 740.2,311.7 740.4,311.0 740.5,302.1 740.7,311.2 741.1,310.5 741.3,315.1 741.6,308.3 741.7,313.0 742.2,310.8 742.4,308.7 742.7,315.0 743.0,308.9 743.3,310.6 743.4,313.0 743.6,312.2 743.7,311.9 744.2,310.6 744.4,316.0 744.5,313.1 744.7,307.8 745.1,308.4 745.3,314.1 745.6,310.0 745.7,312.9 746.0,306.9 746.2,313.8 746.5,314.5 746.7,312.5 747.3,308.1 747.4,312.1 747.7,302.6 747.9,317.3 748.0,301.9 748.3,314.8 748.6,310.3 749.0,319.2 749.1,310.8 749.3,312.7 749.6,314.2 749.9,309.2 750.0,304.4 750.2,315.0 750.6,309.2 750.9,311.3 751.3,307.8 751.4,313.2 751.6,312.6 751.9,308.7 752.0,311.5 752.5,308.6 752.8,304.7 752.9,294.0 753.3,306.0 753.4,304.3 753.7,307.4 753.9,313.4 754.0,312.0 754.5,308.5 754.6,303.6 754.8,309.8 755.1,314.7 755.4,307.0 755.7,311.9 755.9,312.0 756.0,310.7 756.3,316.6 756.6,307.4 756.8,318.8 757.1,309.7 757.4,311.5 757.5,313.9 757.7,303.9 758.0,307.1 758.2,314.2 758.6,313.5 758.8,315.4 759.1,314.4 759.4,306.6 759.7,307.6 759.8,310.7 760.2,304.8 760.3,311.3 760.8,305.4 760.9,308.9 761.2,303.0 761.4,311.5 761.5,310.8 761.8,314.8 762.3,302.6 762.5,320.5 762.6,309.9 762.8,315.4 763.2,309.5 763.4,314.6 763.5,303.2 764.0,312.6 764.1,313.0 764.4,307.5 764.6,316.1 764.8,310.2 765.2,304.4 765.4,314.0 765.5,307.5 765.8,314.0 766.3,312.5 766.4,310.1 766.7,299.9 766.9,310.9 767.1,312.1 767.4,315.6 767.5,312.3 767.7,317.9 768.1,310.4 768.3,307.7 768.6,306.1 768.7,309.1 769.2,311.9 769.4,316.1 769.5,315.4 769.7,308.0 770.1,316.5 770.4,306.9 770.6,303.2 770.7,310.7 771.0,310.6 771.2,313.0 771.7,313.7 772.0,310.7 772.1,312.1 772.3,305.8 772.7,311.6 772.9,304.7 773.0,312.5 773.5,305.8 773.7,312.5 773.8,309.2 774.3,312.0 774.4,312.7 774.7,311.6 774.9,306.0 775.0,315.6 775.3,312.4 775.6,308.3 775.8,312.4 776.1,313.8 776.4,308.2 776.6,310.1 776.7,307.3 777.3,312.5 777.5,307.6 777.6,316.0 777.9,300.4 778.1,308.0 778.3,312.3 778.6,310.3 778.9,312.4 779.3,315.9 779.5,308.9 779.8,305.0 779.9,314.2 780.2,305.4 780.4,306.3 780.6,314.2 780.9,309.6 781.3,312.5 781.5,303.5 781.6,306.9 781.8,314.7 782.1,306.3 782.4,314.9 782.5,313.6 782.9,308.7 783.3,314.1 783.5,306.9 783.6,308.2 783.8,312.2 784.2,313.3 784.4,310.1 784.5,312.1 784.7,311.4 785.2,305.8 785.5,316.8 785.8,313.0 785.9,306.8 786.2,311.3 786.4,312.4 786.5,308.2 787.0,314.6 787.2,308.6 787.3,311.2 787.6,301.5 787.9,311.1 788.1,312.6 788.4,305.3 788.7,313.2 788.8,309.8 789.1,304.0 789.5,312.9 789.6,311.7 789.8,314.3 790.2,314.5 790.4,310.1 790.5,314.2 791.0,310.0 791.1,303.5 791.4,308.3 791.6,312.8 791.8,311.1 792.1,314.4 792.4,312.6 792.7,313.5 792.8,304.3 793.1,310.2 793.3,306.2 793.6,309.9 793.9,313.5 794.1,311.7 794.4,313.4 794.5,313.1 795.0,304.4 795.3,314.0 795.4,310.9 795.6,311.6 795.9,307.8 796.0,311.3 796.4,303.8 796.7,305.6 797.0,315.1 797.1,313.6 797.3,315.4 797.6,313.1 797.9,307.6 798.2,314.5 798.3,305.3 798.7,313.8 799.0,310.2 799.3,309.6 799.4,311.8 799.6,315.1 799.7,310.8 800.2,318.1 800.3,309.7 800.8,312.1 801.0,307.3 801.3,310.0 801.4,312.8 801.7,309.7 801.9,312.1 802.2,314.4 802.3,311.5 802.8,312.4 803.0,249.8 803.1,309.2 803.3,316.1 803.6,309.8 803.7,315.3 804.0,310.0 804.3,316.6 804.8,312.4 804.9,313.9 805.1,304.4 805.3,314.5 805.6,303.3 805.7,315.7 806.2,311.0 806.3,313.3 806.6,311.6 806.9,293.6 807.2,305.7 807.4,313.3 807.6,310.1 807.9,312.8 808.3,301.9 808.5,314.1 808.6,310.9 808.9,309.7 809.1,313.3 809.4,306.1 809.7,312.3 809.9,305.3 810.2,307.6 810.5,313.9 810.6,311.5 810.9,312.9 811.2,307.4 811.4,302.9 811.5,315.2 811.7,307.8 812.0,310.4 812.3,314.4 812.8,307.7 812.9,311.1 813.1,306.1 813.2,314.0 813.5,312.2 813.8,315.6 814.1,310.8 814.3,315.4 814.8,315.9 814.9,309.4 815.1,308.8 815.4,311.0 815.8,313.5 816.0,305.0 816.3,311.2 816.5,305.7 816.6,319.3 816.8,307.2 817.2,314.6 817.4,310.9 817.5,309.7 817.7,315.8 818.1,311.5 818.4,314.2 818.6,308.1 818.9,315.2 819.1,308.8 819.2,311.2 819.7,304.1 819.8,311.5 820.1,314.8 820.4,308.5 820.6,309.1 820.7,311.4 821.1,310.7 821.2,307.1 821.7,306.7 822.0,318.1 822.1,307.5 822.4,316.6 822.6,309.0 822.9,315.5 823.2,312.1 823.4,316.9 823.7,312.3 824.0,310.3 824.3,306.5 824.4,314.9 824.6,309.5 824.7,311.4 825.2,312.3 825.3,316.1 825.8,307.8 826.0,314.3 826.3,312.8 826.4,306.8 826.7,313.3 826.9,309.9 827.3,306.9 827.5,312.4 827.6,312.6 827.8,314.9 828.3,312.8 828.4,308.0 828.6,315.1 828.9,311.0 829.2,310.0 829.5,315.5 829.8,318.3 830.0,311.5 830.1,311.6 830.3,306.0 830.7,312.6 830.9,313.3 831.3,310.4 831.5,319.3 831.8,314.0 831.9,316.9 832.1,314.7 832.3,307.7 832.7,310.9 832.9,313.2 833.2,314.7 833.3,310.4 833.8,314.6 833.9,309.1 834.1,310.9 834.4,315.0 834.6,303.1 834.7,312.7 835.2,310.0 835.3,313.2 835.8,314.5 835.9,310.1 836.1,311.8 836.2,314.7 836.7,308.5 836.9,312.4 837.2,315.2 837.5,309.1 837.6,315.6 837.9,312.5 838.2,319.6 838.4,310.4 838.5,312.4 838.7,315.6 839.0,302.3 839.2,312.3 839.8,314.2 839.9,308.0 840.1,306.1 840.2,314.5 840.5,303.9 840.8,313.1 841.3,309.1 841.5,315.9 841.6,309.7 841.9,306.1 842.1,314.3 842.2,311.2 842.5,314.1 843.0,308.2 843.1,308.0 843.4,312.7 843.8,306.4 843.9,314.9 844.1,313.7 844.2,307.5 844.8,319.0 845.0,304.0 845.1,309.3 845.3,312.7 845.6,317.6 845.8,313.3 846.1,313.1 846.2,303.6 846.8,318.3 847.0,307.7 847.1,312.6 847.3,313.1 847.7,313.9 847.9,313.1 848.1,311.7 848.2,309.2 848.5,313.1 848.7,306.7 849.1,311.2 849.3,312.9 849.6,312.5 849.7,311.8 850.2,316.9 850.4,308.7 850.7,310.6 851.0,317.6 851.1,305.7 851.3,315.0 851.7,307.5 851.9,317.2 852.0,314.4 852.2,311.4" stroke="#f6b26b"/>
<path d="M85.8,289.4 86.0,295.0 86.1,289.6 86.4,291.5 86.7,293.5 86.9,285.7 87.3,293.4 87.5,286.8 87.6,289.0 88.0,293.8 88.1,290.9 88.4,286.3 88.6,294.4 88.9,288.2 89.2,292.1 89.5,293.6 89.8,292.3 89.9,287.8 90.3,286.9 90.4,292.0 90.6,292.0 90.9,289.8 91.0,291.4 91.5,273.0 91.8,291.6 91.9,293.6 92.1,293.0 92.2,290.6 92.6,287.0 92.9,294.2 93.3,295.5 93.5,288.0 93.6,293.9 93.8,284.0 94.1,288.1 94.4,294.7 94.6,288.3 94.9,294.3 95.2,286.7 95.5,290.6 95.6,292.9 95.8,287.1 96.2,294.5 96.4,290.5 96.7,288.2 96.9,294.3 97.0,295.8 97.2,286.7 97.8,292.2 97.9,288.0 98.2,287.9 98.4,293.7 98.5,289.1 99.0,292.9 99.3,282.1 99.5,298.8 99.6,295.1 99.9,292.7 100.1,290.8 100.2,282.9 100.5,289.2 100.8,294.2 101.1,294.4 101.5,281.2 101.6,296.5 101.8,291.6 102.2,294.8 102.4,291.0 102.8,291.9 103.0,287.1 103.1,292.8 103.3,290.2 103.8,291.9 103.9,284.3 104.1,291.7 104.2,293.4 104.5,285.7 104.8,293.8 105.3,293.1 105.4,290.1 105.7,286.7 105.9,291.3 106.1,290.2 106.4,287.0 106.8,283.9 107.0,295.4 107.3,287.0 107.4,295.5 107.7,295.9 107.9,291.1 108.0,285.0 108.2,290.0 108.7,290.6 108.8,286.1 109.3,293.9 109.4,283.2 109.6,297.8 109.7,286.7 110.0,290.9 110.2,294.2 110.5,296.6 110.8,293.0 111.1,286.9 111.3,292.0 111.7,288.6 111.9,293.4 112.0,289.6 112.3,293.8 112.7,294.6 112.8,289.8 113.3,292.3 113.4,289.4 113.6,291.5 113.9,287.1 114.2,288.8 114.5,283.8 114.6,293.6 114.8,295.3 115.1,293.7 115.3,289.0 115.6,289.0 115.9,283.5 116.0,287.5 116.2,297.9 116.8,290.6 116.9,295.0 117.3,285.4 117.4,293.9 117.6,292.9 117.7,288.3 118.3,294.4 118.5,289.6 118.8,292.8 118.9,288.2 119.1,285.9 119.4,296.6 119.6,297.0 119.9,284.4 120.3,289.3 120.5,298.4 120.6,295.4 120.8,282.2 121.1,289.2 121.4,296.6 121.5,291.3 121.9,287.5 122.0,292.8 122.3,286.2 122.8,288.6 122.9,274.0 123.1,293.4 123.4,287.9 123.5,292.1 123.7,286.2 124.2,289.1 124.5,286.6 124.6,285.5 124.8,297.9 125.1,291.6 125.2,288.9 125.5,287.5 125.7,293.4 126.3,294.9 126.5,286.9 126.8,287.2 126.9,292.6 127.1,291.4 127.4,287.3 127.7,295.5 127.8,290.1 128.1,289.1 128.3,293.1 128.6,291.5 128.8,294.5 129.1,289.8 129.4,291.0 129.5,292.9 130.0,287.1 130.1,297.4 130.3,286.0 130.6,289.2 130.9,292.5 131.1,287.9 131.4,291.4 131.5,281.0 132.0,295.0 132.3,293.9 132.4,286.5 132.7,289.6 132.9,287.8 133.1,293.6 133.4,286.8 133.8,296.8 134.0,287.0 134.1,287.9 134.3,292.9 134.6,291.5 134.7,294.8 135.0,286.6 135.2,293.2 135.7,292.5 135.8,286.5 136.3,290.4 136.4,294.5 136.6,293.9 136.7,292.6 137.0,292.4 137.2,283.8 137.5,285.9 137.7,296.2 138.1,286.9 138.4,292.2 138.6,287.4 138.9,296.5 139.3,291.7 139.5,286.5 139.8,295.6 140.0,286.7 140.3,286.1 140.4,293.2 140.7,286.3 140.9,289.3 141.2,296.9 141.3,281.4 141.6,289.9 142.0,292.8 142.1,293.8 142.4,287.4 142.7,288.0 142.9,288.5 143.3,290.4 143.5,286.9 143.8,290.8 143.9,288.6 144.3,286.2 144.4,292.5 144.6,289.8 144.9,295.9 145.0,284.2 145.3,294.9 145.8,286.3 145.9,293.9 146.2,293.4 146.4,291.2 146.6,291.5 146.9,296.5 147.2,293.3 147.3,287.4 147.8,295.0 147.9,292.6 148.2,288.3 148.4,299.8 148.5,288.4 148.9,291.0 149.0,291.2 149.5,286.9 149.8,292.7 149.9,278.3 150.1,291.6 150.4,290.3 150.5,289.0 150.8,295.4 151.0,291.9 151.3,286.3 151.6,288.7 151.8,284.8 152.1,287.2 152.2,292.8 152.5,289.0 152.7,292.4 153.3,287.9 153.5,292.0 153.8,293.8 153.9,289.5 154.1,289.7 154.2,294.2 154.7,296.1 154.8,286.1 155.3,295.9 155.5,287.9 155.8,291.0 155.9,294.5 156.2,291.7 156.4,293.7 156.5,296.5 157.0,284.0 157.1,296.1 157.3,283.4 157.6,284.3 157.9,291.8 158.1,294.4 158.4,285.2 158.8,287.9 159.0,295.0 159.3,292.3 159.4,286.8 159.6,290.6 159.7,295.1 160.2,292.9 160.4,286.5 160.5,296.7 161.0,287.1 161.3,291.9 161.4,287.2 161.7,293.5 161.9,291.2 162.0,292.6 162.2,288.2 162.5,294.7 163.0,289.2 163.1,289.5 163.3,286.5 163.7,288.1 163.9,294.1 164.0,290.9 164.2,288.4 164.5,291.2 164.7,289.4 165.1,284.2 165.3,292.4 165.7,287.4 165.9,292.5 166.0,286.7 166.5,292.1 166.8,298.6 167.0,289.6 167.1,291.3 167.4,287.0 167.6,296.2 167.9,289.2 168.2,294.0 168.5,284.8 168.8,294.9 168.9,287.7 169.3,293.7 169.4,291.6 169.6,290.8 169.9,288.1 170.0,294.7 170.5,288.3 170.6,292.5 170.9,288.7 171.1,287.3 171.3,284.3 171.6,290.2 171.7,293.4 172.0,300.4 172.3,286.6 172.8,288.2 172.9,293.6 173.1,292.5 173.4,291.8 173.6,297.9 173.7,289.6 174.2,292.3 174.5,286.7 174.6,290.9 174.8,289.3 175.1,288.2 175.4,292.5 175.7,288.5 175.9,291.2 176.0,289.7 176.2,291.5 176.6,294.1 176.8,291.6 177.1,290.9 177.2,293.7 177.7,294.5 177.8,291.0 178.2,294.5 178.3,289.4 178.8,299.0 178.9,292.8 179.1,300.0 179.4,285.0 179.8,288.4 180.0,294.2 180.1,287.3 180.3,294.0 180.6,293.0 180.8,290.1 181.2,293.9 181.4,288.7 181.7,295.6 181.8,288.4 182.1,288.8 182.3,295.3 182.6,294.0 182.9,290.8 183.1,289.1 183.2,296.9 183.7,292.1 183.8,286.5 184.3,291.1 184.4,284.1 184.7,294.9 184.9,290.5 185.1,298.7 185.2,291.3 185.5,291.5 185.8,288.5 186.1,292.8 186.3,283.3 186.6,296.4 186.7,288.6 187.1,287.6 187.4,290.3 187.5,291.9 188.0,285.9 188.3,292.0 188.4,285.9 188.6,291.0 188.7,298.0 189.0,292.6 189.2,294.2 189.5,287.5 189.8,293.1 190.1,287.9 190.4,293.8 190.6,293.6 190.7,289.8 191.0,286.1 191.3,294.6 191.8,288.5 192.0,293.7 192.3,293.3 192.4,289.5 192.7,290.9 192.9,294.9 193.0,290.1 193.2,292.9 193.6,292.7 193.8,286.7 194.1,287.2 194.4,292.8 194.7,290.0 194.9,295.0 195.0,288.7 195.2,291.9 195.8,286.3 195.9,291.8 196.1,291.1 196.3,298.5 196.7,295.1 196.9,288.8 197.0,293.9 197.3,287.5 197.8,284.9 197.9,293.2 198.2,294.0 198.4,291.4 198.6,289.6 198.9,281.9 199.0,290.9 199.2,295.2 199.6,294.3 199.9,289.6 200.2,283.0 200.4,293.0 200.6,290.2 200.9,297.6 201.0,292.9 201.3,291.0 201.6,295.5 201.9,290.3 202.1,290.7 202.4,286.1 202.5,292.9 202.9,287.8 203.3,294.3 203.5,285.5 203.6,292.1 203.9,287.5 204.1,294.2 204.4,286.8 204.5,296.6 204.7,290.4 205.3,288.9 205.5,290.5 205.6,292.5 205.9,288.0 206.1,288.1 206.4,293.4 206.7,286.3 206.8,293.1 207.1,283.9 207.3,295.5 207.6,284.8 207.9,293.2 208.1,294.3 208.2,290.4 208.7,282.5 208.8,290.2 209.1,288.8 209.3,291.3 209.6,287.8 209.9,296.2 210.2,292.8 210.4,285.5 210.5,294.8 210.8,270.0 211.3,289.5 211.4,293.3 211.7,288.6 211.9,295.1 212.2,290.6 212.4,292.7 212.7,295.8 212.8,287.4 213.3,293.1 213.4,286.6 213.6,262.5 213.7,292.5 214.0,293.1 214.4,287.6 214.5,291.1 215.0,293.9 215.3,294.6 215.4,291.0 215.6,291.0 215.9,286.4 216.2,292.7 216.4,290.9 216.5,293.3 217.0,285.7 217.1,289.4 217.4,291.9 217.7,290.6 217.9,289.7 218.0,292.8 218.3,288.9 218.8,289.0 219.0,289.9 219.1,296.1 219.4,283.4 219.7,290.1 219.9,293.9 220.0,296.2 220.2,287.7 220.8,291.7 221.0,265.8 221.3,290.8 221.4,289.0 221.6,295.7 221.7,289.4 222.0,294.2 222.5,291.3 222.8,293.4 222.9,289.9 223.1,298.5 223.3,288.6 223.7,289.9 223.9,291.8 224.2,294.3 224.5,287.1 224.8,292.1 224.9,287.7 225.2,293.6 225.4,286.3 225.6,290.2 225.7,288.3 226.0,285.7 226.2,291.5 226.6,298.0 226.9,291.0 227.2,295.4 227.4,288.2 227.5,288.9 227.9,291.6 228.0,292.8 228.3,287.5 228.8,295.4 228.9,290.5 229.1,285.5 229.2,294.3 229.7,289.6 229.8,284.0 230.0,289.6 230.2,294.1 230.6,293.2 230.9,289.4 231.1,286.6 231.2,290.1 231.5,290.8 232.0,295.5 232.2,284.7 232.3,289.1 232.8,287.5 232.9,294.8 233.1,290.5 233.4,287.1 233.7,293.1 234.0,284.3 234.3,297.2 234.5,291.4 234.6,291.7 234.8,289.3 235.1,291.3 235.2,294.7 235.5,292.2 235.8,285.1 236.1,285.0 236.4,292.6 236.8,293.6 236.9,292.4 237.2,292.5 237.4,284.4 237.7,286.1 237.8,290.7 238.1,288.3 238.3,291.1 238.7,292.0 238.9,297.9 239.1,289.6 239.4,294.3 239.5,287.1 239.7,298.0 240.1,291.0 240.4,290.6 240.6,283.5 240.9,295.5 241.0,292.6 241.2,285.9 241.7,292.0 242.0,286.2 242.3,283.8 242.4,292.4 242.7,292.3 242.9,287.8 243.2,283.4 243.3,294.1 243.5,290.6 243.8,295.1 244.1,292.8 244.3,286.8 244.6,287.4 244.9,294.8 245.0,121.8 245.3,294.6 245.6,294.1 246.0,292.9 246.1,297.4 246.3,293.6 246.6,295.3 246.7,303.3 247.0,298.8 247.3,291.4 247.8,291.6 248.0,296.2 248.3,290.0 248.4,304.7 248.7,292.8 248.9,300.8 249.2,301.3 249.3,291.9 249.6,302.1 249.9,295.2 250.1,301.4 250.4,296.2 250.6,295.0 250.7,273.0 251.0,303.8 251.5,298.7 251.8,295.2 251.9,303.4 252.1,288.2 252.4,297.4 252.6,302.2 252.7,291.4 253.3,289.5 253.5,302.5 253.6,302.4 253.8,293.4 254.1,298.6 254.4,294.5 254.7,301.2 254.9,291.5 255.0,298.9 255.2,293.2 255.6,292.8 255.9,296.5 256.2,301.9 256.4,286.9 256.5,294.0 256.8,297.5 257.3,297.6 257.5,291.2 257.6,292.4 257.9,297.1 258.2,292.3 258.4,296.1 258.7,290.6 258.8,300.5 259.3,294.9 259.5,291.9 259.6,291.0 259.8,292.1 260.1,291.7 260.2,298.2 260.5,270.8 260.7,297.9 261.3,296.5 261.4,287.3 261.8,291.4 261.9,296.9 262.1,296.3 262.2,290.9 262.8,293.8 263.0,288.8 263.3,297.3 263.4,295.3 263.6,296.7 263.9,291.9 264.1,299.3 264.4,295.8 264.5,286.3 265.0,301.2 265.1,295.0 265.3,305.6 265.6,296.5 265.7,292.5 266.1,296.1 266.4,289.6 266.5,297.9 266.8,290.4 267.3,293.7 267.4,288.9 267.6,293.9 267.9,299.1 268.0,293.6 268.4,299.2 268.8,299.4 269.0,291.3 269.3,297.1 269.4,299.0 269.6,299.9 269.7,293.7 270.2,294.0 270.3,296.7 270.5,294.5 270.8,284.8 271.1,295.0 271.3,288.4 271.6,293.8 271.9,299.5 272.2,292.6 272.5,298.3 272.6,296.4 273.0,279.0 273.3,295.1 273.4,289.6 273.6,297.1 273.7,291.1 274.0,294.4 274.5,301.0 274.6,287.3 274.9,292.9 275.1,298.7 275.4,289.8 275.7,301.9 275.9,276.0 276.2,288.8 276.3,296.9 276.6,294.2 276.9,289.8 277.2,295.3 277.4,294.2 277.7,295.0 277.9,296.9 278.2,301.0 278.3,275.8 278.6,292.2 278.9,296.5 279.1,289.2 279.4,300.1 279.7,294.1 279.9,292.8 280.3,289.3 280.5,296.7 280.8,277.0 280.9,296.9 281.2,298.0 281.4,295.1 281.5,293.8 281.9,295.0 282.2,286.1 282.3,298.2 282.8,299.8 282.9,288.8 283.1,297.0 283.2,289.4 283.7,296.1 283.8,289.6 284.2,297.2 284.5,292.7 284.8,295.2 284.9,285.9 285.1,281.0 285.2,297.6 285.8,286.5 286.0,295.9 286.3,301.6 286.5,286.3 286.6,295.0 286.8,290.7 287.1,290.1 287.4,292.6 287.7,288.2 287.8,299.8 288.3,292.7 288.4,300.6 288.6,301.5 288.8,286.2 289.1,289.0 289.2,296.1 289.5,296.1 289.8,290.4 290.3,295.6 290.4,288.3 290.6,300.6 290.9,294.4 291.1,297.2 291.2,301.6 291.5,296.5 292.0,280.0 292.3,297.0 292.4,285.9 292.7,301.0 292.9,292.1 293.2,297.1 293.4,297.9 293.8,301.4 294.0,287.4 294.1,292.0 294.3,297.8 294.6,286.2 294.7,297.5 295.0,284.5 295.4,293.7 295.5,290.6 296.0,299.4 296.1,298.3 296.4,292.1 296.6,291.1 296.7,302.6 297.2,297.9 297.5,292.5 297.8,301.0 298.0,287.9 298.1,292.4 298.4,294.2 298.6,285.1 298.9,296.7 299.2,291.7 299.5,296.4 299.6,292.8 299.8,302.2 300.3,294.6 300.4,285.8 300.7,299.2 300.9,292.3 301.0,300.6 301.3,292.0 301.6,298.0 301.9,291.1 302.3,293.9 302.4,283.2 302.6,301.7 302.7,293.4 303.0,285.8 303.5,297.4 303.8,297.6 303.9,292.1 304.1,292.8 304.2,296.1 304.6,288.2 304.9,294.3 305.0,297.3 305.2,287.8 305.6,298.8 305.8,290.9 306.2,297.9 306.4,292.4 306.5,292.5 306.7,298.9 307.2,289.7 307.5,297.4 307.6,290.1 307.8,299.4 308.1,284.9 308.4,296.7 308.5,300.6 308.9,292.7 309.3,299.5 309.5,291.9 309.6,300.2 309.9,293.3 310.1,296.4 310.2,288.2 310.8,295.1 311.0,290.1 311.2,299.3 311.5,294.7 311.6,296.2 311.8,285.4 312.1,292.0 312.4,296.1 312.5,299.2 312.8,289.1 313.1,290.1 313.5,301.5 313.6,299.0 313.8,292.7 314.1,276.0 314.2,296.8 314.5,282.9 314.8,300.3 315.1,304.8 315.3,286.2 315.8,293.5 315.9,299.9 316.1,301.3 316.4,288.4 316.7,292.4 316.8,298.1 317.3,295.7 317.4,300.8 317.6,293.9 317.7,288.3 318.1,290.3 318.2,301.1 318.5,289.1 319.0,291.7 319.1,298.7 319.4,296.4 319.6,291.3 319.7,298.3 320.2,295.4 320.4,302.7 320.5,288.6 321.0,301.6 321.1,299.3 321.4,289.5 321.6,297.5 321.7,291.5 322.2,295.7 322.3,299.5 322.7,300.1 323.0,290.8 323.3,297.4 323.4,296.6 323.6,293.2 323.9,294.0 324.2,296.4 324.3,293.4 324.7,299.4 325.0,293.7 325.3,291.9 325.4,302.8 325.6,298.7 325.7,290.7 326.2,298.0 326.3,292.3 326.8,298.4 327.0,287.6 327.1,295.7 327.3,300.0 327.6,155.6 327.7,299.2 328.0,291.5 328.5,301.6 328.6,291.2 328.8,302.3 329.1,301.2 329.4,296.1 329.6,290.9 329.9,298.5 330.0,299.4 330.2,292.7 330.6,292.5 330.9,264.0 331.1,300.8 331.4,295.1 331.6,300.5 331.9,285.9 332.3,298.6 332.5,289.4 332.8,297.4 332.9,286.4 333.1,299.9 333.2,294.4 333.7,292.5 333.9,297.7 334.0,297.8 334.3,293.1 334.8,295.1 334.9,296.6 335.2,283.9 335.4,302.7 335.5,297.7 335.7,300.5 336.0,290.7 336.3,296.3 336.6,293.7 336.8,297.7 337.1,299.1 337.4,290.6 337.5,294.4 338.0,287.8 338.1,296.3 338.3,293.9 338.6,298.1 338.8,294.7 339.2,298.8 339.4,293.7 339.5,277.4 339.8,297.9 340.1,296.2 340.3,293.2 340.6,298.7 340.8,294.5 341.2,299.4 341.4,295.8 341.5,291.6 342.0,294.1 342.3,292.6 342.4,295.0 342.8,294.6 342.9,297.0 343.2,288.9 343.4,299.1 343.5,292.8 343.7,302.2 344.1,293.2 344.3,300.8 344.6,292.6 344.9,299.2 345.1,293.4 345.4,296.5 345.7,296.5 346.0,293.9 346.1,293.5 346.3,290.0 346.6,290.8 346.7,296.7 347.0,293.8 347.2,295.8 347.7,283.0 348.0,298.9 348.3,296.2 348.4,291.5 348.6,298.4 348.7,292.2 349.0,291.5 349.2,295.7 349.7,297.8 350.0,291.2 350.1,299.1 350.4,296.7 350.6,301.7 350.7,291.4 351.2,288.4 351.5,299.9 351.8,295.6 352.0,294.4 352.1,299.7 352.3,294.8 352.6,289.6 352.9,296.9 353.2,292.2 353.3,296.7 353.6,296.2 353.9,293.0 354.3,301.3 354.4,295.4 354.6,292.9 354.7,290.5 355.2,289.8 355.3,293.9 355.6,299.3 355.9,275.8 356.3,296.2 356.4,293.7 356.6,293.9 356.9,296.9 357.0,301.2 357.5,291.3 357.6,298.1 357.9,288.4 358.2,298.3 358.4,289.1 358.6,288.6 358.7,300.0 359.2,296.5 359.3,288.2 359.6,290.2 359.9,299.1 360.1,300.5 360.4,290.7 360.5,297.0 360.7,294.0 361.0,298.4 361.5,295.3 361.6,291.3 361.8,302.6 362.1,302.7 362.2,292.5 362.7,296.4 362.8,298.4 363.0,298.8 363.5,288.8 363.6,294.8 363.9,298.1 364.2,289.1 364.4,297.5 364.5,295.8 365.0,299.1 365.1,297.5 365.3,297.2 365.6,296.5 365.9,297.1 366.1,296.7 366.2,295.5 366.7,296.6 367.0,290.0 367.1,292.9 367.3,289.2 367.8,300.6 367.9,291.4 368.1,289.3 368.4,298.4 368.7,294.8 369.0,299.1 369.1,294.2 369.3,297.5 369.6,292.5 369.8,298.1 370.2,291.9 370.4,297.1 370.5,293.6 371.0,296.1 371.3,288.8 371.4,295.8 371.6,286.5 371.9,294.5 372.1,296.9 372.2,298.1 372.5,293.9 372.7,303.7 373.1,288.1 373.4,300.7 373.6,300.8 373.7,287.7 374.0,289.5 374.2,302.2 374.5,295.5 375.0,298.8 375.1,291.7 375.4,298.0 375.6,297.8 375.9,302.6 376.0,299.1 376.5,288.7 376.8,293.9 377.0,295.3 377.1,291.0 377.4,299.3 377.6,302.1 377.7,297.7 378.2,290.1 378.5,301.1 378.8,295.9 379.0,299.1 379.3,296.7 379.4,298.9 379.7,290.1 379.9,298.7 380.3,291.6 380.5,295.1 380.8,293.6 380.9,298.4 381.3,299.9 381.4,291.4 381.7,291.8 381.9,301.7 382.2,288.4 382.5,297.4 382.6,291.7 382.8,299.8 383.2,290.2 383.4,300.1 383.7,291.1 383.9,295.4 384.0,304.0 384.2,291.1 384.6,301.5 384.9,296.8 385.2,300.1 385.4,297.6 385.6,292.0 385.7,300.7 386.2,290.2 386.3,298.9 386.6,296.5 386.8,294.0 387.1,296.4 387.4,294.0 387.5,289.6 387.9,295.5 388.2,288.3 388.5,299.5 388.8,294.4 388.9,299.1 389.2,287.0 389.4,296.9 389.5,293.0 389.7,297.3 390.2,289.7 390.5,300.5 390.6,297.7 390.8,293.6 391.1,291.2 391.2,296.5 391.5,300.3 392.0,290.7 392.1,292.5 392.5,300.6 392.6,297.5 392.8,291.9 393.1,287.5 393.4,301.4 393.7,299.1 393.8,294.1 394.1,301.6 394.4,295.7 394.8,300.3 394.9,290.9 395.1,295.4 395.4,296.9 395.5,292.9 396.0,300.9 396.1,298.1 396.4,292.5 396.6,294.4 396.9,299.8 397.2,302.5 397.4,296.0 397.7,297.2 398.0,290.6 398.1,297.1 398.3,301.9 398.7,300.0 398.9,293.7 399.0,290.5 399.4,299.3 399.5,298.4 400.0,294.2 400.1,293.3 400.4,296.6 400.7,290.4 400.9,295.3 401.2,293.2 401.4,298.0 401.7,296.8 401.8,295.1 402.3,293.0 402.4,297.6 402.6,291.0 402.9,301.0 403.2,292.4 403.5,298.9 403.7,299.6 403.8,286.5 404.1,287.8 404.3,298.3 404.6,290.8 404.7,296.0 405.0,292.6 405.5,297.7 405.8,296.7 406.0,292.3 406.3,293.8 406.4,298.4 406.6,301.9 406.7,290.9 407.3,299.6 407.5,297.3 407.6,290.3 407.9,298.7 408.3,300.8 408.4,292.6 408.7,308.1 408.9,295.5 409.0,291.6 409.5,301.9 409.6,290.7 409.9,301.3 410.1,294.3 410.2,296.4 410.7,293.7 410.9,296.2 411.0,299.1 411.5,293.3 411.6,301.3 411.8,301.8 412.1,294.4 412.4,297.5 412.5,296.3 412.7,294.1 413.2,293.9 413.5,299.7 413.8,294.3 413.9,292.4 414.2,302.2 414.4,290.9 414.7,292.7 414.8,298.3 415.0,292.6 415.3,301.2 415.8,297.3 415.9,295.0 416.1,297.3 416.2,302.6 416.5,302.2 417.0,292.8 417.2,291.9 417.3,302.2 417.6,289.4 417.9,299.0 418.2,296.0 418.4,299.4 418.7,295.7 418.8,288.3 419.1,292.4 419.3,298.4 419.6,292.8 419.8,295.8 420.1,293.7 420.4,297.5 420.5,290.2 421.0,301.2 421.1,292.6 421.4,296.7 421.8,304.5 421.9,293.8 422.1,293.8 422.4,297.0 422.7,292.8 423.0,304.7 423.1,301.3 423.3,294.8 423.7,295.3 423.9,298.7 424.2,287.4 424.4,297.6 424.5,293.0 425.0,301.6 425.1,297.7 425.4,292.1 425.6,293.7 425.9,300.9 426.0,300.7 426.2,288.3 426.7,293.2 427.0,297.8 427.1,294.7 427.4,296.7 427.7,300.0 427.9,287.2 428.2,295.7 428.3,301.9 428.7,299.7 429.0,294.4 429.3,294.5 429.4,297.6 429.7,289.7 429.9,297.9 430.0,292.0 430.3,297.9 430.6,298.6 431.0,293.7 431.1,299.3 431.3,295.4 431.6,297.9 431.7,289.2 432.0,298.1 432.3,295.0 432.8,297.8 433.0,290.3 433.1,296.8 433.3,295.2 433.6,292.6 433.9,300.7 434.0,290.9 434.2,300.5 434.6,299.6 434.8,291.7 435.3,297.0 435.4,303.1 435.7,299.0 435.9,292.2 436.0,302.7 436.3,291.2 436.6,296.7 436.9,293.5 437.1,298.4 437.2,294.9 437.6,297.8 437.7,296.0 438.2,298.5 438.3,294.5 438.6,300.0 438.8,292.1 439.2,296.8 439.4,294.6 439.5,294.8 439.7,301.6 440.2,293.3 440.5,300.4 440.6,272.6 440.9,297.2 441.1,295.2 441.4,301.6 441.5,301.2 441.7,300.0 442.3,300.5 442.5,288.7 442.6,295.0 442.9,301.1 443.1,296.7 443.2,301.0 443.8,298.7 444.0,305.3 444.1,300.2 444.3,296.7 444.6,302.9 444.9,294.9 445.1,298.4 445.2,296.0 445.5,272.8 446.0,303.5 446.1,301.3 446.5,294.3 446.8,302.8 446.9,299.2 447.1,292.5 447.4,298.9 447.7,295.7 447.8,302.6 448.1,299.3 448.3,295.6 448.8,303.0 448.9,298.8 449.2,300.2 449.4,291.5 449.7,299.4 450.0,293.3 450.3,299.3 450.4,298.3 450.6,295.7 450.7,300.9 451.1,303.0 451.4,298.1 451.5,297.7 452.0,299.4 452.1,295.3 452.3,301.2 452.7,293.7 452.9,299.4 453.2,292.8 453.4,301.4 453.5,303.2 454.0,296.4 454.1,300.5 454.3,291.5 454.6,302.5 454.9,294.9 455.0,302.1 455.3,296.3 455.7,299.8 456.0,290.7 456.3,295.2 456.4,299.1 456.6,304.3 456.9,294.3 457.0,292.4 457.3,299.6 457.6,301.1 458.0,299.8 458.1,304.0 458.3,298.3 458.6,297.5 458.9,294.7 459.3,291.7 459.5,299.9 459.8,299.1 459.9,296.0 460.3,294.6 460.4,300.2 460.6,298.6 460.7,297.9 461.2,293.9 461.3,300.5 461.6,296.1 461.9,291.5 462.3,302.2 462.4,300.1 462.6,298.4 462.7,295.5 463.0,298.2 463.3,299.1 463.6,294.5 463.9,300.5 464.1,301.9 464.2,294.8 464.6,294.5 464.9,300.1 465.2,303.4 465.5,292.2 465.8,302.8 465.9,293.9 466.2,292.7 466.4,299.0 466.5,301.8 466.9,298.5 467.0,304.9 467.2,295.9 467.6,291.1 467.9,297.9 468.2,305.3 468.4,297.0 468.5,276.0 468.8,298.0 469.0,301.7 469.3,297.0 469.8,297.6 469.9,298.6 470.1,299.7 470.2,297.0 470.5,292.8 470.7,301.4 471.1,301.7 471.5,297.7 471.6,297.1 471.9,291.5 472.2,298.4 472.4,294.5 472.5,300.0 473.0,291.9 473.1,299.3 473.4,292.5 473.6,305.5 473.8,295.5 474.1,304.4 474.4,293.1 474.5,301.2 474.8,290.9 475.1,298.6 475.3,298.0 475.6,300.0 475.7,292.8 476.1,293.5 476.4,297.7 476.8,296.0 477.0,299.3 477.1,303.5 477.3,295.4 477.7,299.3 477.9,302.4 478.1,297.9 478.4,306.4 478.5,300.8 478.7,295.5 479.1,293.9 479.4,298.7 479.7,304.0 479.9,297.5 480.0,285.0 480.4,303.5 480.7,296.8 481.0,305.1 481.3,297.9 481.4,293.8 481.6,298.4 481.7,299.5 482.2,299.5 482.5,294.2 482.8,299.5 483.0,304.4 483.1,305.1 483.4,298.5 483.6,303.7 483.7,295.8 484.0,298.0 484.5,291.1 484.6,302.2 484.8,298.0 485.1,299.6 485.4,302.6 485.7,302.0 485.9,298.0 486.0,294.9 486.2,300.9 486.6,296.6 486.8,299.5 487.1,294.8 487.4,301.9 487.6,296.2 487.9,299.1 488.2,295.8 488.3,300.3 488.8,291.8 488.9,297.9 489.1,295.1 489.4,297.5 489.6,299.0 489.7,291.6 490.3,293.2 490.5,302.2 490.6,305.4 490.9,297.6 491.1,297.8 491.2,302.5 491.5,304.6 491.7,296.7 492.2,296.1 492.3,303.6 492.6,299.6 492.9,294.9 493.1,299.9 493.2,291.8 493.7,300.3 493.9,291.9 494.2,300.6 494.5,293.6 494.8,300.9 494.9,293.3 495.2,298.3 495.4,295.0 495.5,296.8 495.8,305.2 496.2,301.0 496.5,292.3 496.6,292.7 496.9,300.7 497.1,304.5 497.2,295.7 497.7,301.3 497.8,269.0 498.1,292.3 498.5,299.2 498.6,305.6 498.9,288.7 499.1,299.1 499.4,299.4 499.5,293.6 500.0,299.4 500.3,296.8 500.4,301.3 500.6,297.5 500.8,299.9 501.1,298.8 501.4,300.8 501.7,295.4 502.0,298.5 502.1,304.0 502.3,300.3 502.6,296.0 502.7,301.2 503.1,294.6 503.2,303.6 503.7,290.0 504.0,302.0 504.1,299.1 504.3,301.7 504.6,293.3 504.7,296.3 505.2,295.1 505.4,302.8 505.7,305.6 505.8,295.2 506.1,295.8 506.3,298.7 506.6,300.3 506.7,298.5 507.2,303.2 507.4,297.4 507.7,290.6 507.8,301.5 508.3,293.5 508.4,300.7 508.6,295.8 508.7,295.5 509.0,304.0 509.3,293.0 509.7,301.4 510.0,297.5 510.1,305.7 510.3,293.7 510.6,301.3 510.7,297.5 511.3,299.7 511.5,292.3 511.8,299.7 512.0,282.0 512.1,293.9 512.3,302.0 512.6,299.6 512.7,295.5 513.2,300.4 513.5,290.5 513.8,300.9 513.9,299.2 514.1,303.6 514.3,296.8 514.7,297.5 514.9,299.0 515.2,299.1 515.3,290.6 515.8,296.5 515.9,299.8 516.1,295.3 516.2,299.5 516.6,299.8 516.7,298.5 517.0,297.4 517.3,304.0 517.8,295.2 517.9,300.2 518.2,293.6 518.4,302.1 518.5,296.0 518.7,299.9 519.0,305.2 519.2,292.3 519.6,302.8 519.8,299.0 520.2,300.9 520.4,304.7 520.7,291.8 520.8,298.2 521.2,290.8 521.3,301.1 521.6,295.6 521.9,304.0 522.2,304.0 522.4,292.7 522.5,299.5 522.8,302.2 523.3,299.9 523.5,298.9 523.8,297.8 523.9,294.0 524.1,302.6 524.4,299.4 524.5,290.8 525.0,300.1 525.1,294.7 525.5,303.5 525.6,296.7 525.9,300.3 526.1,303.0 526.4,294.7 526.8,289.7 527.0,307.1 527.1,296.8 527.3,302.1 527.6,303.6 527.8,300.0 528.1,289.1 528.2,307.6 528.7,303.6 528.8,296.8 529.1,304.9 529.4,296.7 529.7,301.4 529.9,296.0 530.2,300.7 530.4,294.9 530.5,300.2 531.0,298.2 531.3,296.0 531.4,304.3 531.7,300.9 531.9,293.9 532.0,303.6 532.2,297.6 532.7,292.5 532.8,297.5 533.3,297.1 533.4,300.7 533.7,304.5 533.9,297.0 534.0,297.5 534.3,302.4 534.5,302.3 535.0,297.6 535.1,297.0 535.3,302.5 535.6,295.4 535.9,302.5 536.2,304.2 536.5,298.8 536.8,295.1 537.0,301.6 537.1,300.7 537.3,296.4 537.6,302.9 537.9,295.2 538.2,296.2 538.5,302.4 538.6,297.6 539.0,302.3 539.1,299.2 539.3,295.3 539.6,296.6 539.7,301.7 540.3,304.0 540.5,298.2 540.8,295.4 540.9,306.1 541.1,301.3 541.3,297.3 541.6,295.9 541.9,302.0 542.3,297.5 542.5,299.6 542.6,299.1 542.9,296.5 543.2,302.1 543.4,297.6 543.7,300.7 543.9,298.0 544.2,302.4 544.5,296.2 544.6,295.1 544.9,302.1 545.1,296.2 545.2,301.7 545.5,299.6 545.9,299.1 546.0,301.5 546.2,297.9 546.8,307.2 546.9,296.6 547.1,301.1 547.2,301.8 547.7,294.6 547.8,302.5 548.0,304.7 548.2,291.3 548.6,301.8 548.9,296.1 549.1,300.2 549.2,304.5 549.5,306.6 549.8,294.9 550.1,289.9 550.3,301.7 550.6,302.6 550.9,303.6 551.1,300.0 551.2,298.7 551.5,300.9 552.0,303.8 552.3,295.8 552.4,299.6 552.6,296.1 552.9,302.5 553.1,303.8 553.2,290.9 553.5,303.8 554.0,298.8 554.1,291.1 554.4,304.5 554.8,298.3 554.9,301.5 555.2,293.6 555.4,303.0 555.5,303.2 555.8,296.0 556.1,300.4 556.3,301.4 556.6,293.3 556.9,303.8 557.2,297.1 557.4,300.7 557.7,301.8 558.0,294.5 558.1,298.9 558.3,300.1 558.6,302.3 558.9,296.3 559.2,297.0 559.4,306.2 559.5,301.4 559.7,293.0 560.1,306.6 560.3,297.5 560.6,304.3 560.9,295.6 561.0,297.7 561.3,302.6 561.8,305.4 562.0,297.9 562.1,298.8 562.4,303.3 562.6,295.0 562.9,301.4 563.0,301.0 563.5,298.2 563.6,304.0 563.8,294.2 564.1,293.3 564.3,299.8 564.7,304.6 564.9,290.6 565.0,301.0 565.5,305.9 565.6,300.2 565.9,303.3 566.1,300.9 566.3,295.3 566.7,301.6 566.9,300.6 567.2,293.6 567.5,303.4 567.6,300.5 567.8,304.3 568.1,295.8 568.4,305.6 568.6,301.9 568.9,295.0 569.0,305.1 569.3,301.6 569.6,299.9 569.9,302.6 570.1,301.9 570.4,303.7 570.7,298.9 570.9,302.3 571.0,296.9 571.2,304.1 571.8,296.1 571.9,305.6 572.1,297.9 572.4,302.0 572.5,300.9 572.9,292.8 573.2,299.3 573.5,301.9 573.6,305.2 573.9,299.4 574.2,296.9 574.4,293.9 574.8,304.0 575.0,301.6 575.2,301.9 575.5,296.2 575.6,293.0 575.8,304.7 576.2,301.1 576.4,294.9 576.5,296.1 577.0,305.6 577.3,302.1 577.5,299.0 577.6,301.4 577.8,306.3 578.1,301.5 578.2,307.1 578.5,301.2 578.8,294.1 579.1,302.5 579.3,294.6 579.6,308.8 579.8,303.0 580.1,301.0 580.2,294.2 580.7,295.6 580.8,304.8 581.3,296.1 581.4,301.5 581.7,294.8 581.9,303.9 582.1,300.7 582.2,305.0 582.5,294.8 582.7,304.1 583.3,298.6 583.4,306.4 583.6,299.1 583.7,299.8 584.0,299.3 584.4,302.3 584.8,304.4 585.0,295.2 585.3,300.7 585.4,294.8 585.6,300.1 585.9,301.7 586.0,299.7 586.4,303.7 586.5,301.0 586.7,293.4 587.1,294.3 587.3,302.6 587.7,292.9 587.9,303.0 588.0,300.1 588.2,294.2 588.8,304.6 589.0,302.0 589.1,292.1 589.4,302.3 589.7,298.7 589.9,303.4 590.2,305.0 590.3,293.1 590.6,301.3 591.0,294.4 591.1,297.1 591.4,307.0 591.7,301.7 591.9,301.0 592.0,292.3 592.5,304.9 592.8,300.2 592.9,301.7 593.3,300.3 593.4,304.6 593.6,304.1 593.7,296.6 594.0,295.8 594.3,302.3 594.6,305.1 594.8,299.8 595.1,301.2 595.4,298.6 595.7,297.3 595.9,303.1 596.0,301.2 596.2,296.8 596.6,300.6 596.9,304.0 597.1,297.1 597.2,303.7 597.5,297.1 597.9,302.7 598.0,300.0 598.2,305.7 598.6,301.6 598.9,307.6 599.2,297.5 599.4,304.5 599.5,294.5 599.9,306.5 600.2,303.0 600.3,297.2 600.6,293.9 600.8,304.7 601.1,303.1 601.2,298.7 601.7,296.9 601.8,301.8 602.2,295.6 602.3,302.9 602.6,297.6 602.8,300.7 603.1,301.4 603.2,307.6 603.7,305.4 604.0,300.4 604.1,296.7 604.5,301.9 604.8,301.4 604.9,301.8 605.2,298.9 605.4,303.5 605.5,305.8 606.0,300.6 606.3,296.5 606.4,304.6 606.6,296.0 606.8,302.5 607.2,306.0 607.4,295.1 607.8,297.2 608.0,304.8 608.1,298.9 608.3,303.3 608.6,299.4 608.9,304.8 609.1,301.5 609.4,298.6 609.5,298.4 610.0,304.9 610.3,305.4 610.4,296.7 610.7,296.9 610.9,305.1 611.0,302.3 611.4,301.6 611.5,299.1 611.8,303.7 612.3,298.8 612.4,304.1 612.7,299.1 612.9,297.6 613.0,299.7 613.2,305.6 613.7,300.9 614.0,293.1 614.1,298.4 614.3,304.0 614.7,302.3 614.9,299.3 615.0,293.6 615.3,306.1 615.7,301.8 616.0,298.7 616.1,303.8 616.3,297.0 616.6,301.6 616.9,304.8 617.0,300.8 617.2,297.1 617.6,302.2 617.8,298.9 618.3,301.4 618.4,300.1 618.7,303.3 618.9,297.4 619.2,304.1 619.5,297.2 619.6,305.2 619.9,302.2 620.1,299.2 620.3,299.6 620.6,305.3 620.9,298.8 621.2,295.1 621.3,304.2 621.6,298.3 621.8,302.7 622.1,300.7 622.2,305.1 622.6,296.4 622.9,303.9 623.3,307.8 623.5,299.1 623.6,302.6 623.9,301.0 624.1,308.2 624.2,299.0 624.5,306.4 624.7,303.6 625.0,300.8 625.5,306.9 625.6,300.9 625.9,302.5 626.2,299.1 626.4,306.0 626.5,296.2 626.8,303.3 627.0,295.5 627.3,305.3 627.8,305.8 627.9,298.1 628.1,304.2 628.4,298.8 628.7,307.0 628.8,297.6 629.3,297.7 629.5,302.5 629.6,300.1 629.9,303.4 630.2,302.7 630.4,295.4 630.5,296.3 631.0,301.8 631.1,296.2 631.3,300.0 631.6,302.4 631.9,292.6 632.2,302.6 632.4,306.2 632.5,303.6 632.7,296.5 633.3,305.9 633.4,292.2 633.8,300.8 633.9,305.2 634.1,304.6 634.2,294.8 634.7,303.3 635.0,299.7 635.1,293.3 635.3,300.5 635.6,304.0 635.7,298.6 636.1,302.4 636.2,301.9 636.5,298.4 637.0,304.8 637.3,305.1 637.4,298.2 637.7,302.9 637.9,293.6 638.2,302.4 638.4,301.9 638.5,303.6 638.7,297.7 639.1,298.1 639.4,301.3 639.7,302.6 639.9,295.2 640.0,298.5 640.3,304.6 640.5,296.1 640.7,304.1 641.1,292.3 641.3,306.2 641.6,306.2 641.9,298.4 642.3,294.1 642.5,303.0 642.8,307.0 643.0,297.5 643.1,306.9 643.3,292.9 643.7,302.6 643.9,301.1 644.2,296.4 644.3,303.0 644.6,301.9 644.9,299.5 645.3,296.3 645.4,307.1 645.6,303.5 645.7,299.3 646.2,306.2 646.3,298.6 646.8,304.8 646.9,299.8 647.1,301.8 647.3,296.1 647.6,301.5 647.7,302.6 648.0,305.3 648.3,299.2 648.6,303.5 648.9,302.5 649.2,302.2 649.4,297.4 649.7,304.4 649.9,294.5 650.3,306.3 650.5,298.8 650.6,293.9 650.8,305.4 651.2,296.6 651.4,305.9 651.5,302.1 651.7,299.4 652.2,298.4 652.3,305.2 652.6,298.9 652.9,303.3 653.1,305.0 653.2,297.7 653.5,303.1 653.8,304.5 654.0,302.9 654.5,194.4 654.8,305.0 654.9,296.7 655.1,300.2 655.2,303.1 655.7,295.6 656.0,305.3 656.1,300.7 656.3,306.6 656.6,305.9 656.9,300.6 657.1,305.4 657.2,299.9 657.5,306.1 657.8,299.6 658.1,303.7 658.3,308.3 658.8,302.6 658.9,304.9 659.2,300.7 659.4,298.7 659.7,299.6 660.0,304.5 660.1,300.8 660.3,298.9 660.6,302.9 660.9,295.2 661.1,293.6 661.4,299.7 661.7,307.9 662.0,301.0 662.3,299.8 662.4,298.2 662.6,302.5 662.9,298.6 663.2,299.4 663.4,305.7 663.8,295.6 664.0,302.8 664.3,298.8 664.4,301.0 664.6,300.6 664.9,294.7 665.0,300.9 665.4,301.1 665.7,295.2 666.0,308.5 666.3,302.3 666.4,301.3 666.7,305.2 666.9,299.9 667.3,305.9 667.5,294.2 667.7,307.0 668.0,301.0 668.3,304.0 668.4,298.1 668.7,306.4 668.9,297.5 669.2,298.9 669.5,304.5 669.6,304.4 669.8,296.6 670.1,296.0 670.3,300.8 670.6,304.5 670.9,302.6 671.0,301.6 671.2,296.6 671.8,304.8 671.9,298.4 672.1,298.7 672.4,305.4 672.7,307.7 672.9,293.7 673.2,305.2 673.5,300.4 673.8,300.9 673.9,303.4 674.1,299.4 674.4,306.1 674.6,305.4 674.7,301.5 675.0,299.2 675.2,307.0 675.8,303.3 675.9,303.8 676.1,301.7 676.4,299.9 676.7,305.9 676.9,290.8 677.3,299.1 677.5,306.1 677.6,299.1 677.8,307.5 678.2,305.3 678.4,304.2 678.7,302.4 678.9,298.7 679.0,297.1 679.3,307.7 679.6,298.9 679.9,304.7 680.1,302.3 680.4,306.5 680.7,302.2 681.0,305.0 681.2,305.6 681.3,304.3 681.6,300.5 681.8,305.9 682.1,304.1 682.4,302.5 682.5,306.8 682.8,297.6 683.3,307.0 683.5,300.1 683.8,307.4 683.9,303.6 684.1,302.8 684.4,298.3 684.5,308.2 684.8,298.8 685.1,293.0 685.3,304.6 685.6,302.9 685.9,298.5 686.1,306.8 686.2,298.8 686.5,302.6 686.7,304.7 687.1,295.2 687.4,305.9 687.7,298.4 687.9,303.5 688.1,299.7 688.4,309.2 688.5,306.3 689.0,299.7 689.1,305.2 689.3,298.6 689.7,300.5 689.9,305.4 690.2,303.6 690.4,300.7 690.8,296.9 691.0,305.5 691.1,302.7 691.3,304.1 691.6,300.0 691.7,302.6 692.2,304.2 692.4,299.5 692.5,306.2 693.0,301.9 693.3,305.0 693.4,298.7 693.6,302.9 693.9,305.6 694.0,303.2 694.3,298.8 694.7,301.9 694.8,303.9 695.1,305.5 695.3,299.9 695.6,308.0 695.9,301.8 696.0,296.3 696.2,306.6 696.6,307.1 697.0,303.1 697.1,300.2 697.3,306.7 697.6,307.3 697.7,303.8 698.2,306.6 698.3,298.6 698.8,306.8 698.9,302.3 699.1,300.1 699.4,304.0 699.6,304.4 699.9,302.5 700.0,304.5 700.2,296.3 700.8,306.5 700.9,302.5 701.1,301.9 701.2,305.4 701.6,308.8 701.9,303.2 702.2,298.1 702.5,303.4 702.8,303.1 702.9,299.6 703.1,301.3 703.2,298.9 703.7,300.3 703.9,305.2 704.2,303.4 704.5,299.6 704.6,304.4 704.9,298.5 705.1,299.4 705.4,306.6 705.7,305.1 705.8,299.3 706.2,303.9 706.5,299.2 706.8,295.0 706.9,305.0 707.1,302.9 707.4,304.7 707.5,299.8 707.7,306.2 708.2,298.5 708.5,305.7 708.8,295.4 708.9,307.8 709.2,302.8 709.4,305.1 709.5,298.4 709.8,306.3 710.3,198.8 710.5,306.4 710.6,301.7 710.8,304.8 711.1,299.5 711.4,306.2 711.5,301.5 712.0,305.2 712.3,304.7 712.4,276.0 712.6,299.0 712.9,305.0 713.1,304.3 713.2,304.5 713.5,308.6 713.8,301.7 714.3,306.1 714.4,298.0 714.6,301.9 714.7,310.1 715.1,298.5 715.4,302.6 715.7,308.1 716.0,305.3 716.1,300.3 716.4,304.3 716.7,306.0 716.9,297.2 717.2,299.5 717.4,306.4 717.8,307.9 718.0,299.8 718.3,308.2 718.4,298.7 718.7,309.9 718.9,303.4 719.0,305.7 719.3,302.3 719.8,304.7 720.0,303.5 720.3,299.2 720.4,305.7 720.6,301.1 720.7,304.9 721.2,303.0 721.5,308.5 721.6,299.5 721.8,296.4 722.1,305.2 722.4,299.7 722.6,304.4 722.7,297.1 723.3,284.0 723.5,307.2 723.6,302.3 724.0,300.1 724.1,303.8 724.3,307.9 724.7,304.2 724.9,299.6 725.3,308.6 725.5,302.1 725.6,308.0 725.9,304.4 726.1,302.0 726.3,305.7 726.7,300.8 726.9,306.0 727.3,305.5 727.5,299.7 727.8,305.4 727.9,299.7 728.1,302.2 728.4,304.6 728.6,298.3 728.7,309.0 729.2,304.4 729.3,299.9 729.6,305.9 729.8,302.0 730.1,302.7 730.2,304.6 730.5,306.8 730.9,303.4 731.2,296.8 731.5,305.2 731.6,304.5 731.9,298.1 732.2,297.0 732.4,306.1 732.5,307.7 732.8,299.8 733.0,308.1 733.5,299.7 733.8,308.0 733.9,299.5 734.2,306.0 734.4,304.2 734.7,303.7 734.8,300.0 735.1,302.0 735.5,304.0 735.6,304.3 735.8,297.4 736.1,300.1 736.2,302.5 736.7,305.0 737.0,301.4 737.1,301.9 737.3,305.0 737.6,303.9 737.9,300.8 738.1,308.3 738.4,303.0 738.5,308.2 739.0,302.6 739.1,306.1 739.4,300.7 739.6,298.2 739.9,307.6 740.1,304.0 740.4,307.0 740.7,300.1 740.8,306.8 741.1,303.9 741.4,298.5 741.6,301.6 741.9,305.8 742.1,299.2 742.4,304.8 742.7,297.5 743.0,304.1 743.1,300.8 743.3,306.3 743.7,304.2 743.9,305.9 744.0,299.8 744.4,302.8 744.5,306.5 744.7,298.8 745.1,305.6 745.3,303.7 745.6,298.5 745.9,303.8 746.0,305.5 746.3,302.4 746.5,300.3 747.0,306.5 747.1,301.1 747.4,305.1 747.6,298.3 747.9,308.6 748.2,303.8 748.5,307.9 748.6,304.0 748.8,296.2 749.1,300.9 749.4,300.1 749.6,304.1 749.9,307.6 750.0,306.4 750.2,301.3 750.6,305.4 750.9,300.1 751.3,302.1 751.4,305.0 751.6,310.7 751.9,298.6 752.2,297.7 752.3,307.5 752.6,303.1 752.9,301.2 753.1,304.2 753.4,303.7 753.6,303.8 753.9,302.0 754.3,301.9 754.5,308.4 754.8,298.4 754.9,305.7 755.2,303.7 755.4,307.5 755.6,309.7 755.7,304.1 756.0,302.1 756.3,307.1 756.6,302.6 756.9,304.8 757.2,306.1 757.4,297.1 757.5,309.0 757.9,299.5 758.2,300.5 758.3,307.1 758.8,297.7 758.9,306.4 759.2,307.8 759.4,299.6 759.8,307.5 760.0,303.7 760.2,300.7 760.5,305.8 760.6,304.2 760.8,302.4 761.2,302.7 761.4,304.8 761.7,307.0 762.0,301.5 762.1,305.6 762.3,305.2 762.8,307.1 762.9,302.6 763.2,303.9 763.4,294.1 763.5,304.2 763.8,295.1 764.3,297.8 764.4,308.8 764.8,300.0 764.9,306.1 765.1,300.4 765.2,305.5 765.5,306.7 766.0,300.1 766.3,304.1 766.4,300.2 766.6,306.5 766.7,303.7 767.1,298.1 767.4,307.9 767.7,299.6 767.8,306.1 768.3,306.2 768.4,299.9 768.6,306.0 768.7,278.2 769.2,301.0 769.4,309.9 769.5,303.0 770.0,299.4 770.1,298.8 770.4,305.2 770.6,305.2 770.7,300.8 771.0,303.2 771.4,304.3 771.7,303.0 772.0,304.3 772.1,303.7 772.4,301.9 772.6,302.0 772.7,300.7 773.0,306.1 773.5,303.5 773.7,305.1 774.0,308.2 774.1,302.4 774.3,306.7 774.6,301.1 774.9,308.3 775.2,308.9 775.3,279.0 775.6,304.1 775.8,299.8 776.1,304.8 776.3,299.6 776.6,304.6 776.9,302.0 777.3,300.7 777.5,306.6 777.6,311.3 777.8,298.8 778.1,306.0 778.3,299.8 778.7,307.4 778.9,301.4 779.0,300.6 779.5,308.6 779.6,308.4 779.8,301.7 780.1,307.1 780.4,301.1 780.6,305.5 780.9,303.4 781.2,304.8 781.5,301.6 781.8,297.8 781.9,304.8 782.1,304.0 782.2,300.2 782.5,306.4 782.9,300.6 783.2,300.7 783.3,309.4 783.6,301.2 783.9,306.8 784.1,296.7 784.4,306.3 784.7,307.6 784.9,301.2 785.0,299.0 785.2,305.5 785.6,302.4 785.8,307.1 786.2,298.5 786.4,302.9 786.7,303.0 786.8,306.9 787.2,302.2 787.5,306.0 787.6,304.6 787.9,306.0 788.1,307.0 788.4,300.4 788.7,307.1 788.8,303.3 789.1,300.4 789.3,302.8 789.6,304.7 789.9,301.1 790.1,303.8 790.2,302.2 790.7,301.3 790.8,305.9 791.1,302.5 791.4,310.8 791.6,296.9 791.9,307.5 792.1,301.3 792.4,308.6 792.5,302.8 792.8,305.8 793.1,302.2 793.3,307.1 793.6,299.9 793.7,309.3 794.1,308.3 794.2,302.2 794.7,301.0 795.0,302.8 795.1,304.0 795.3,302.9 795.7,301.9 795.9,299.6 796.0,301.7 796.2,306.0 796.5,301.2 796.8,305.7 797.3,307.6 797.4,302.7 797.7,303.0 797.9,301.2 798.2,308.0 798.3,299.4 798.5,302.3 798.7,309.2 799.1,307.7 799.3,305.9 799.6,303.7 799.9,309.7 800.0,299.8 800.2,306.8 800.7,303.9 801.0,299.6 801.1,305.1 801.4,301.4 801.7,304.7 801.9,309.6 802.3,297.5 802.5,305.5 802.8,306.6 803.0,300.7 803.1,306.9 803.4,301.2 803.7,303.1 803.9,299.4 804.0,300.8 804.2,307.6 804.6,306.5 804.9,305.1 805.1,306.0 805.4,297.6 805.6,303.9 805.9,309.2 806.3,301.0 806.5,309.4 806.8,305.3 806.9,302.2 807.2,299.6 807.4,305.0 807.7,304.2 807.9,306.4 808.2,304.6 808.3,307.0 808.8,297.5 808.9,307.2 809.2,306.5 809.4,303.7 809.7,300.8 809.9,310.1 810.3,297.7 810.5,304.9 810.6,307.0 810.9,302.4 811.1,302.8 811.4,304.7 811.7,304.7 811.8,300.0 812.0,307.3 812.2,297.0 812.6,307.3 812.9,295.2 813.2,305.1 813.4,303.8 813.7,301.6 813.8,307.1 814.1,306.8 814.3,302.7 814.6,306.6 814.8,300.2 815.1,306.3 815.2,301.2 815.5,298.8 815.7,305.6 816.1,302.7 816.5,307.1 816.6,298.8 816.9,305.5 817.1,307.3 817.2,297.2 817.7,309.2 818.0,303.2 818.3,302.3 818.4,300.5 818.8,298.6 818.9,304.4 819.2,300.8 819.4,304.3 819.8,303.8 820.0,311.3 820.1,305.3 820.3,301.2 820.6,305.2 820.7,303.8 821.1,306.0 821.4,307.5 821.5,307.5 822.0,304.0 822.1,306.3 822.4,302.4 822.6,304.9 822.7,301.5 823.0,307.6 823.4,300.7 823.8,301.0 824.0,308.7 824.1,311.5 824.4,301.7 824.7,307.1 824.9,302.8 825.2,301.8 825.3,300.4 825.5,305.1 825.8,300.6 826.3,299.8 826.4,302.7 826.6,299.3 826.9,305.8 827.2,309.6 827.3,302.0 827.6,304.6 827.8,296.7 828.1,303.3 828.4,303.7 828.7,307.4 828.9,300.0 829.3,307.1 829.5,301.4 829.8,303.8 830.0,300.7 830.1,302.5 830.4,307.9 830.6,301.8 830.7,304.4 831.0,305.8 831.3,302.6 831.6,302.2 831.8,304.5 832.1,306.9 832.4,304.1 832.7,305.0 832.9,305.8 833.2,301.5 833.3,309.4 833.6,308.4 833.9,303.3 834.1,306.5 834.4,301.5 834.6,300.9 834.7,307.2 835.2,309.1 835.3,302.7 835.8,301.8 835.9,304.4 836.2,306.9 836.4,302.5 836.5,308.0 836.9,301.5 837.2,302.8 837.3,306.5 837.8,305.1 837.9,298.6 838.1,303.6 838.2,307.2 838.5,297.5 838.8,299.1 839.0,309.5 839.3,301.0 839.6,302.1 839.8,307.5 840.2,305.6 840.4,303.7 840.5,305.2 841.0,301.0 841.1,304.6 841.3,299.0 841.8,300.8 841.9,304.3 842.1,301.5 842.2,304.9 842.5,298.1 842.7,307.1 843.1,309.4 843.3,298.3 843.8,300.4 843.9,306.5 844.1,304.1 844.2,308.3 844.7,305.7 845.0,298.7 845.1,301.5 845.4,306.4 845.6,308.3 845.8,304.4 846.2,304.1 846.4,303.6 846.7,297.8 847.0,304.6 847.1,306.0 847.4,304.7 847.6,310.5 847.7,302.5 848.1,299.4 848.4,305.9 848.5,307.6 849.0,296.8 849.1,303.8 849.3,305.7 849.6,304.1 849.7,308.1 850.0,306.9 850.2,306.4 850.5,297.3 851.0,304.5 851.1,304.0 851.4,300.4 851.6,298.1 851.9,306.6 852.2,304.9 852.3,302.6" stroke="#93c47d"/>
</g>
<rect x="85" y="82" width="1" height="270" fill="#ffffff"/>
<rect x="85" y="351" width="768" height="1" fill="#ffffff"/>
<text x="79.8" y="355.9" font-size="12" fill="#dcdcdc" text-anchor="end" >0</text>
<text x="79.8" y="311.1" font-size="12" fill="#dcdcdc" text-anchor="end" >4</text>
<text x="79.8" y="266.9" font-size="12" fill="#dcdcdc" text-anchor="end" >8</text>
<text x="79.8" y="221.9" font-size="12" fill="#dcdcdc" text-anchor="end" >12</text>
<text x="79.8" y="176.9" font-size="12" fill="#dcdcdc" text-anchor="end" >16</text>
<text x="79.8" y="131.9" font-size="12" fill="#dcdcdc" text-anchor="end" >20</text>
<text x="79.8" y="86.9" font-size="12" fill="#dcdcdc" text-anchor="end" >24</text>
<text x="85.5" y="369.8" font-size="12" fill="#dcdcdc" text-anchor="middle" >0</text>
<text x="162.2" y="369.8" font-size="12" fill="#dcdcdc" text-anchor="middle" >500</text>
<text x="238.9" y="369.8" font-size="12" fill="#dcdcdc" text-anchor="middle" >1000</text>
<text x="315.6" y="369.8" font-size="12" fill="#dcdcdc" text-anchor="middle" >1500</text>
<text x="392.3" y="369.8" font-size="12" fill="#dcdcdc" text-anchor="middle" >2000</text>
<text x="469.0" y="369.8" font-size="12" fill="#dcdcdc" text-anchor="middle" >2500</text>
<text x="545.7" y="369.8" font-size="12" fill="#dcdcdc" text-anchor="middle" >3000</text>
<text x="622.4" y="369.8" font-size="12" fill="#dcdcdc" text-anchor="middle" >3500</text>
<text x="699.1" y="369.8" font-size="12" fill="#dcdcdc" text-anchor="middle" >4000</text>
<text x="775.8" y="369.8" font-size="12" fill="#dcdcdc" text-anchor="middle" >4500</text>
<text x="852.5" y="369.8" font-size="12" fill="#dcdcdc" text-anchor="middle" >5000</text>
<text x="451.3" y="400" font-size="12" fill="#ffffff" letter-spacing="0.5">Frame</text>
<text transform="translate(33.5,303.7) rotate(-90)" x="-0.07" y="0" font-size="12" fill="#ffffff" letter-spacing="-0.018">Time Between Presents in ms</text>
</svg></body></html>
